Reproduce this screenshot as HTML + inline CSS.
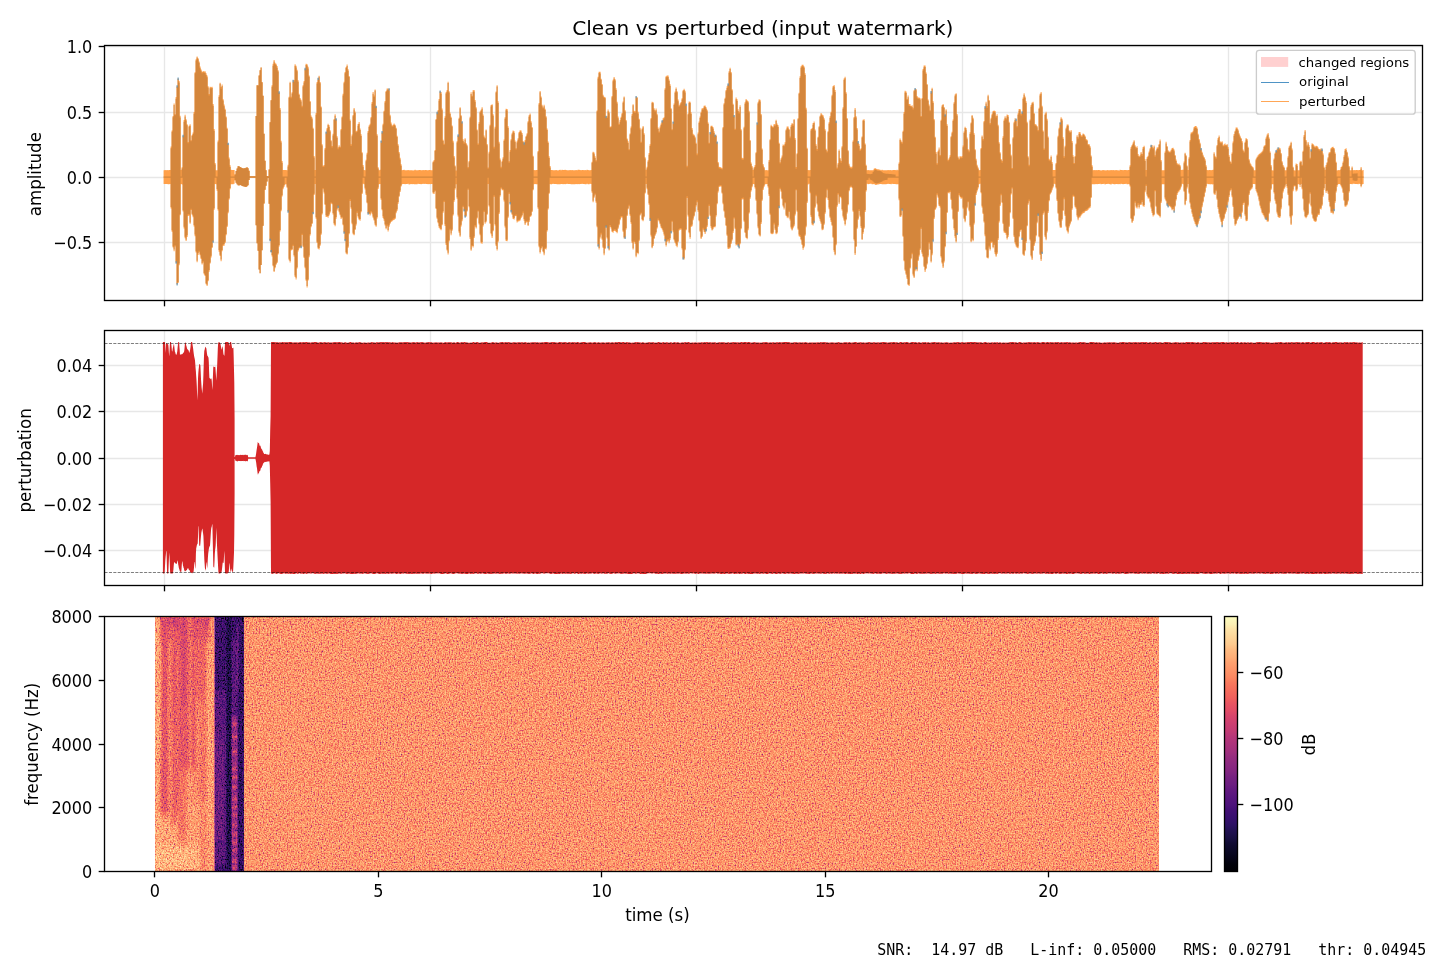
<!DOCTYPE html>
<html lang="en"><head><meta charset="utf-8"><title>Clean vs perturbed (input watermark)</title>
<style>html,body{margin:0;padding:0;background:#fff;}body{width:1440px;height:960px;overflow:hidden;position:relative;}svg{position:absolute;left:0;top:0;display:block;}text{font-family:"DejaVu Sans","Liberation Sans",sans-serif;fill:#000;}.t{font-size:16.67px;}.l{font-size:16.67px;}.ttl{font-size:20px;}.lg{font-size:13.33px;}.mono{font-family:"DejaVu Sans Mono","Liberation Mono",monospace;font-size:15px;white-space:pre;}</style></head><body>
<svg width="1440" height="960" viewBox="0 0 1440 960">
<defs>
<filter id="spec" x="0" y="0" width="100%" height="100%" color-interpolation-filters="sRGB"><feTurbulence type="fractalNoise" baseFrequency="0.71 0.66" numOctaves="2" seed="3"/><feColorMatrix type="matrix" values="1 0 0 0 0  1 0 0 0 0  1 0 0 0 0  0 0 0 0 1"/><feComponentTransfer result="dev"><feFuncR type="table" tableValues="0.0027 0.0027 0.0027 0.0027 0.0027 0.0147 0.0426 0.0696 0.0956 0.1208 0.1450 0.1683 0.1908 0.2123 0.2330 0.2529 0.2718 0.2900 0.3073 0.3239 0.3397 0.3547 0.3690 0.3826 0.3956 0.4080 0.4197 0.4309 0.4415 0.4517 0.4613 0.4705 0.4793 0.4877 0.4957 0.5033 0.5106 0.5177 0.5244 0.5308 0.5370 0.5430 0.5487 0.5542 0.5595 0.5646 0.5696 0.5744 0.5790 0.5834 0.5878 0.5920 0.5960 0.6000 0.6038 0.6076 0.6112 0.6147 0.6181 0.6215 0.6229 0.6229 0.6229 0.6229 0.6229"/><feFuncG type="table" tableValues="0.0027 0.0027 0.0027 0.0027 0.0027 0.0147 0.0426 0.0696 0.0956 0.1208 0.1450 0.1683 0.1908 0.2123 0.2330 0.2529 0.2718 0.2900 0.3073 0.3239 0.3397 0.3547 0.3690 0.3826 0.3956 0.4080 0.4197 0.4309 0.4415 0.4517 0.4613 0.4705 0.4793 0.4877 0.4957 0.5033 0.5106 0.5177 0.5244 0.5308 0.5370 0.5430 0.5487 0.5542 0.5595 0.5646 0.5696 0.5744 0.5790 0.5834 0.5878 0.5920 0.5960 0.6000 0.6038 0.6076 0.6112 0.6147 0.6181 0.6215 0.6229 0.6229 0.6229 0.6229 0.6229"/><feFuncB type="table" tableValues="0.0027 0.0027 0.0027 0.0027 0.0027 0.0147 0.0426 0.0696 0.0956 0.1208 0.1450 0.1683 0.1908 0.2123 0.2330 0.2529 0.2718 0.2900 0.3073 0.3239 0.3397 0.3547 0.3690 0.3826 0.3956 0.4080 0.4197 0.4309 0.4415 0.4517 0.4613 0.4705 0.4793 0.4877 0.4957 0.5033 0.5106 0.5177 0.5244 0.5308 0.5370 0.5430 0.5487 0.5542 0.5595 0.5646 0.5696 0.5744 0.5790 0.5834 0.5878 0.5920 0.5960 0.6000 0.6038 0.6076 0.6112 0.6147 0.6181 0.6215 0.6229 0.6229 0.6229 0.6229 0.6229"/></feComponentTransfer><feComposite in="dev" in2="SourceGraphic" operator="arithmetic" k1="0" k2="1" k3="1" k4="-0.5"/><feComponentTransfer><feFuncR type="table" tableValues="0.001 0.008 0.019 0.036 0.057 0.079 0.103 0.129 0.159 0.191 0.225 0.259 0.291 0.323 0.354 0.384 0.415 0.445 0.476 0.507 0.538 0.569 0.601 0.633 0.665 0.697 0.729 0.761 0.792 0.823 0.852 0.879 0.904 0.926 0.944 0.958 0.970 0.978 0.985 0.989 0.993 0.995 0.997 0.997 0.997 0.997 0.996 0.994 0.992 0.991 0.989 0.987"/><feFuncG type="table" tableValues="0.000 0.006 0.016 0.028 0.042 0.054 0.063 0.068 0.068 0.065 0.060 0.060 0.065 0.074 0.085 0.098 0.110 0.123 0.135 0.146 0.157 0.167 0.178 0.188 0.198 0.209 0.219 0.231 0.244 0.259 0.276 0.296 0.320 0.347 0.378 0.411 0.447 0.484 0.521 0.558 0.595 0.632 0.668 0.705 0.741 0.777 0.813 0.849 0.884 0.920 0.956 0.991"/><feFuncB type="table" tableValues="0.014 0.045 0.085 0.125 0.167 0.212 0.258 0.305 0.353 0.396 0.432 0.458 0.475 0.487 0.496 0.501 0.505 0.507 0.508 0.508 0.507 0.504 0.500 0.495 0.489 0.481 0.471 0.460 0.448 0.434 0.419 0.403 0.388 0.375 0.365 0.360 0.360 0.366 0.377 0.392 0.410 0.432 0.456 0.483 0.511 0.541 0.573 0.606 0.640 0.676 0.712 0.750"/></feComponentTransfer><feComposite in2="SourceGraphic" operator="in"/></filter><filter id="bl" x="-30%" y="-10%" width="160%" height="120%" color-interpolation-filters="sRGB"><feGaussianBlur stdDeviation="1.2 3"/></filter><filter id="bl2" x="-30%" y="-10%" width="160%" height="120%" color-interpolation-filters="sRGB"><feGaussianBlur stdDeviation="0.5 0.8"/></filter><clipPath id="cs1"><rect x="155" y="616" width="59.7" height="256"/></clipPath><clipPath id="cs2"><rect x="214.7" y="616" width="29.2" height="256"/></clipPath>
<linearGradient id="magma" x1="0" y1="1" x2="0" y2="0">
<stop offset="0" stop-color="rgb(0,0,4)"/>
<stop offset="0.03" stop-color="rgb(2,2,11)"/>
<stop offset="0.05" stop-color="rgb(5,4,23)"/>
<stop offset="0.08" stop-color="rgb(10,8,36)"/>
<stop offset="0.11" stop-color="rgb(16,11,50)"/>
<stop offset="0.13" stop-color="rgb(24,15,65)"/>
<stop offset="0.16" stop-color="rgb(33,17,82)"/>
<stop offset="0.18" stop-color="rgb(43,17,98)"/>
<stop offset="0.21" stop-color="rgb(55,15,111)"/>
<stop offset="0.24" stop-color="rgb(66,15,117)"/>
<stop offset="0.26" stop-color="rgb(77,18,123)"/>
<stop offset="0.29" stop-color="rgb(87,21,126)"/>
<stop offset="0.32" stop-color="rgb(98,25,128)"/>
<stop offset="0.34" stop-color="rgb(108,29,129)"/>
<stop offset="0.37" stop-color="rgb(118,33,129)"/>
<stop offset="0.39" stop-color="rgb(129,37,129)"/>
<stop offset="0.42" stop-color="rgb(140,41,129)"/>
<stop offset="0.45" stop-color="rgb(150,45,127)"/>
<stop offset="0.47" stop-color="rgb(161,48,126)"/>
<stop offset="0.5" stop-color="rgb(172,51,123)"/>
<stop offset="0.53" stop-color="rgb(183,55,121)"/>
<stop offset="0.55" stop-color="rgb(194,59,117)"/>
<stop offset="0.58" stop-color="rgb(205,63,113)"/>
<stop offset="0.61" stop-color="rgb(215,69,108)"/>
<stop offset="0.63" stop-color="rgb(225,76,103)"/>
<stop offset="0.66" stop-color="rgb(233,85,98)"/>
<stop offset="0.68" stop-color="rgb(240,96,93)"/>
<stop offset="0.71" stop-color="rgb(245,108,92)"/>
<stop offset="0.74" stop-color="rgb(249,121,93)"/>
<stop offset="0.76" stop-color="rgb(251,135,97)"/>
<stop offset="0.79" stop-color="rgb(253,148,104)"/>
<stop offset="0.82" stop-color="rgb(254,161,111)"/>
<stop offset="0.84" stop-color="rgb(254,174,119)"/>
<stop offset="0.87" stop-color="rgb(254,187,129)"/>
<stop offset="0.89" stop-color="rgb(254,201,141)"/>
<stop offset="0.92" stop-color="rgb(253,214,154)"/>
<stop offset="0.95" stop-color="rgb(253,227,167)"/>
<stop offset="0.97" stop-color="rgb(252,240,181)"/>
<stop offset="1" stop-color="rgb(252,253,191)"/>
</linearGradient>
<clipPath id="c1"><rect x="104.5" y="45.5" width="1318" height="255"/></clipPath>
<clipPath id="c2"><rect x="104.5" y="330.5" width="1318" height="255"/></clipPath>
</defs>
<rect width="1440" height="960" fill="#fff"/>
<g id="ax1">
<line x1="164.5" y1="45.5" x2="164.5" y2="300.5" stroke="#e7e7e7" stroke-width="1.33"/>
<line x1="430.5" y1="45.5" x2="430.5" y2="300.5" stroke="#e7e7e7" stroke-width="1.33"/>
<line x1="696.5" y1="45.5" x2="696.5" y2="300.5" stroke="#e7e7e7" stroke-width="1.33"/>
<line x1="962.5" y1="45.5" x2="962.5" y2="300.5" stroke="#e7e7e7" stroke-width="1.33"/>
<line x1="1228.5" y1="45.5" x2="1228.5" y2="300.5" stroke="#e7e7e7" stroke-width="1.33"/>
<line x1="104.5" y1="46.5" x2="1422.5" y2="46.5" stroke="#e7e7e7" stroke-width="1.33"/>
<line x1="104.5" y1="112.5" x2="1422.5" y2="112.5" stroke="#e7e7e7" stroke-width="1.33"/>
<line x1="104.5" y1="177.5" x2="1422.5" y2="177.5" stroke="#e7e7e7" stroke-width="1.33"/>
<line x1="104.5" y1="242.5" x2="1422.5" y2="242.5" stroke="#e7e7e7" stroke-width="1.33"/>
<g clip-path="url(#c1)">
<path d="M163.6 170.18L164.6 170.18L164.6 169.9L165.6 169.9L165.6 170.37L166.6 170.37L166.6 170.05L167.6 170.05L167.6 170.14L168.6 170.14L168.6 170.06L169.6 170.06L169.6 169.95L170.6 169.95L170.6 146.56L171.6 146.56L171.6 130.61L172.6 130.61L172.6 116.04L173.6 116.04L173.6 103.59L174.6 103.59L174.6 114.16L175.6 114.16L175.6 96.95L176.6 96.95L176.6 85.78L177.6 85.78L177.6 78.14L178.6 78.14L178.6 81.11L179.6 81.11L179.6 115.77L180.6 115.77L180.6 169.98L181.6 169.98L181.6 167.26L182.6 167.26L182.6 135.38L183.6 135.38L183.6 119.99L184.6 119.99L184.6 114.73L185.6 114.73L185.6 119.26L186.6 119.26L186.6 124.14L187.6 124.14L187.6 142.08L188.6 142.08L188.6 125.63L189.6 125.63L189.6 124.25L190.6 124.25L190.6 140.14L191.6 140.14L191.6 134.88L192.6 134.88L192.6 132.44L193.6 132.44L193.6 111.97L194.6 111.97L194.6 72.3L195.6 72.3L195.6 59.3L196.6 59.3L196.6 56.38L197.6 56.38L197.6 58.26L198.6 58.26L198.6 61.4L199.6 61.4L199.6 66.6L200.6 66.6L200.6 69.43L201.6 69.43L201.6 72.11L202.6 72.11L202.6 70.88L203.6 70.88L203.6 71.55L204.6 71.55L204.6 71.13L205.6 71.13L205.6 73.34L206.6 73.34L206.6 75.55L207.6 75.55L207.6 86.33L208.6 86.33L208.6 94.09L209.6 94.09L209.6 86.73L210.6 86.73L210.6 87.2L211.6 87.2L211.6 86.86L212.6 86.86L212.6 104.07L213.6 104.07L213.6 129.06L214.6 129.06L214.6 163.1L215.6 163.1L215.6 170.24L216.6 170.24L216.6 170.33L217.6 170.33L217.6 140.57L218.6 140.57L218.6 95.36L219.6 95.36L219.6 82.7L220.6 82.7L220.6 87.01L221.6 87.01L221.6 84.59L222.6 84.59L222.6 99.2L223.6 99.2L223.6 104.55L224.6 104.55L224.6 108.63L225.6 108.63L225.6 116.4L226.6 116.4L226.6 127.79L227.6 127.79L227.6 143.23L228.6 143.23L228.6 157.5L229.6 157.5L229.6 165.2L230.6 165.2L230.6 169.84L231.6 169.84L231.6 169.99L232.6 169.99L232.6 169.93L233.6 169.93L233.6 169.98L234.6 169.98L234.6 174.54L235.6 174.54L235.6 171.04L236.6 171.04L236.6 168.6L237.6 168.6L237.6 166.35L238.6 166.35L238.6 166.15L239.6 166.15L239.6 167.01L240.6 167.01L240.6 167.61L241.6 167.61L241.6 167.99L242.6 167.99L242.6 168.41L243.6 168.41L243.6 168.29L244.6 168.29L244.6 168.2L245.6 168.2L245.6 167.78L246.6 167.78L246.6 167.33L247.6 167.33L247.6 168.28L248.6 168.28L248.6 170.83L249.6 170.83L249.6 176.26L250.6 176.26L250.6 176.27L251.6 176.27L251.6 176.27L252.6 176.27L252.6 176.25L253.6 176.25L253.6 176.25L254.6 176.25L254.6 176.26L255.6 176.26L255.6 115.88L256.6 115.88L256.6 85.36L257.6 85.36L257.6 85.46L258.6 85.46L258.6 75.61L259.6 75.61L259.6 70.26L260.6 70.26L260.6 67.55L261.6 67.55L261.6 82.22L262.6 82.22L262.6 95.66L263.6 95.66L263.6 133.85L264.6 133.85L264.6 160.72L265.6 160.72L265.6 170.18L266.6 170.18L266.6 175.97L267.6 175.97L267.6 176.26L268.6 176.26L268.6 169.5L269.6 169.5L269.6 122.36L270.6 122.36L270.6 100.22L271.6 100.22L271.6 85.3L272.6 85.3L272.6 63.87L273.6 63.87L273.6 60.11L274.6 60.11L274.6 62.84L275.6 62.84L275.6 63.87L276.6 63.87L276.6 66.11L277.6 66.11L277.6 70.37L278.6 70.37L278.6 91.83L279.6 91.83L279.6 107.98L280.6 107.98L280.6 140.82L281.6 140.82L281.6 160.91L282.6 160.91L282.6 169.99L283.6 169.99L283.6 169.88L284.6 169.88L284.6 169.92L285.6 169.92L285.6 169.95L286.6 169.95L286.6 170.21L287.6 170.21L287.6 164.86L288.6 164.86L288.6 96.64L289.6 96.64L289.6 81.84L290.6 81.84L290.6 96.68L291.6 96.68L291.6 92.37L292.6 92.37L292.6 80.35L293.6 80.35L293.6 79.92L294.6 79.92L294.6 64.21L295.6 64.21L295.6 65.7L296.6 65.7L296.6 69.67L297.6 69.67L297.6 80.31L298.6 80.31L298.6 93.85L299.6 93.85L299.6 97.96L300.6 97.96L300.6 99.65L301.6 99.65L301.6 105.83L302.6 105.83L302.6 85.2L303.6 85.2L303.6 81.03L304.6 81.03L304.6 68.4L305.6 68.4L305.6 63.67L306.6 63.67L306.6 64.34L307.6 64.34L307.6 66.79L308.6 66.79L308.6 75.38L309.6 75.38L309.6 100.96L310.6 100.96L310.6 115.45L311.6 115.45L311.6 117.41L312.6 117.41L312.6 127.77L313.6 127.77L313.6 155.93L314.6 155.93L314.6 169.95L315.6 169.95L315.6 112.95L316.6 112.95L316.6 81.98L317.6 81.98L317.6 78.27L318.6 78.27L318.6 75.68L319.6 75.68L319.6 82.04L320.6 82.04L320.6 106.43L321.6 106.43L321.6 144.24L322.6 144.24L322.6 165.87L323.6 165.87L323.6 165.11L324.6 165.11L324.6 148.05L325.6 148.05L325.6 131.99L326.6 131.99L326.6 127.99L327.6 127.99L327.6 123.78L328.6 123.78L328.6 125.25L329.6 125.25L329.6 130.33L330.6 130.33L330.6 140.26L331.6 140.26L331.6 146.08L332.6 146.08L332.6 133.85L333.6 133.85L333.6 118.92L334.6 118.92L334.6 114.29L335.6 114.29L335.6 118.76L336.6 118.76L336.6 136.31L337.6 136.31L337.6 147.6L338.6 147.6L338.6 145.2L339.6 145.2L339.6 146.83L340.6 146.83L340.6 128.89L341.6 128.89L341.6 116.52L342.6 116.52L342.6 93.85L343.6 93.85L343.6 81.76L344.6 81.76L344.6 72.1L345.6 72.1L345.6 66.9L346.6 66.9L346.6 64.58L347.6 64.58L347.6 69.36L348.6 69.36L348.6 76.02L349.6 76.02L349.6 119.57L350.6 119.57L350.6 144.37L351.6 144.37L351.6 134.53L352.6 134.53L352.6 114.9L353.6 114.9L353.6 108.01L354.6 108.01L354.6 111.39L355.6 111.39L355.6 131.13L356.6 131.13L356.6 130.61L357.6 130.61L357.6 123.9L358.6 123.9L358.6 122.01L359.6 122.01L359.6 128.44L360.6 128.44L360.6 134.27L361.6 134.27L361.6 152.22L362.6 152.22L362.6 165.05L363.6 165.05L363.6 169.91L364.6 169.91L364.6 170.31L365.6 170.31L365.6 159.86L366.6 159.86L366.6 152.69L367.6 152.69L367.6 131L368.6 131L368.6 125.38L369.6 125.38L369.6 123.73L370.6 123.73L370.6 116.99L371.6 116.99L371.6 102.07L372.6 102.07L372.6 91.96L373.6 91.96L373.6 95.53L374.6 95.53L374.6 89.4L375.6 89.4L375.6 106.32L376.6 106.32L376.6 134.33L377.6 134.33L377.6 167.21L378.6 167.21L378.6 170.3L379.6 170.3L379.6 169.84L380.6 169.84L380.6 141L381.6 141L381.6 131.66L382.6 131.66L382.6 123.65L383.6 123.65L383.6 110.64L384.6 110.64L384.6 101.11L385.6 101.11L385.6 91.02L386.6 91.02L386.6 88.61L387.6 88.61L387.6 88.5L388.6 88.5L388.6 88.79L389.6 88.79L389.6 114.74L390.6 114.74L390.6 122.58L391.6 122.58L391.6 125.52L392.6 125.52L392.6 124.85L393.6 124.85L393.6 123.54L394.6 123.54L394.6 124.64L395.6 124.64L395.6 127.73L396.6 127.73L396.6 135.79L397.6 135.79L397.6 144.26L398.6 144.26L398.6 152L399.6 152L399.6 157.76L400.6 157.76L400.6 164.37L401.6 164.37L401.6 170.37L402.6 170.37L402.6 170.05L403.6 170.05L403.6 169.8L404.6 169.8L404.6 170.3L405.6 170.3L405.6 170.21L406.6 170.21L406.6 170.19L407.6 170.19L407.6 170.03L408.6 170.03L408.6 170.22L409.6 170.22L409.6 170.27L410.6 170.27L410.6 170.29L411.6 170.29L411.6 170.36L412.6 170.36L412.6 170.38L413.6 170.38L413.6 170.32L414.6 170.32L414.6 169.82L415.6 169.82L415.6 170.24L416.6 170.24L416.6 170.33L417.6 170.33L417.6 170.21L418.6 170.21L418.6 170.06L419.6 170.06L419.6 169.97L420.6 169.97L420.6 170.23L421.6 170.23L421.6 170.25L422.6 170.25L422.6 169.97L423.6 169.97L423.6 170.21L424.6 170.21L424.6 169.99L425.6 169.99L425.6 170.04L426.6 170.04L426.6 170.35L427.6 170.35L427.6 170.15L428.6 170.15L428.6 169.98L429.6 169.98L429.6 169.92L430.6 169.92L430.6 170.19L431.6 170.19L431.6 170.25L432.6 170.25L432.6 161.43L433.6 161.43L433.6 160L434.6 160L434.6 150.03L435.6 150.03L435.6 118.93L436.6 118.93L436.6 112.33L437.6 112.33L437.6 109.99L438.6 109.99L438.6 99.06L439.6 99.06L439.6 91.12L440.6 91.12L440.6 92.03L441.6 92.03L441.6 108.48L442.6 108.48L442.6 139.64L443.6 139.64L443.6 143.8L444.6 143.8L444.6 116.16L445.6 116.16L445.6 92.23L446.6 92.23L446.6 89.91L447.6 89.91L447.6 81.83L448.6 81.83L448.6 91.13L449.6 91.13L449.6 112.56L450.6 112.56L450.6 116.63L451.6 116.63L451.6 125.45L452.6 125.45L452.6 140.83L453.6 140.83L453.6 155.98L454.6 155.98L454.6 165.44L455.6 165.44L455.6 170.39L456.6 170.39L456.6 141.23L457.6 141.23L457.6 134.91L458.6 134.91L458.6 117.83L459.6 117.83L459.6 107.17L460.6 107.17L460.6 115.19L461.6 115.19L461.6 121.77L462.6 121.77L462.6 139.37L463.6 139.37L463.6 142.25L464.6 142.25L464.6 138.16L465.6 138.16L465.6 142.99L466.6 142.99L466.6 144.82L467.6 144.82L467.6 166.91L468.6 166.91L468.6 160.99L469.6 160.99L469.6 116.8L470.6 116.8L470.6 92.15L471.6 92.15L471.6 95.75L472.6 95.75L472.6 90.31L473.6 90.31L473.6 89.97L474.6 89.97L474.6 100.1L475.6 100.1L475.6 107.32L476.6 107.32L476.6 129.45L477.6 129.45L477.6 143.4L478.6 143.4L478.6 122.24L479.6 122.24L479.6 111.42L480.6 111.42L480.6 109.68L481.6 109.68L481.6 107.16L482.6 107.16L482.6 114.48L483.6 114.48L483.6 135.53L484.6 135.53L484.6 137.72L485.6 137.72L485.6 129.44L486.6 129.44L486.6 143.89L487.6 143.89L487.6 167.45L488.6 167.45L488.6 151.81L489.6 151.81L489.6 124.69L490.6 124.69L490.6 104.96L491.6 104.96L491.6 104.32L492.6 104.32L492.6 114.22L493.6 114.22L493.6 146.79L494.6 146.79L494.6 126.82L495.6 126.82L495.6 91.38L496.6 91.38L496.6 85.15L497.6 85.15L497.6 101.29L498.6 101.29L498.6 141.86L499.6 141.86L499.6 158.54L500.6 158.54L500.6 166.84L501.6 166.84L501.6 160.68L502.6 160.68L502.6 157.13L503.6 157.13L503.6 139.62L504.6 139.62L504.6 117.17L505.6 117.17L505.6 108.76L506.6 108.76L506.6 109.04L507.6 109.04L507.6 126.29L508.6 126.29L508.6 161.21L509.6 161.21L509.6 150.07L510.6 150.07L510.6 139.3L511.6 139.3L511.6 133.25L512.6 133.25L512.6 130.56L513.6 130.56L513.6 131.28L514.6 131.28L514.6 140.62L515.6 140.62L515.6 148.22L516.6 148.22L516.6 141.32L517.6 141.32L517.6 138.16L518.6 138.16L518.6 132.08L519.6 132.08L519.6 130.16L520.6 130.16L520.6 130.4L521.6 130.4L521.6 132.94L522.6 132.94L522.6 140.97L523.6 140.97L523.6 142.88L524.6 142.88L524.6 140.07L525.6 140.07L525.6 135.93L526.6 135.93L526.6 133.32L527.6 133.32L527.6 121.28L528.6 121.28L528.6 115.21L529.6 115.21L529.6 113.42L530.6 113.42L530.6 121.36L531.6 121.36L531.6 127.02L532.6 127.02L532.6 155.74L533.6 155.74L533.6 169.93L534.6 169.93L534.6 170.34L535.6 170.34L535.6 169.9L536.6 169.9L536.6 169.9L537.6 169.9L537.6 151.08L538.6 151.08L538.6 103.1L539.6 103.1L539.6 90.91L540.6 90.91L540.6 96.62L541.6 96.62L541.6 104.68L542.6 104.68L542.6 107.46L543.6 107.46L543.6 104.82L544.6 104.82L544.6 108.77L545.6 108.77L545.6 116.25L546.6 116.25L546.6 128.45L547.6 128.45L547.6 141.46L548.6 141.46L548.6 156.27L549.6 156.27L549.6 166.11L550.6 166.11L550.6 169.99L551.6 169.99L551.6 169.9L552.6 169.9L552.6 170.3L553.6 170.3L553.6 170.21L554.6 170.21L554.6 170.17L555.6 170.17L555.6 169.93L556.6 169.93L556.6 170.23L557.6 170.23L557.6 170.38L558.6 170.38L558.6 170.07L559.6 170.07L559.6 169.82L560.6 169.82L560.6 170.16L561.6 170.16L561.6 169.86L562.6 169.86L562.6 170.05L563.6 170.05L563.6 170L564.6 170L564.6 169.87L565.6 169.87L565.6 169.91L566.6 169.91L566.6 170.18L567.6 170.18L567.6 170.23L568.6 170.23L568.6 170.27L569.6 170.27L569.6 169.9L570.6 169.9L570.6 170.36L571.6 170.36L571.6 169.88L572.6 169.88L572.6 170.32L573.6 170.32L573.6 170.23L574.6 170.23L574.6 170.24L575.6 170.24L575.6 169.97L576.6 169.97L576.6 170.19L577.6 170.19L577.6 169.86L578.6 169.86L578.6 169.81L579.6 169.81L579.6 170.1L580.6 170.1L580.6 170.14L581.6 170.14L581.6 170.05L582.6 170.05L582.6 170.08L583.6 170.08L583.6 170.25L584.6 170.25L584.6 170.05L585.6 170.05L585.6 170.16L586.6 170.16L586.6 169.85L587.6 169.85L587.6 169.91L588.6 169.91L588.6 170.37L589.6 170.37L589.6 170.24L590.6 170.24L590.6 169.92L591.6 169.92L591.6 161.82L592.6 161.82L592.6 151.77L593.6 151.77L593.6 152.54L594.6 152.54L594.6 156.21L595.6 156.21L595.6 160.29L596.6 160.29L596.6 110.5L597.6 110.5L597.6 76.85L598.6 76.85L598.6 71.86L599.6 71.86L599.6 71.67L600.6 71.67L600.6 78.79L601.6 78.79L601.6 83.92L602.6 83.92L602.6 94.76L603.6 94.76L603.6 96.68L604.6 96.68L604.6 97.17L605.6 97.17L605.6 116.28L606.6 116.28L606.6 116.31L607.6 116.31L607.6 109.57L608.6 109.57L608.6 111.76L609.6 111.76L609.6 126.64L610.6 126.64L610.6 126.24L611.6 126.24L611.6 95.94L612.6 95.94L612.6 79.71L613.6 79.71L613.6 77.02L614.6 77.02L614.6 79.26L615.6 79.26L615.6 88.37L616.6 88.37L616.6 101.69L617.6 101.69L617.6 116.53L618.6 116.53L618.6 123.82L619.6 123.82L619.6 120.12L620.6 120.12L620.6 116.78L621.6 116.78L621.6 112.93L622.6 112.93L622.6 101.5L623.6 101.5L623.6 96.56L624.6 96.56L624.6 110.26L625.6 110.26L625.6 119.9L626.6 119.9L626.6 138.54L627.6 138.54L627.6 141.37L628.6 141.37L628.6 149.15L629.6 149.15L629.6 133.44L630.6 133.44L630.6 126.62L631.6 126.62L631.6 114L632.6 114L632.6 104.18L633.6 104.18L633.6 110.8L634.6 110.8L634.6 111.23L635.6 111.23L635.6 96.55L636.6 96.55L636.6 96.91L637.6 96.91L637.6 111.72L638.6 111.72L638.6 118.64L639.6 118.64L639.6 127.77L640.6 127.77L640.6 141.8L641.6 141.8L641.6 128.51L642.6 128.51L642.6 126.11L643.6 126.11L643.6 133.31L644.6 133.31L644.6 157.15L645.6 157.15L645.6 169.87L646.6 169.87L646.6 166.67L647.6 166.67L647.6 160.31L648.6 160.31L648.6 153.06L649.6 153.06L649.6 144.37L650.6 144.37L650.6 118.04L651.6 118.04L651.6 101.69L652.6 101.69L652.6 102.21L653.6 102.21L653.6 108.16L654.6 108.16L654.6 110.43L655.6 110.43L655.6 108.5L656.6 108.5L656.6 113.7L657.6 113.7L657.6 127.61L658.6 127.61L658.6 131.44L659.6 131.44L659.6 126.48L660.6 126.48L660.6 123.6L661.6 123.6L661.6 120.82L662.6 120.82L662.6 118.25L663.6 118.25L663.6 117.31L664.6 117.31L664.6 88.35L665.6 88.35L665.6 76.15L666.6 76.15L666.6 75.5L667.6 75.5L667.6 75.51L668.6 75.51L668.6 79.53L669.6 79.53L669.6 84.26L670.6 84.26L670.6 108.14L671.6 108.14L671.6 129.17L672.6 129.17L672.6 122.06L673.6 122.06L673.6 103.55L674.6 103.55L674.6 91.52L675.6 91.52L675.6 87.49L676.6 87.49L676.6 91.15L677.6 91.15L677.6 99.56L678.6 99.56L678.6 105.57L679.6 105.57L679.6 103.6L680.6 103.6L680.6 102.1L681.6 102.1L681.6 98.19L682.6 98.19L682.6 90.13L683.6 90.13L683.6 88.8L684.6 88.8L684.6 90.81L685.6 90.81L685.6 104.19L686.6 104.19L686.6 165.7L687.6 165.7L687.6 113.41L688.6 113.41L688.6 101.56L689.6 101.56L689.6 101.79L690.6 101.79L690.6 112.28L691.6 112.28L691.6 127.93L692.6 127.93L692.6 133.86L693.6 133.86L693.6 134.64L694.6 134.64L694.6 136.86L695.6 136.86L695.6 142.82L696.6 142.82L696.6 153.61L697.6 153.61L697.6 132.57L698.6 132.57L698.6 121.6L699.6 121.6L699.6 116.4L700.6 116.4L700.6 111.85L701.6 111.85L701.6 108.26L702.6 108.26L702.6 108.32L703.6 108.32L703.6 105.75L704.6 105.75L704.6 105.47L705.6 105.47L705.6 107.32L706.6 107.32L706.6 109.69L707.6 109.69L707.6 122.51L708.6 122.51L708.6 142.7L709.6 142.7L709.6 132.57L710.6 132.57L710.6 125.69L711.6 125.69L711.6 125.78L712.6 125.78L712.6 127.14L713.6 127.14L713.6 131.37L714.6 131.37L714.6 134.99L715.6 134.99L715.6 134.7L716.6 134.7L716.6 142.04L717.6 142.04L717.6 161.98L718.6 161.98L718.6 166.73L719.6 166.73L719.6 166.96L720.6 166.96L720.6 167.51L721.6 167.51L721.6 168.24L722.6 168.24L722.6 126.97L723.6 126.97L723.6 103.16L724.6 103.16L724.6 97.82L725.6 97.82L725.6 90.06L726.6 90.06L726.6 86.18L727.6 86.18L727.6 83.94L728.6 83.94L728.6 71.23L729.6 71.23L729.6 67.83L730.6 67.83L730.6 71.99L731.6 71.99L731.6 89.24L732.6 89.24L732.6 103.78L733.6 103.78L733.6 115.53L734.6 115.53L734.6 128.86L735.6 128.86L735.6 97.6L736.6 97.6L736.6 99.33L737.6 99.33L737.6 109.16L738.6 109.16L738.6 111.85L739.6 111.85L739.6 105.32L740.6 105.32L740.6 129.14L741.6 129.14L741.6 157.78L742.6 157.78L742.6 158.24L743.6 158.24L743.6 126.66L744.6 126.66L744.6 102.28L745.6 102.28L745.6 99.09L746.6 99.09L746.6 100.29L747.6 100.29L747.6 101.21L748.6 101.21L748.6 110.66L749.6 110.66L749.6 139.88L750.6 139.88L750.6 162.54L751.6 162.54L751.6 166.02L752.6 166.02L752.6 169.93L753.6 169.93L753.6 167.16L754.6 167.16L754.6 164.95L755.6 164.95L755.6 152.19L756.6 152.19L756.6 122.93L757.6 122.93L757.6 102.31L758.6 102.31L758.6 99.27L759.6 99.27L759.6 99.81L760.6 99.81L760.6 113.97L761.6 113.97L761.6 148.5L762.6 148.5L762.6 164L763.6 164L763.6 167.1L764.6 167.1L764.6 170.25L765.6 170.25L765.6 169.88L766.6 169.88L766.6 170.34L767.6 170.34L767.6 170.29L768.6 170.29L768.6 160.07L769.6 160.07L769.6 139.17L770.6 139.17L770.6 124.67L771.6 124.67L771.6 126.09L772.6 126.09L772.6 126.94L773.6 126.94L773.6 123.92L774.6 123.92L774.6 124.52L775.6 124.52L775.6 119.64L776.6 119.64L776.6 123.53L777.6 123.53L777.6 125.37L778.6 125.37L778.6 142.85L779.6 142.85L779.6 162.35L780.6 162.35L780.6 158.37L781.6 158.37L781.6 155.61L782.6 155.61L782.6 144.41L783.6 144.41L783.6 145.27L784.6 145.27L784.6 142.35L785.6 142.35L785.6 129.49L786.6 129.49L786.6 126.54L787.6 126.54L787.6 126.57L788.6 126.57L788.6 129.01L789.6 129.01L789.6 136.54L790.6 136.54L790.6 125.2L791.6 125.2L791.6 122.9L792.6 122.9L792.6 124.15L793.6 124.15L793.6 118.93L794.6 118.93L794.6 138.12L795.6 138.12L795.6 167.01L796.6 167.01L796.6 153.19L797.6 153.19L797.6 118.24L798.6 118.24L798.6 92.72L799.6 92.72L799.6 76.18L800.6 76.18L800.6 66.24L801.6 66.24L801.6 64.8L802.6 64.8L802.6 64.71L803.6 64.71L803.6 66.58L804.6 66.58L804.6 73.33L805.6 73.33L805.6 107.85L806.6 107.85L806.6 147.63L807.6 147.63L807.6 169.9L808.6 169.9L808.6 170.24L809.6 170.24L809.6 169.96L810.6 169.96L810.6 128.9L811.6 128.9L811.6 127.92L812.6 127.92L812.6 123L813.6 123L813.6 121.46L814.6 121.46L814.6 129.48L815.6 129.48L815.6 144.33L816.6 144.33L816.6 148.92L817.6 148.92L817.6 136.65L818.6 136.65L818.6 126.18L819.6 126.18L819.6 115.74L820.6 115.74L820.6 113L821.6 113L821.6 114.58L822.6 114.58L822.6 115.33L823.6 115.33L823.6 118.3L824.6 118.3L824.6 129.16L825.6 129.16L825.6 148.85L826.6 148.85L826.6 151.19L827.6 151.19L827.6 131.15L828.6 131.15L828.6 122.19L829.6 122.19L829.6 116.32L830.6 116.32L830.6 111.67L831.6 111.67L831.6 94.71L832.6 94.71L832.6 86.07L833.6 86.07L833.6 85.11L834.6 85.11L834.6 90.12L835.6 90.12L835.6 121.14L836.6 121.14L836.6 167.61L837.6 167.61L837.6 163.02L838.6 163.02L838.6 149.53L839.6 149.53L839.6 158.09L840.6 158.09L840.6 160.98L841.6 160.98L841.6 146.17L842.6 146.17L842.6 107.31L843.6 107.31L843.6 78.49L844.6 78.49L844.6 76.82L845.6 76.82L845.6 92.16L846.6 92.16L846.6 117.91L847.6 117.91L847.6 150.35L848.6 150.35L848.6 163.75L849.6 163.75L849.6 166.58L850.6 166.58L850.6 167.14L851.6 167.14L851.6 166.52L852.6 166.52L852.6 140.51L853.6 140.51L853.6 117.06L854.6 117.06L854.6 108.08L855.6 108.08L855.6 116.13L856.6 116.13L856.6 127.95L857.6 127.95L857.6 141.62L858.6 141.62L858.6 144.28L859.6 144.28L859.6 149.47L860.6 149.47L860.6 148.25L861.6 148.25L861.6 136.43L862.6 136.43L862.6 119.7L863.6 119.7L863.6 119.32L864.6 119.32L864.6 143.53L865.6 143.53L865.6 164.84L866.6 164.84L866.6 170.33L867.6 170.33L867.6 170.06L868.6 170.06L868.6 170.32L869.6 170.32L869.6 170.18L870.6 170.18L870.6 170.18L871.6 170.18L871.6 170.36L872.6 170.36L872.6 170.17L873.6 170.17L873.6 168.63L874.6 168.63L874.6 167.93L875.6 167.93L875.6 168.66L876.6 168.66L876.6 169.17L877.6 169.17L877.6 169.35L878.6 169.35L878.6 169.38L879.6 169.38L879.6 169.76L880.6 169.76L880.6 170.21L881.6 170.21L881.6 169.86L882.6 169.86L882.6 170.24L883.6 170.24L883.6 170.29L884.6 170.29L884.6 170.24L885.6 170.24L885.6 170.19L886.6 170.19L886.6 170.3L887.6 170.3L887.6 169.95L888.6 169.95L888.6 170.19L889.6 170.19L889.6 169.99L890.6 169.99L890.6 170.29L891.6 170.29L891.6 170.29L892.6 170.29L892.6 169.96L893.6 169.96L893.6 170.04L894.6 170.04L894.6 169.92L895.6 169.92L895.6 170.32L896.6 170.32L896.6 169.84L897.6 169.84L897.6 170.25L898.6 170.25L898.6 162.47L899.6 162.47L899.6 138.6L900.6 138.6L900.6 140.43L901.6 140.43L901.6 142.19L902.6 142.19L902.6 130.68L903.6 130.68L903.6 112.11L904.6 112.11L904.6 90.8L905.6 90.8L905.6 91.53L906.6 91.53L906.6 98.88L907.6 98.88L907.6 95.46L908.6 95.46L908.6 103.97L909.6 103.97L909.6 104.32L910.6 104.32L910.6 106.12L911.6 106.12L911.6 105.21L912.6 105.21L912.6 107.83L913.6 107.83L913.6 90.32L914.6 90.32L914.6 88.51L915.6 88.51L915.6 89.02L916.6 89.02L916.6 95.93L917.6 95.93L917.6 97.59L918.6 97.59L918.6 97.41L919.6 97.41L919.6 98.2L920.6 98.2L920.6 115.93L921.6 115.93L921.6 98.08L922.6 98.08L922.6 68.96L923.6 68.96L923.6 65.58L924.6 65.58L924.6 65.4L925.6 65.4L925.6 72.48L926.6 72.48L926.6 83.95L927.6 83.95L927.6 99.52L928.6 99.52L928.6 104.42L929.6 104.42L929.6 110.21L930.6 110.21L930.6 91.62L931.6 91.62L931.6 87.8L932.6 87.8L932.6 101.26L933.6 101.26L933.6 118.92L934.6 118.92L934.6 136.84L935.6 136.84L935.6 152.02L936.6 152.02L936.6 163.35L937.6 163.35L937.6 150.83L938.6 150.83L938.6 147.61L939.6 147.61L939.6 154.88L940.6 154.88L940.6 119.8L941.6 119.8L941.6 105.25L942.6 105.25L942.6 103.93L943.6 103.93L943.6 107.08L944.6 107.08L944.6 114.78L945.6 114.78L945.6 109.22L946.6 109.22L946.6 124.28L947.6 124.28L947.6 159.69L948.6 159.69L948.6 158.14L949.6 158.14L949.6 155.34L950.6 155.34L950.6 136.16L951.6 136.16L951.6 131.8L952.6 131.8L952.6 119.57L953.6 119.57L953.6 102.25L954.6 102.25L954.6 94.58L955.6 94.58L955.6 93.14L956.6 93.14L956.6 114.03L957.6 114.03L957.6 156.48L958.6 156.48L958.6 159.08L959.6 159.08L959.6 155.9L960.6 155.9L960.6 156.79L961.6 156.79L961.6 156.1L962.6 156.1L962.6 145.54L963.6 145.54L963.6 131.41L964.6 131.41L964.6 126.73L965.6 126.73L965.6 127.94L966.6 127.94L966.6 137.59L967.6 137.59L967.6 149L968.6 149L968.6 150.38L969.6 150.38L969.6 132.14L970.6 132.14L970.6 122.52L971.6 122.52L971.6 115.02L972.6 115.02L972.6 117.86L973.6 117.86L973.6 133.33L974.6 133.33L974.6 149.16L975.6 149.16L975.6 158.86L976.6 158.86L976.6 164.7L977.6 164.7L977.6 167.55L978.6 167.55L978.6 170.18L979.6 170.18L979.6 170.12L980.6 170.12L980.6 147.9L981.6 147.9L981.6 135.58L982.6 135.58L982.6 138.88L983.6 138.88L983.6 121.12L984.6 121.12L984.6 106.68L985.6 106.68L985.6 101.73L986.6 101.73L986.6 106.02L987.6 106.02L987.6 94.71L988.6 94.71L988.6 99.94L989.6 99.94L989.6 123.12L990.6 123.12L990.6 117.75L991.6 117.75L991.6 113.72L992.6 113.72L992.6 110.91L993.6 110.91L993.6 110.39L994.6 110.39L994.6 110.99L995.6 110.99L995.6 115.79L996.6 115.79L996.6 114.33L997.6 114.33L997.6 124.75L998.6 124.75L998.6 142.2L999.6 142.2L999.6 152.21L1000.6 152.21L1000.6 158.92L1001.6 158.92L1001.6 161.08L1002.6 161.08L1002.6 136.27L1003.6 136.27L1003.6 119.47L1004.6 119.47L1004.6 116.34L1005.6 116.34L1005.6 118.22L1006.6 118.22L1006.6 114.45L1007.6 114.45L1007.6 114.98L1008.6 114.98L1008.6 121.64L1009.6 121.64L1009.6 143.76L1010.6 143.76L1010.6 154.87L1011.6 154.87L1011.6 168.11L1012.6 168.11L1012.6 137.24L1013.6 137.24L1013.6 121.7L1014.6 121.7L1014.6 118.37L1015.6 118.37L1015.6 119.22L1016.6 119.22L1016.6 125.97L1017.6 125.97L1017.6 113.32L1018.6 113.32L1018.6 108.97L1019.6 108.97L1019.6 108.92L1020.6 108.92L1020.6 114.08L1021.6 114.08L1021.6 111.88L1022.6 111.88L1022.6 97.6L1023.6 97.6L1023.6 93.31L1024.6 93.31L1024.6 96.59L1025.6 96.59L1025.6 101.19L1026.6 101.19L1026.6 121.81L1027.6 121.81L1027.6 156.33L1028.6 156.33L1028.6 164.82L1029.6 164.82L1029.6 119.4L1030.6 119.4L1030.6 105.09L1031.6 105.09L1031.6 102.42L1032.6 102.42L1032.6 101.85L1033.6 101.85L1033.6 112.98L1034.6 112.98L1034.6 124.03L1035.6 124.03L1035.6 124.5L1036.6 124.5L1036.6 125.99L1037.6 125.99L1037.6 130.02L1038.6 130.02L1038.6 107.86L1039.6 107.86L1039.6 93.7L1040.6 93.7L1040.6 91.93L1041.6 91.93L1041.6 105.68L1042.6 105.68L1042.6 130.44L1043.6 130.44L1043.6 148.39L1044.6 148.39L1044.6 113.57L1045.6 113.57L1045.6 111.74L1046.6 111.74L1046.6 118.87L1047.6 118.87L1047.6 136.43L1048.6 136.43L1048.6 158.78L1049.6 158.78L1049.6 159.67L1050.6 159.67L1050.6 155.38L1051.6 155.38L1051.6 162.08L1052.6 162.08L1052.6 169.99L1053.6 169.99L1053.6 170.11L1054.6 170.11L1054.6 169.92L1055.6 169.92L1055.6 162.92L1056.6 162.92L1056.6 154.53L1057.6 154.53L1057.6 135.68L1058.6 135.68L1058.6 127.66L1059.6 127.66L1059.6 122.76L1060.6 122.76L1060.6 117.19L1061.6 117.19L1061.6 118.73L1062.6 118.73L1062.6 137.28L1063.6 137.28L1063.6 156.18L1064.6 156.18L1064.6 145.85L1065.6 145.85L1065.6 127.65L1066.6 127.65L1066.6 124.55L1067.6 124.55L1067.6 124.43L1068.6 124.43L1068.6 130.15L1069.6 130.15L1069.6 131.7L1070.6 131.7L1070.6 130.04L1071.6 130.04L1071.6 140.99L1072.6 140.99L1072.6 155.34L1073.6 155.34L1073.6 162.9L1074.6 162.9L1074.6 156.01L1075.6 156.01L1075.6 143.44L1076.6 143.44L1076.6 135.25L1077.6 135.25L1077.6 137.13L1078.6 137.13L1078.6 132.11L1079.6 132.11L1079.6 132.28L1080.6 132.28L1080.6 135.26L1081.6 135.26L1081.6 135.47L1082.6 135.47L1082.6 133.42L1083.6 133.42L1083.6 134.24L1084.6 134.24L1084.6 135.7L1085.6 135.7L1085.6 138.88L1086.6 138.88L1086.6 139.76L1087.6 139.76L1087.6 144.22L1088.6 144.22L1088.6 143.99L1089.6 143.99L1089.6 146.27L1090.6 146.27L1090.6 155.41L1091.6 155.41L1091.6 165.19L1092.6 165.19L1092.6 170.35L1093.6 170.35L1093.6 169.91L1094.6 169.91L1094.6 170.23L1095.6 170.23L1095.6 169.97L1096.6 169.97L1096.6 170.2L1097.6 170.2L1097.6 170.08L1098.6 170.08L1098.6 169.98L1099.6 169.98L1099.6 170.32L1100.6 170.32L1100.6 170.39L1101.6 170.39L1101.6 170.2L1102.6 170.2L1102.6 169.89L1103.6 169.89L1103.6 170.16L1104.6 170.16L1104.6 170.28L1105.6 170.28L1105.6 170.39L1106.6 170.39L1106.6 169.92L1107.6 169.92L1107.6 170.32L1108.6 170.32L1108.6 170.28L1109.6 170.28L1109.6 170.21L1110.6 170.21L1110.6 169.9L1111.6 169.9L1111.6 170.34L1112.6 170.34L1112.6 169.95L1113.6 169.95L1113.6 170.24L1114.6 170.24L1114.6 170.14L1115.6 170.14L1115.6 169.99L1116.6 169.99L1116.6 170.32L1117.6 170.32L1117.6 170.36L1118.6 170.36L1118.6 170.39L1119.6 170.39L1119.6 169.87L1120.6 169.87L1120.6 169.99L1121.6 169.99L1121.6 169.95L1122.6 169.95L1122.6 170.19L1123.6 170.19L1123.6 170.11L1124.6 170.11L1124.6 170.1L1125.6 170.1L1125.6 170.05L1126.6 170.05L1126.6 170.24L1127.6 170.24L1127.6 170.11L1128.6 170.11L1128.6 169.91L1129.6 169.91L1129.6 165.32L1130.6 165.32L1130.6 147.01L1131.6 147.01L1131.6 144.93L1132.6 144.93L1132.6 142.44L1133.6 142.44L1133.6 140.35L1134.6 140.35L1134.6 145.26L1135.6 145.26L1135.6 147.35L1136.6 147.35L1136.6 146.34L1137.6 146.34L1137.6 154.05L1138.6 154.05L1138.6 156.21L1139.6 156.21L1139.6 155.22L1140.6 155.22L1140.6 151.95L1141.6 151.95L1141.6 154.02L1142.6 154.02L1142.6 147.12L1143.6 147.12L1143.6 145.67L1144.6 145.67L1144.6 159.37L1145.6 159.37L1145.6 170.09L1146.6 170.09L1146.6 157.3L1147.6 157.3L1147.6 155.75L1148.6 155.75L1148.6 151.54L1149.6 151.54L1149.6 148.27L1150.6 148.27L1150.6 145.31L1151.6 145.31L1151.6 145.03L1152.6 145.03L1152.6 148.01L1153.6 148.01L1153.6 145.4L1154.6 145.4L1154.6 155.17L1155.6 155.17L1155.6 150.28L1156.6 150.28L1156.6 147.49L1157.6 147.49L1157.6 147.31L1158.6 147.31L1158.6 143.91L1159.6 143.91L1159.6 139.52L1160.6 139.52L1160.6 159.92L1161.6 159.92L1161.6 170.24L1162.6 170.24L1162.6 170.35L1163.6 170.35L1163.6 170.15L1164.6 170.15L1164.6 151.42L1165.6 151.42L1165.6 141.85L1166.6 141.85L1166.6 145.98L1167.6 145.98L1167.6 150.19L1168.6 150.19L1168.6 151.44L1169.6 151.44L1169.6 151.43L1170.6 151.43L1170.6 149.73L1171.6 149.73L1171.6 147.95L1172.6 147.95L1172.6 147.63L1173.6 147.63L1173.6 149.6L1174.6 149.6L1174.6 154.96L1175.6 154.96L1175.6 159.54L1176.6 159.54L1176.6 162.91L1177.6 162.91L1177.6 164.16L1178.6 164.16L1178.6 163.55L1179.6 163.55L1179.6 165.16L1180.6 165.16L1180.6 169.9L1181.6 169.9L1181.6 169.86L1182.6 169.86L1182.6 169.85L1183.6 169.85L1183.6 161.4L1184.6 161.4L1184.6 152.73L1185.6 152.73L1185.6 155.2L1186.6 155.2L1186.6 165.42L1187.6 165.42L1187.6 169.89L1188.6 169.89L1188.6 157.19L1189.6 157.19L1189.6 139.89L1190.6 139.89L1190.6 132.47L1191.6 132.47L1191.6 132.36L1192.6 132.36L1192.6 130.84L1193.6 130.84L1193.6 127.01L1194.6 127.01L1194.6 125.94L1195.6 125.94L1195.6 125.94L1196.6 125.94L1196.6 127.46L1197.6 127.46L1197.6 133.87L1198.6 133.87L1198.6 138.88L1199.6 138.88L1199.6 142.8L1200.6 142.8L1200.6 148.53L1201.6 148.53L1201.6 151.71L1202.6 151.71L1202.6 154.75L1203.6 154.75L1203.6 156.91L1204.6 156.91L1204.6 159.34L1205.6 159.34L1205.6 165.35L1206.6 165.35L1206.6 170.12L1207.6 170.12L1207.6 170.24L1208.6 170.24L1208.6 169.97L1209.6 169.97L1209.6 169.92L1210.6 169.92L1210.6 170.31L1211.6 170.31L1211.6 170.02L1212.6 170.02L1212.6 169.86L1213.6 169.86L1213.6 152.14L1214.6 152.14L1214.6 155.71L1215.6 155.71L1215.6 157.22L1216.6 157.22L1216.6 145.05L1217.6 145.05L1217.6 138.1L1218.6 138.1L1218.6 135.49L1219.6 135.49L1219.6 141.13L1220.6 141.13L1220.6 142.37L1221.6 142.37L1221.6 141.33L1222.6 141.33L1222.6 145.27L1223.6 145.27L1223.6 144.36L1224.6 144.36L1224.6 143.57L1225.6 143.57L1225.6 144.89L1226.6 144.89L1226.6 144.12L1227.6 144.12L1227.6 147.11L1228.6 147.11L1228.6 155.37L1229.6 155.37L1229.6 160.76L1230.6 160.76L1230.6 162.46L1231.6 162.46L1231.6 152.51L1232.6 152.51L1232.6 141.62L1233.6 141.62L1233.6 134.07L1234.6 134.07L1234.6 130.65L1235.6 130.65L1235.6 127.46L1236.6 127.46L1236.6 127.46L1237.6 127.46L1237.6 129.59L1238.6 129.59L1238.6 133.31L1239.6 133.31L1239.6 135.63L1240.6 135.63L1240.6 137.99L1241.6 137.99L1241.6 141.08L1242.6 141.08L1242.6 149.45L1243.6 149.45L1243.6 151.61L1244.6 151.61L1244.6 141.73L1245.6 141.73L1245.6 138.01L1246.6 138.01L1246.6 138.99L1247.6 138.99L1247.6 146.83L1248.6 146.83L1248.6 159.28L1249.6 159.28L1249.6 162.87L1250.6 162.87L1250.6 164.49L1251.6 164.49L1251.6 166.3L1252.6 166.3L1252.6 167.26L1253.6 167.26L1253.6 170.32L1254.6 170.32L1254.6 170.14L1255.6 170.14L1255.6 158.63L1256.6 158.63L1256.6 156.8L1257.6 156.8L1257.6 155.13L1258.6 155.13L1258.6 154.02L1259.6 154.02L1259.6 153.37L1260.6 153.37L1260.6 152.54L1261.6 152.54L1261.6 151.45L1262.6 151.45L1262.6 149.38L1263.6 149.38L1263.6 145.64L1264.6 145.64L1264.6 145.08L1265.6 145.08L1265.6 137.44L1266.6 137.44L1266.6 134.58L1267.6 134.58L1267.6 132.93L1268.6 132.93L1268.6 137.41L1269.6 137.41L1269.6 151.49L1270.6 151.49L1270.6 164.98L1271.6 164.98L1271.6 170.3L1272.6 170.3L1272.6 170.4L1273.6 170.4L1273.6 158.4L1274.6 158.4L1274.6 152.85L1275.6 152.85L1275.6 150.72L1276.6 150.72L1276.6 148.73L1277.6 148.73L1277.6 147.8L1278.6 147.8L1278.6 147.49L1279.6 147.49L1279.6 148.32L1280.6 148.32L1280.6 153.02L1281.6 153.02L1281.6 161.16L1282.6 161.16L1282.6 165.01L1283.6 165.01L1283.6 166.81L1284.6 166.81L1284.6 170.25L1285.6 170.25L1285.6 170.21L1286.6 170.21L1286.6 166.7L1287.6 166.7L1287.6 156.16L1288.6 156.16L1288.6 146.49L1289.6 146.49L1289.6 144.72L1290.6 144.72L1290.6 141.79L1291.6 141.79L1291.6 148.58L1292.6 148.58L1292.6 166.63L1293.6 166.63L1293.6 170.16L1294.6 170.16L1294.6 170.39L1295.6 170.39L1295.6 163.54L1296.6 163.54L1296.6 164.1L1297.6 164.1L1297.6 170.36L1298.6 170.36L1298.6 170.26L1299.6 170.26L1299.6 161.39L1300.6 161.39L1300.6 160.71L1301.6 160.71L1301.6 164.82L1302.6 164.82L1302.6 150.74L1303.6 150.74L1303.6 135.12L1304.6 135.12L1304.6 129.97L1305.6 129.97L1305.6 139.94L1306.6 139.94L1306.6 145.19L1307.6 145.19L1307.6 141.94L1308.6 141.94L1308.6 145.37L1309.6 145.37L1309.6 157.82L1310.6 157.82L1310.6 149.7L1311.6 149.7L1311.6 143.18L1312.6 143.18L1312.6 144.06L1313.6 144.06L1313.6 145.47L1314.6 145.47L1314.6 146.55L1315.6 146.55L1315.6 145.79L1316.6 145.79L1316.6 145.97L1317.6 145.97L1317.6 147.42L1318.6 147.42L1318.6 149.09L1319.6 149.09L1319.6 149.29L1320.6 149.29L1320.6 148.37L1321.6 148.37L1321.6 149.15L1322.6 149.15L1322.6 153.62L1323.6 153.62L1323.6 166.79L1324.6 166.79L1324.6 169.84L1325.6 169.84L1325.6 165.1L1326.6 165.1L1326.6 162.22L1327.6 162.22L1327.6 157.37L1328.6 157.37L1328.6 152.62L1329.6 152.62L1329.6 151.91L1330.6 151.91L1330.6 148.04L1331.6 148.04L1331.6 146.9L1332.6 146.9L1332.6 146.72L1333.6 146.72L1333.6 147.98L1334.6 147.98L1334.6 152.56L1335.6 152.56L1335.6 161.83L1336.6 161.83L1336.6 170.38L1337.6 170.38L1337.6 169.96L1338.6 169.96L1338.6 170.16L1339.6 170.16L1339.6 169.96L1340.6 169.96L1340.6 167.1L1341.6 167.1L1341.6 165.84L1342.6 165.84L1342.6 161.53L1343.6 161.53L1343.6 155.25L1344.6 155.25L1344.6 148.93L1345.6 148.93L1345.6 148.21L1346.6 148.21L1346.6 151.74L1347.6 151.74L1347.6 156.48L1348.6 156.48L1348.6 166.11L1349.6 166.11L1349.6 170.19L1350.6 170.19L1350.6 170.3L1351.6 170.3L1351.6 166.45L1352.6 166.45L1352.6 170.29L1353.6 170.29L1353.6 169.91L1354.6 169.91L1354.6 170.2L1355.6 170.2L1355.6 169.96L1356.6 169.96L1356.6 170.01L1357.6 170.01L1357.6 170.36L1358.6 170.36L1358.6 170.02L1359.6 170.02L1359.6 169.9L1360.6 169.9L1360.6 166.89L1361.6 166.89L1361.6 170.38L1362.6 170.38L1362.6 169.96L1363.6 169.96L1363.6 184.11L1362.6 184.11L1362.6 184.39L1361.6 184.39L1361.6 187.26L1360.6 187.26L1360.6 183.88L1359.6 183.88L1359.6 183.81L1358.6 183.81L1358.6 184.22L1357.6 184.22L1357.6 184.1L1356.6 184.1L1356.6 183.89L1355.6 183.89L1355.6 184.07L1354.6 184.07L1354.6 183.85L1353.6 183.85L1353.6 183.87L1352.6 183.87L1352.6 184.3L1351.6 184.3L1351.6 184.11L1350.6 184.11L1350.6 183.9L1349.6 183.9L1349.6 192.59L1348.6 192.59L1348.6 201.55L1347.6 201.55L1347.6 205.15L1346.6 205.15L1346.6 206.41L1345.6 206.41L1345.6 206.71L1344.6 206.71L1344.6 200.67L1343.6 200.67L1343.6 192.9L1342.6 192.9L1342.6 188.5L1341.6 188.5L1341.6 186.17L1340.6 186.17L1340.6 184.23L1339.6 184.23L1339.6 183.94L1338.6 183.94L1338.6 184.14L1337.6 184.14L1337.6 186.69L1336.6 186.69L1336.6 192.42L1335.6 192.42L1335.6 202.78L1334.6 202.78L1334.6 210.77L1333.6 210.77L1333.6 214.34L1332.6 214.34L1332.6 212.57L1331.6 212.57L1331.6 213.02L1330.6 213.02L1330.6 207.17L1329.6 207.17L1329.6 201.99L1328.6 201.99L1328.6 194.01L1327.6 194.01L1327.6 190.98L1326.6 190.98L1326.6 193.05L1325.6 193.05L1325.6 184L1324.6 184L1324.6 189.73L1323.6 189.73L1323.6 196.79L1322.6 196.79L1322.6 205.68L1321.6 205.68L1321.6 209.45L1320.6 209.45L1320.6 209.03L1319.6 209.03L1319.6 215.02L1318.6 215.02L1318.6 214.79L1317.6 214.79L1317.6 217.34L1316.6 217.34L1316.6 221.59L1315.6 221.59L1315.6 221.91L1314.6 221.91L1314.6 221.02L1313.6 221.02L1313.6 218.77L1312.6 218.77L1312.6 214.81L1311.6 214.81L1311.6 206.54L1310.6 206.54L1310.6 193.82L1309.6 193.82L1309.6 204.18L1308.6 204.18L1308.6 214.69L1307.6 214.69L1307.6 216.62L1306.6 216.62L1306.6 218.23L1305.6 218.23L1305.6 217.16L1304.6 217.16L1304.6 211.61L1303.6 211.61L1303.6 199.36L1302.6 199.36L1302.6 189.28L1301.6 189.28L1301.6 183.97L1300.6 183.97L1300.6 186.88L1299.6 186.88L1299.6 184.28L1298.6 184.28L1298.6 184.2L1297.6 184.2L1297.6 190.49L1296.6 190.49L1296.6 191.41L1295.6 191.41L1295.6 186.35L1294.6 186.35L1294.6 186.41L1293.6 186.41L1293.6 191.29L1292.6 191.29L1292.6 216.28L1291.6 216.28L1291.6 225.12L1290.6 225.12L1290.6 217.55L1289.6 217.55L1289.6 206.27L1288.6 206.27L1288.6 195.02L1287.6 195.02L1287.6 187.79L1286.6 187.79L1286.6 183.93L1285.6 183.93L1285.6 187.29L1284.6 187.29L1284.6 189.01L1283.6 189.01L1283.6 192.43L1282.6 192.43L1282.6 199.22L1281.6 199.22L1281.6 209.34L1280.6 209.34L1280.6 217.56L1279.6 217.56L1279.6 218.07L1278.6 218.07L1278.6 217.03L1277.6 217.03L1277.6 213.39L1276.6 213.39L1276.6 204.27L1275.6 204.27L1275.6 200.7L1274.6 200.7L1274.6 193.62L1273.6 193.62L1273.6 184.3L1272.6 184.3L1272.6 184.32L1271.6 184.32L1271.6 189.76L1270.6 189.76L1270.6 202.51L1269.6 202.51L1269.6 213.77L1268.6 213.77L1268.6 221.86L1267.6 221.86L1267.6 221.41L1266.6 221.41L1266.6 219.3L1265.6 219.3L1265.6 219.16L1264.6 219.16L1264.6 216.43L1263.6 216.43L1263.6 214.74L1262.6 214.74L1262.6 213.27L1261.6 213.27L1261.6 209.41L1260.6 209.41L1260.6 206.25L1259.6 206.25L1259.6 201.18L1258.6 201.18L1258.6 196.44L1257.6 196.44L1257.6 193.22L1256.6 193.22L1256.6 190.82L1255.6 190.82L1255.6 184.32L1254.6 184.32L1254.6 184.02L1253.6 184.02L1253.6 183.91L1252.6 183.91L1252.6 188.5L1251.6 188.5L1251.6 189.5L1250.6 189.5L1250.6 190.85L1249.6 190.85L1249.6 195.02L1248.6 195.02L1248.6 206.38L1247.6 206.38L1247.6 220.97L1246.6 220.97L1246.6 221.16L1245.6 221.16L1245.6 215.8L1244.6 215.8L1244.6 203.01L1243.6 203.01L1243.6 205.06L1242.6 205.06L1242.6 212.84L1241.6 212.84L1241.6 218.84L1240.6 218.84L1240.6 215.97L1239.6 215.97L1239.6 216.93L1238.6 216.93L1238.6 218.95L1237.6 218.95L1237.6 220.72L1236.6 220.72L1236.6 224.27L1235.6 224.27L1235.6 225.84L1234.6 225.84L1234.6 218.88L1233.6 218.88L1233.6 207.06L1232.6 207.06L1232.6 197.27L1231.6 197.27L1231.6 189.68L1230.6 189.68L1230.6 191.42L1229.6 191.42L1229.6 196.96L1228.6 196.96L1228.6 202.29L1227.6 202.29L1227.6 207.11L1226.6 207.11L1226.6 211.65L1225.6 211.65L1225.6 214.31L1224.6 214.31L1224.6 218.71L1223.6 218.71L1223.6 221.1L1222.6 221.1L1222.6 226.54L1221.6 226.54L1221.6 222.12L1220.6 222.12L1220.6 218.4L1219.6 218.4L1219.6 214.08L1218.6 214.08L1218.6 208.74L1217.6 208.74L1217.6 199.68L1216.6 199.68L1216.6 191.23L1215.6 191.23L1215.6 195.02L1214.6 195.02L1214.6 194.13L1213.6 194.13L1213.6 184.14L1212.6 184.14L1212.6 184.38L1211.6 184.38L1211.6 183.96L1210.6 183.96L1210.6 184.39L1209.6 184.39L1209.6 184.07L1208.6 184.07L1208.6 184.23L1207.6 184.23L1207.6 183.87L1206.6 183.87L1206.6 187.76L1205.6 187.76L1205.6 192.67L1204.6 192.67L1204.6 197.25L1203.6 197.25L1203.6 202.54L1202.6 202.54L1202.6 207.16L1201.6 207.16L1201.6 212.6L1200.6 212.6L1200.6 217.6L1199.6 217.6L1199.6 220.77L1198.6 220.77L1198.6 224.22L1197.6 224.22L1197.6 226.54L1196.6 226.54L1196.6 225.64L1195.6 225.64L1195.6 223.81L1194.6 223.81L1194.6 220.75L1193.6 220.75L1193.6 217.24L1192.6 217.24L1192.6 213.87L1191.6 213.87L1191.6 208.9L1190.6 208.9L1190.6 203.59L1189.6 203.59L1189.6 193.69L1188.6 193.69L1188.6 183.98L1187.6 183.98L1187.6 188.56L1186.6 188.56L1186.6 200.9L1185.6 200.9L1185.6 205.33L1184.6 205.33L1184.6 191.71L1183.6 191.71L1183.6 184.19L1182.6 184.19L1182.6 183.87L1181.6 183.87L1181.6 187.23L1180.6 187.23L1180.6 189.74L1179.6 189.74L1179.6 191.57L1178.6 191.57L1178.6 192.41L1177.6 192.41L1177.6 195L1176.6 195L1176.6 200.6L1175.6 200.6L1175.6 206.56L1174.6 206.56L1174.6 212.24L1173.6 212.24L1173.6 208.9L1172.6 208.9L1172.6 210.26L1171.6 210.26L1171.6 207.82L1170.6 207.82L1170.6 206.76L1169.6 206.76L1169.6 206.08L1168.6 206.08L1168.6 206.96L1167.6 206.96L1167.6 205.25L1166.6 205.25L1166.6 201.37L1165.6 201.37L1165.6 199.21L1164.6 199.21L1164.6 184.32L1163.6 184.32L1163.6 184.26L1162.6 184.26L1162.6 184.16L1161.6 184.16L1161.6 202.99L1160.6 202.99L1160.6 217.49L1159.6 217.49L1159.6 215.88L1158.6 215.88L1158.6 214.91L1157.6 214.91L1157.6 214.25L1156.6 214.25L1156.6 206.85L1155.6 206.85L1155.6 191.16L1154.6 191.16L1154.6 215.29L1153.6 215.29L1153.6 216.57L1152.6 216.57L1152.6 213.02L1151.6 213.02L1151.6 208.39L1150.6 208.39L1150.6 202.6L1149.6 202.6L1149.6 198.45L1148.6 198.45L1148.6 198.58L1147.6 198.58L1147.6 195.65L1146.6 195.65L1146.6 186.1L1145.6 186.1L1145.6 192.18L1144.6 192.18L1144.6 206.63L1143.6 206.63L1143.6 206.35L1142.6 206.35L1142.6 201.96L1141.6 201.96L1141.6 204.97L1140.6 204.97L1140.6 204.76L1139.6 204.76L1139.6 208.6L1138.6 208.6L1138.6 204.71L1137.6 204.71L1137.6 208.57L1136.6 208.57L1136.6 207.44L1135.6 207.44L1135.6 202.78L1134.6 202.78L1134.6 216.37L1133.6 216.37L1133.6 221.08L1132.6 221.08L1132.6 223.06L1131.6 223.06L1131.6 218.99L1130.6 218.99L1130.6 186.38L1129.6 186.38L1129.6 184.07L1128.6 184.07L1128.6 184.36L1127.6 184.36L1127.6 184.21L1126.6 184.21L1126.6 183.82L1125.6 183.82L1125.6 184.05L1124.6 184.05L1124.6 183.96L1123.6 183.96L1123.6 184.24L1122.6 184.24L1122.6 184.11L1121.6 184.11L1121.6 183.87L1120.6 183.87L1120.6 184.19L1119.6 184.19L1119.6 184.11L1118.6 184.11L1118.6 184.23L1117.6 184.23L1117.6 184.06L1116.6 184.06L1116.6 184L1115.6 184L1115.6 184.27L1114.6 184.27L1114.6 184.33L1113.6 184.33L1113.6 183.93L1112.6 183.93L1112.6 183.84L1111.6 183.84L1111.6 184.38L1110.6 184.38L1110.6 184.37L1109.6 184.37L1109.6 183.91L1108.6 183.91L1108.6 183.84L1107.6 183.84L1107.6 184.09L1106.6 184.09L1106.6 183.99L1105.6 183.99L1105.6 184.4L1104.6 184.4L1104.6 183.86L1103.6 183.86L1103.6 183.93L1102.6 183.93L1102.6 184L1101.6 184L1101.6 184.15L1100.6 184.15L1100.6 183.84L1099.6 183.84L1099.6 183.88L1098.6 183.88L1098.6 183.92L1097.6 183.92L1097.6 184.13L1096.6 184.13L1096.6 183.95L1095.6 183.95L1095.6 184.34L1094.6 184.34L1094.6 184.2L1093.6 184.2L1093.6 184.16L1092.6 184.16L1092.6 184.31L1091.6 184.31L1091.6 198L1090.6 198L1090.6 207.86L1089.6 207.86L1089.6 208.41L1088.6 208.41L1088.6 209.69L1087.6 209.69L1087.6 210.84L1086.6 210.84L1086.6 210.88L1085.6 210.88L1085.6 211.59L1084.6 211.59L1084.6 213.05L1083.6 213.05L1083.6 213.13L1082.6 213.13L1082.6 214.18L1081.6 214.18L1081.6 215.48L1080.6 215.48L1080.6 217.54L1079.6 217.54L1079.6 217.6L1078.6 217.6L1078.6 220.24L1077.6 220.24L1077.6 216.74L1076.6 216.74L1076.6 208.63L1075.6 208.63L1075.6 207.18L1074.6 207.18L1074.6 196.85L1073.6 196.85L1073.6 196.43L1072.6 196.43L1072.6 209.68L1071.6 209.68L1071.6 221.67L1070.6 221.67L1070.6 224.44L1069.6 224.44L1069.6 227.42L1068.6 227.42L1068.6 233.39L1067.6 233.39L1067.6 231.22L1066.6 231.22L1066.6 227.13L1065.6 227.13L1065.6 215.99L1064.6 215.99L1064.6 199.13L1063.6 199.13L1063.6 211.05L1062.6 211.05L1062.6 220.44L1061.6 220.44L1061.6 228.03L1060.6 228.03L1060.6 227.4L1059.6 227.4L1059.6 221.78L1058.6 221.78L1058.6 213.79L1057.6 213.79L1057.6 201.12L1056.6 201.12L1056.6 188.57L1055.6 188.57L1055.6 184.13L1054.6 184.13L1054.6 183.83L1053.6 183.83L1053.6 187.42L1052.6 187.42L1052.6 190.17L1051.6 190.17L1051.6 192.67L1050.6 192.67L1050.6 194.62L1049.6 194.62L1049.6 201.28L1048.6 201.28L1048.6 212.97L1047.6 212.97L1047.6 232.49L1046.6 232.49L1046.6 240.34L1045.6 240.34L1045.6 236.97L1044.6 236.97L1044.6 212.46L1043.6 212.46L1043.6 214.81L1042.6 214.81L1042.6 253.51L1041.6 253.51L1041.6 260.94L1040.6 260.94L1040.6 255.09L1039.6 255.09L1039.6 237.27L1038.6 237.27L1038.6 215.32L1037.6 215.32L1037.6 223.16L1036.6 223.16L1036.6 236.31L1035.6 236.31L1035.6 242.77L1034.6 242.77L1034.6 246.12L1033.6 246.12L1033.6 250.97L1032.6 250.97L1032.6 259.99L1031.6 259.99L1031.6 256.49L1030.6 256.49L1030.6 240.42L1029.6 240.42L1029.6 201.14L1028.6 201.14L1028.6 204.72L1027.6 204.72L1027.6 226.21L1026.6 226.21L1026.6 242.9L1025.6 242.9L1025.6 251.29L1024.6 251.29L1024.6 256.12L1023.6 256.12L1023.6 254.87L1022.6 254.87L1022.6 239.44L1021.6 239.44L1021.6 230.11L1020.6 230.11L1020.6 231.7L1019.6 231.7L1019.6 237.14L1018.6 237.14L1018.6 248.21L1017.6 248.21L1017.6 247.82L1016.6 247.82L1016.6 246.54L1015.6 246.54L1015.6 243.39L1014.6 243.39L1014.6 236.97L1013.6 236.97L1013.6 218.91L1012.6 218.91L1012.6 188.4L1011.6 188.4L1011.6 194.49L1010.6 194.49L1010.6 213.19L1009.6 213.19L1009.6 227.05L1008.6 227.05L1008.6 237L1007.6 237L1007.6 239.46L1006.6 239.46L1006.6 234.63L1005.6 234.63L1005.6 233.1L1004.6 233.1L1004.6 232.49L1003.6 232.49L1003.6 224.01L1002.6 224.01L1002.6 202.97L1001.6 202.97L1001.6 195.29L1000.6 195.29L1000.6 206.03L999.6 206.03L999.6 222.51L998.6 222.51L998.6 240.04L997.6 240.04L997.6 254.06L996.6 254.06L996.6 256.67L995.6 256.67L995.6 253.91L994.6 253.91L994.6 244.98L993.6 244.98L993.6 248.27L992.6 248.27L992.6 242.62L991.6 242.62L991.6 243.09L990.6 243.09L990.6 250.48L989.6 250.48L989.6 247.5L988.6 247.5L988.6 258.62L987.6 258.62L987.6 258.1L986.6 258.1L986.6 250.29L985.6 250.29L985.6 236.2L984.6 236.2L984.6 222.4L983.6 222.4L983.6 214.09L982.6 214.09L982.6 207.4L981.6 207.4L981.6 193.18L980.6 193.18L980.6 183.81L979.6 183.81L979.6 184.15L978.6 184.15L978.6 188.53L977.6 188.53L977.6 191.48L976.6 191.48L976.6 194.9L975.6 194.9L975.6 205.09L974.6 205.09L974.6 224.56L973.6 224.56L973.6 241.35L972.6 241.35L972.6 239.23L971.6 239.23L971.6 242.33L970.6 242.33L970.6 226.63L969.6 226.63L969.6 211.16L968.6 211.16L968.6 202.35L967.6 202.35L967.6 208.18L966.6 208.18L966.6 216.08L965.6 216.08L965.6 222.17L964.6 222.17L964.6 219.1L963.6 219.1L963.6 208.84L962.6 208.84L962.6 198.2L961.6 198.2L961.6 198.74L960.6 198.74L960.6 197.13L959.6 197.13L959.6 194.95L958.6 194.95L958.6 211.92L957.6 211.92L957.6 234.47L956.6 234.47L956.6 242.57L955.6 242.57L955.6 237.84L954.6 237.84L954.6 229.79L953.6 229.79L953.6 219.45L952.6 219.45L952.6 209.52L951.6 209.52L951.6 199.88L950.6 199.88L950.6 191.9L949.6 191.9L949.6 193.52L948.6 193.52L948.6 192.71L947.6 192.71L947.6 213.04L946.6 213.04L946.6 233.55L945.6 233.55L945.6 247.36L944.6 247.36L944.6 262.41L943.6 262.41L943.6 267.95L942.6 267.95L942.6 263.44L941.6 263.44L941.6 257.51L940.6 257.51L940.6 207.45L939.6 207.45L939.6 206.04L938.6 206.04L938.6 197.68L937.6 197.68L937.6 194.83L936.6 194.83L936.6 208.15L935.6 208.15L935.6 210.06L934.6 210.06L934.6 219.02L933.6 219.02L933.6 241.17L932.6 241.17L932.6 255.15L931.6 255.15L931.6 262.39L930.6 262.39L930.6 250.1L929.6 250.1L929.6 243.49L928.6 243.49L928.6 257.27L927.6 257.27L927.6 264.6L926.6 264.6L926.6 269.11L925.6 269.11L925.6 271.9L924.6 271.9L924.6 266.92L923.6 266.92L923.6 257.32L922.6 257.32L922.6 253.7L921.6 253.7L921.6 228.95L920.6 228.95L920.6 250.02L919.6 250.02L919.6 256.47L918.6 256.47L918.6 260.92L917.6 260.92L917.6 271.36L916.6 271.36L916.6 268.77L915.6 268.77L915.6 271.29L914.6 271.29L914.6 278L913.6 278L913.6 275.41L912.6 275.41L912.6 254.28L911.6 254.28L911.6 259.24L910.6 259.24L910.6 268.57L909.6 268.57L909.6 285.95L908.6 285.95L908.6 284.98L907.6 284.98L907.6 279.05L906.6 279.05L906.6 274.84L905.6 274.84L905.6 270.77L904.6 270.77L904.6 261.22L903.6 261.22L903.6 236.8L902.6 236.8L902.6 210.18L901.6 210.18L901.6 216.54L900.6 216.54L900.6 216.93L899.6 216.93L899.6 200.16L898.6 200.16L898.6 184.33L897.6 184.33L897.6 184.35L896.6 184.35L896.6 184.13L895.6 184.13L895.6 183.89L894.6 183.89L894.6 183.88L893.6 183.88L893.6 184.08L892.6 184.08L892.6 183.87L891.6 183.87L891.6 184.36L890.6 184.36L890.6 183.96L889.6 183.96L889.6 183.98L888.6 183.98L888.6 183.83L887.6 183.83L887.6 184.12L886.6 184.12L886.6 184.27L885.6 184.27L885.6 184.29L884.6 184.29L884.6 184.21L883.6 184.21L883.6 184.33L882.6 184.33L882.6 184.35L881.6 184.35L881.6 184.04L880.6 184.04L880.6 183.96L879.6 183.96L879.6 184.17L878.6 184.17L878.6 184.42L877.6 184.42L877.6 184.57L876.6 184.57L876.6 184.96L875.6 184.96L875.6 184.76L874.6 184.76L874.6 183.89L873.6 183.89L873.6 184.28L872.6 184.28L872.6 184.3L871.6 184.3L871.6 183.81L870.6 183.81L870.6 183.85L869.6 183.85L869.6 184.05L868.6 184.05L868.6 184.19L867.6 184.19L867.6 183.86L866.6 183.86L866.6 191.53L865.6 191.53L865.6 211.88L864.6 211.88L864.6 228.83L863.6 228.83L863.6 233.7L862.6 233.7L862.6 239.99L861.6 239.99L861.6 227.92L860.6 227.92L860.6 216.72L859.6 216.72L859.6 211.12L858.6 211.12L858.6 219.66L857.6 219.66L857.6 228.83L856.6 228.83L856.6 247.08L855.6 247.08L855.6 255.05L854.6 255.05L854.6 240.42L853.6 240.42L853.6 211.67L852.6 211.67L852.6 188.11L851.6 188.11L851.6 186.86L850.6 186.86L850.6 187.84L849.6 187.84L849.6 191.21L848.6 191.21L848.6 205.18L847.6 205.18L847.6 213.54L846.6 213.54L846.6 220.17L845.6 220.17L845.6 225.49L844.6 225.49L844.6 220.85L843.6 220.85L843.6 217.39L842.6 217.39L842.6 210.48L841.6 210.48L841.6 198.35L840.6 198.35L840.6 196.98L839.6 196.98L839.6 204.07L838.6 204.07L838.6 194.47L837.6 194.47L837.6 206.7L836.6 206.7L836.6 245.21L835.6 245.21L835.6 255.3L834.6 255.3L834.6 251.77L833.6 251.77L833.6 237.74L832.6 237.74L832.6 225.87L831.6 225.87L831.6 221.96L830.6 221.96L830.6 217.85L829.6 217.85L829.6 209.2L828.6 209.2L828.6 200.05L827.6 200.05L827.6 190.36L826.6 190.36L826.6 198.16L825.6 198.16L825.6 213.76L824.6 213.76L824.6 224.67L823.6 224.67L823.6 229.69L822.6 229.69L822.6 230.2L821.6 230.2L821.6 223.83L820.6 223.83L820.6 220.73L819.6 220.73L819.6 217.55L818.6 217.55L818.6 211.72L817.6 211.72L817.6 204.52L816.6 204.52L816.6 196.19L815.6 196.19L815.6 207.68L814.6 207.68L814.6 222.6L813.6 222.6L813.6 225.44L812.6 225.44L812.6 224.78L811.6 224.78L811.6 216.91L810.6 216.91L810.6 193.27L809.6 193.27L809.6 183.84L808.6 183.84L808.6 184.38L807.6 184.38L807.6 203L806.6 203L806.6 227.31L805.6 227.31L805.6 235.76L804.6 235.76L804.6 247.36L803.6 247.36L803.6 249.63L802.6 249.63L802.6 245.07L801.6 245.07L801.6 240.37L800.6 240.37L800.6 236.98L799.6 236.98L799.6 236.15L798.6 236.15L798.6 229.71L797.6 229.71L797.6 211.74L796.6 211.74L796.6 190.29L795.6 190.29L795.6 215.42L794.6 215.42L794.6 226.37L793.6 226.37L793.6 228.2L792.6 228.2L792.6 230.48L791.6 230.48L791.6 228.39L790.6 228.39L790.6 220.62L789.6 220.62L789.6 212.06L788.6 212.06L788.6 218.13L787.6 218.13L787.6 217.43L786.6 217.43L786.6 216.11L785.6 216.11L785.6 203.31L784.6 203.31L784.6 209.54L783.6 209.54L783.6 206.39L782.6 206.39L782.6 199.31L781.6 199.31L781.6 191.79L780.6 191.79L780.6 189.1L779.6 189.1L779.6 207.65L778.6 207.65L778.6 226.72L777.6 226.72L777.6 233.51L776.6 233.51L776.6 234.33L775.6 234.33L775.6 229.89L774.6 229.89L774.6 224.54L773.6 224.54L773.6 233.63L772.6 233.63L772.6 234.36L771.6 234.36L771.6 233.81L770.6 233.81L770.6 214.64L769.6 214.64L769.6 196.09L768.6 196.09L768.6 187.51L767.6 187.51L767.6 184.11L766.6 184.11L766.6 184.21L765.6 184.21L765.6 184.13L764.6 184.13L764.6 186.85L763.6 186.85L763.6 190.01L762.6 190.01L762.6 200.67L761.6 200.67L761.6 224.08L760.6 224.08L760.6 236.62L759.6 236.62L759.6 235.2L758.6 235.2L758.6 228.33L757.6 228.33L757.6 214.39L756.6 214.39L756.6 200.82L755.6 200.82L755.6 188.56L754.6 188.56L754.6 184.29L753.6 184.29L753.6 183.93L752.6 183.93L752.6 187.19L751.6 187.19L751.6 191.42L750.6 191.42L750.6 198.71L749.6 198.71L749.6 213.59L748.6 213.59L748.6 230.13L747.6 230.13L747.6 239.35L746.6 239.35L746.6 237.91L745.6 237.91L745.6 233.06L744.6 233.06L744.6 221.72L743.6 221.72L743.6 199.28L742.6 199.28L742.6 199.55L741.6 199.55L741.6 229.21L740.6 229.21L740.6 244.29L739.6 244.29L739.6 247.94L738.6 247.94L738.6 246.03L737.6 246.03L737.6 244.78L736.6 244.78L736.6 245.58L735.6 245.58L735.6 228.91L734.6 228.91L734.6 218.42L733.6 218.42L733.6 232.89L732.6 232.89L732.6 240.62L731.6 240.62L731.6 243.96L730.6 243.96L730.6 248.13L729.6 248.13L729.6 248.67L728.6 248.67L728.6 249.11L727.6 249.11L727.6 235.63L726.6 235.63L726.6 226.06L725.6 226.06L725.6 217.95L724.6 217.95L724.6 211.57L723.6 211.57L723.6 204.23L722.6 204.23L722.6 193.47L721.6 193.47L721.6 186.58L720.6 186.58L720.6 186.6L719.6 186.6L719.6 186.96L718.6 186.96L718.6 192.57L717.6 192.57L717.6 204.37L716.6 204.37L716.6 216.43L715.6 216.43L715.6 227.34L714.6 227.34L714.6 227.24L713.6 227.24L713.6 229.16L712.6 229.16L712.6 230.48L711.6 230.48L711.6 227.75L710.6 227.75L710.6 216.06L709.6 216.06L709.6 206L708.6 206L708.6 218.46L707.6 218.46L707.6 227.11L706.6 227.11L706.6 230.91L705.6 230.91L705.6 233.93L704.6 233.93L704.6 231.96L703.6 231.96L703.6 229.51L702.6 229.51L702.6 236.96L701.6 236.96L701.6 238.94L700.6 238.94L700.6 231.74L699.6 231.74L699.6 221.13L698.6 221.13L698.6 211.78L697.6 211.78L697.6 202.18L696.6 202.18L696.6 206.41L695.6 206.41L695.6 212.22L694.6 212.22L694.6 216.57L693.6 216.57L693.6 220.14L692.6 220.14L692.6 226.17L691.6 226.17L691.6 226.95L690.6 226.95L690.6 238.69L689.6 238.69L689.6 233.15L688.6 233.15L688.6 216.48L687.6 216.48L687.6 197.98L686.6 197.98L686.6 230.23L685.6 230.23L685.6 250.36L684.6 250.36L684.6 259.43L683.6 259.43L683.6 259.09L682.6 259.09L682.6 249.57L681.6 249.57L681.6 229.53L680.6 229.53L680.6 229.76L679.6 229.76L679.6 230.54L678.6 230.54L678.6 242.21L677.6 242.21L677.6 247.18L676.6 247.18L676.6 245.64L675.6 245.64L675.6 243.1L674.6 243.1L674.6 240.36L673.6 240.36L673.6 232.26L672.6 232.26L672.6 221.81L671.6 221.81L671.6 232.91L670.6 232.91L670.6 239.68L669.6 239.68L669.6 243.3L668.6 243.3L668.6 240.61L667.6 240.61L667.6 242L666.6 242L666.6 246.61L665.6 246.61L665.6 240.91L664.6 240.91L664.6 235.53L663.6 235.53L663.6 231.72L662.6 231.72L662.6 229.2L661.6 229.2L661.6 227.82L660.6 227.82L660.6 224.25L659.6 224.25L659.6 221.45L658.6 221.45L658.6 220.2L657.6 220.2L657.6 228.52L656.6 228.52L656.6 233.47L655.6 233.47L655.6 235.74L654.6 235.74L654.6 239.05L653.6 239.05L653.6 245.96L652.6 245.96L652.6 248.32L651.6 248.32L651.6 236.57L650.6 236.57L650.6 220.41L649.6 220.41L649.6 204.64L648.6 204.64L648.6 195.01L647.6 195.01L647.6 189.31L646.6 189.31L646.6 183.92L645.6 183.92L645.6 193.56L644.6 193.56L644.6 217.28L643.6 217.28L643.6 221.25L642.6 221.25L642.6 220.37L641.6 220.37L641.6 213.56L640.6 213.56L640.6 215.42L639.6 215.42L639.6 241.14L638.6 241.14L638.6 254.21L637.6 254.21L637.6 252.99L636.6 252.99L636.6 257.22L635.6 257.22L635.6 244L634.6 244L634.6 242.12L633.6 242.12L633.6 249.52L632.6 249.52L632.6 242.97L631.6 242.97L631.6 223.77L630.6 223.77L630.6 215.82L629.6 215.82L629.6 206.2L628.6 206.2L628.6 209.29L627.6 209.29L627.6 215.92L626.6 215.92L626.6 229.59L625.6 229.59L625.6 238.28L624.6 238.28L624.6 238.46L623.6 238.46L623.6 231.68L622.6 231.68L622.6 217.49L621.6 217.49L621.6 217.53L620.6 217.53L620.6 220.22L619.6 220.22L619.6 225.18L618.6 225.18L618.6 228.66L617.6 228.66L617.6 233.3L616.6 233.3L616.6 232.04L615.6 232.04L615.6 231.01L614.6 231.01L614.6 230.68L613.6 230.68L613.6 232.8L612.6 232.8L612.6 232.01L611.6 232.01L611.6 228.41L610.6 228.41L610.6 226.78L609.6 226.78L609.6 250.51L608.6 250.51L608.6 247.83L607.6 247.83L607.6 238.52L606.6 238.52L606.6 227.27L605.6 227.27L605.6 248.93L604.6 248.93L604.6 255.19L603.6 255.19L603.6 247.97L602.6 247.97L602.6 239.71L601.6 239.71L601.6 234.43L600.6 234.43L600.6 238.45L599.6 238.45L599.6 249.48L598.6 249.48L598.6 246.03L597.6 246.03L597.6 227.29L596.6 227.29L596.6 202.77L595.6 202.77L595.6 194.84L594.6 194.84L594.6 197.75L593.6 197.75L593.6 202.17L592.6 202.17L592.6 192.69L591.6 192.69L591.6 184.11L590.6 184.11L590.6 183.81L589.6 183.81L589.6 184.36L588.6 184.36L588.6 184.24L587.6 184.24L587.6 183.84L586.6 183.84L586.6 184.23L585.6 184.23L585.6 184.22L584.6 184.22L584.6 184.03L583.6 184.03L583.6 183.99L582.6 183.99L582.6 183.81L581.6 183.81L581.6 184.03L580.6 184.03L580.6 183.95L579.6 183.95L579.6 184.28L578.6 184.28L578.6 184.07L577.6 184.07L577.6 184.18L576.6 184.18L576.6 183.92L575.6 183.92L575.6 184.22L574.6 184.22L574.6 184.24L573.6 184.24L573.6 184.21L572.6 184.21L572.6 184.28L571.6 184.28L571.6 184.23L570.6 184.23L570.6 184.12L569.6 184.12L569.6 184L568.6 184L568.6 184.07L567.6 184.07L567.6 183.84L566.6 183.84L566.6 183.93L565.6 183.93L565.6 184.22L564.6 184.22L564.6 184.1L563.6 184.1L563.6 184.14L562.6 184.14L562.6 184L561.6 184L561.6 184.01L560.6 184.01L560.6 184.22L559.6 184.22L559.6 184.21L558.6 184.21L558.6 184.14L557.6 184.14L557.6 184.35L556.6 184.35L556.6 183.89L555.6 183.89L555.6 183.96L554.6 183.96L554.6 183.92L553.6 183.92L553.6 183.83L552.6 183.83L552.6 184.01L551.6 184.01L551.6 184.38L550.6 184.38L550.6 183.97L549.6 183.97L549.6 193.81L548.6 193.81L548.6 209.49L547.6 209.49L547.6 231.52L546.6 231.52L546.6 249.46L545.6 249.46L545.6 249.05L544.6 249.05L544.6 255.3L543.6 255.3L543.6 252.05L542.6 252.05L542.6 247.18L541.6 247.18L541.6 249.57L540.6 249.57L540.6 253.54L539.6 253.54L539.6 247.32L538.6 247.32L538.6 208.78L537.6 208.78L537.6 184.32L536.6 184.32L536.6 184.34L535.6 184.34L535.6 184.01L534.6 184.01L534.6 184.25L533.6 184.25L533.6 190.34L532.6 190.34L532.6 212.09L531.6 212.09L531.6 216.14L530.6 216.14L530.6 217.02L529.6 217.02L529.6 222.05L528.6 222.05L528.6 226.09L527.6 226.09L527.6 222.11L526.6 222.11L526.6 222.66L525.6 222.66L525.6 225.01L524.6 225.01L524.6 220.73L523.6 220.73L523.6 213.21L522.6 213.21L522.6 216.49L521.6 216.49L521.6 217.94L520.6 217.94L520.6 220.6L519.6 220.6L519.6 221.21L518.6 221.21L518.6 221.44L517.6 221.44L517.6 222.58L516.6 222.58L516.6 216.12L515.6 216.12L515.6 216.23L514.6 216.23L514.6 219.59L513.6 219.59L513.6 219.01L512.6 219.01L512.6 214.81L511.6 214.81L511.6 211.83L510.6 211.83L510.6 203.86L509.6 203.86L509.6 193.97L508.6 193.97L508.6 217.72L507.6 217.72L507.6 241.31L506.6 241.31L506.6 241.02L505.6 241.02L505.6 227.39L504.6 227.39L504.6 201.52L503.6 201.52L503.6 190.34L502.6 190.34L502.6 190.35L501.6 190.35L501.6 188.45L500.6 188.45L500.6 196.56L499.6 196.56L499.6 213.98L498.6 213.98L498.6 242.16L497.6 242.16L497.6 250.6L496.6 250.6L496.6 245.99L495.6 245.99L495.6 225.44L494.6 225.44L494.6 196.68L493.6 196.68L493.6 231.26L492.6 231.26L492.6 237.9L491.6 237.9L491.6 234.31L490.6 234.31L490.6 223.93L489.6 223.93L489.6 206.48L488.6 206.48L488.6 184.1L487.6 184.1L487.6 214.81L486.6 214.81L486.6 222.25L485.6 222.25L485.6 223.72L484.6 223.72L484.6 212.1L483.6 212.1L483.6 226.39L482.6 226.39L482.6 243.72L481.6 243.72L481.6 243.34L480.6 243.34L480.6 235.13L479.6 235.13L479.6 224.5L478.6 224.5L478.6 211.57L477.6 211.57L477.6 218.47L476.6 218.47L476.6 228.6L475.6 228.6L475.6 226.57L474.6 226.57L474.6 238.03L473.6 238.03L473.6 247.51L472.6 247.51L472.6 246.19L471.6 246.19L471.6 250.74L470.6 250.74L470.6 238.95L469.6 238.95L469.6 207.21L468.6 207.21L468.6 189.73L467.6 189.73L467.6 211.59L466.6 211.59L466.6 216.82L465.6 216.82L465.6 217.05L464.6 217.05L464.6 210.99L463.6 210.99L463.6 207.09L462.6 207.09L462.6 221.28L461.6 221.28L461.6 226.49L460.6 226.49L460.6 236.81L459.6 236.81L459.6 232.68L458.6 232.68L458.6 216.45L457.6 216.45L457.6 198.83L456.6 198.83L456.6 184.28L455.6 184.28L455.6 189.46L454.6 189.46L454.6 201.66L453.6 201.66L453.6 215.48L452.6 215.48L452.6 230.69L451.6 230.69L451.6 235.23L450.6 235.23L450.6 230.26L449.6 230.26L449.6 241.41L448.6 241.41L448.6 254.55L447.6 254.55L447.6 250.47L446.6 250.47L446.6 244.97L445.6 244.97L445.6 225.94L444.6 225.94L444.6 201.99L443.6 201.99L443.6 212.75L442.6 212.75L442.6 225.18L441.6 225.18L441.6 230.32L440.6 230.32L440.6 229.14L439.6 229.14L439.6 227.68L438.6 227.68L438.6 223.21L437.6 223.21L437.6 218.69L436.6 218.69L436.6 209.07L435.6 209.07L435.6 191.33L434.6 191.33L434.6 193.93L433.6 193.93L433.6 193.41L432.6 193.41L432.6 184.07L431.6 184.07L431.6 183.92L430.6 183.92L430.6 184.13L429.6 184.13L429.6 184.11L428.6 184.11L428.6 184.21L427.6 184.21L427.6 184.04L426.6 184.04L426.6 183.95L425.6 183.95L425.6 183.8L424.6 183.8L424.6 183.91L423.6 183.91L423.6 183.82L422.6 183.82L422.6 184.01L421.6 184.01L421.6 184.21L420.6 184.21L420.6 184.04L419.6 184.04L419.6 184.1L418.6 184.1L418.6 183.85L417.6 183.85L417.6 184.13L416.6 184.13L416.6 184.15L415.6 184.15L415.6 184.37L414.6 184.37L414.6 184.3L413.6 184.3L413.6 184L412.6 184L412.6 184.3L411.6 184.3L411.6 183.97L410.6 183.97L410.6 184.33L409.6 184.33L409.6 184.38L408.6 184.38L408.6 183.83L407.6 183.83L407.6 184.03L406.6 184.03L406.6 184.01L405.6 184.01L405.6 184.29L404.6 184.29L404.6 184.05L403.6 184.05L403.6 183.92L402.6 183.92L402.6 184.27L401.6 184.27L401.6 186.62L400.6 186.62L400.6 192.1L399.6 192.1L399.6 196.81L398.6 196.81L398.6 203.78L397.6 203.78L397.6 210.73L396.6 210.73L396.6 213.25L395.6 213.25L395.6 218.96L394.6 218.96L394.6 220.03L393.6 220.03L393.6 220.15L392.6 220.15L392.6 221.35L391.6 221.35L391.6 222.02L390.6 222.02L390.6 223.85L389.6 223.85L389.6 226.83L388.6 226.83L388.6 231.58L387.6 231.58L387.6 226.14L386.6 226.14L386.6 229.25L385.6 229.25L385.6 225.62L384.6 225.62L384.6 220.67L383.6 220.67L383.6 217.88L382.6 217.88L382.6 210.33L381.6 210.33L381.6 199.87L380.6 199.87L380.6 184L379.6 184L379.6 184.36L378.6 184.36L378.6 188.88L377.6 188.88L377.6 218.54L376.6 218.54L376.6 226.74L375.6 226.74L375.6 225.15L374.6 225.15L374.6 220.6L373.6 220.6L373.6 217.73L372.6 217.73L372.6 214.18L371.6 214.18L371.6 212.48L370.6 212.48L370.6 215.42L369.6 215.42L369.6 214.02L368.6 214.02L368.6 214.09L367.6 214.09L367.6 203.31L366.6 203.31L366.6 194.9L365.6 194.9L365.6 189.4L364.6 189.4L364.6 184.18L363.6 184.18L363.6 183.86L362.6 183.86L362.6 193.92L361.6 193.92L361.6 212.24L360.6 212.24L360.6 220.73L359.6 220.73L359.6 219.85L358.6 219.85L358.6 217.39L357.6 217.39L357.6 213.1L356.6 213.1L356.6 225.44L355.6 225.44L355.6 230L354.6 230L354.6 235.32L353.6 235.32L353.6 234.16L352.6 234.16L352.6 224.21L351.6 224.21L351.6 208.84L350.6 208.84L350.6 200.94L349.6 200.94L349.6 234.22L348.6 234.22L348.6 247.72L347.6 247.72L347.6 254.43L346.6 254.43L346.6 253.6L345.6 253.6L345.6 240.73L344.6 240.73L344.6 233.27L343.6 233.27L343.6 225.35L342.6 225.35L342.6 217.77L341.6 217.77L341.6 218.93L340.6 218.93L340.6 215.34L339.6 215.34L339.6 212.19L338.6 212.19L338.6 207.4L337.6 207.4L337.6 210.42L336.6 210.42L336.6 218.83L335.6 218.83L335.6 226.27L334.6 226.27L334.6 224.45L333.6 224.45L333.6 214.57L332.6 214.57L332.6 204.36L331.6 204.36L331.6 203.59L330.6 203.59L330.6 212.61L329.6 212.61L329.6 215.41L328.6 215.41L328.6 217.79L327.6 217.79L327.6 216.83L326.6 216.83L326.6 216.98L325.6 216.98L325.6 204.91L324.6 204.91L324.6 193.5L323.6 193.5L323.6 189.18L322.6 189.18L322.6 214.56L321.6 214.56L321.6 234.8L320.6 234.8L320.6 245.75L319.6 245.75L319.6 249.48L318.6 249.48L318.6 248.86L317.6 248.86L317.6 243.12L316.6 243.12L316.6 218.8L315.6 218.8L315.6 183.94L314.6 183.94L314.6 194.95L313.6 194.95L313.6 213.7L312.6 213.7L312.6 224.07L311.6 224.07L311.6 227.17L310.6 227.17L310.6 235.58L309.6 235.58L309.6 257.22L308.6 257.22L308.6 280.56L307.6 280.56L307.6 287.6L306.6 287.6L306.6 280.83L305.6 280.83L305.6 268.31L304.6 268.31L304.6 257.94L303.6 257.94L303.6 247.11L302.6 247.11L302.6 234.92L301.6 234.92L301.6 247.67L300.6 247.67L300.6 247.73L299.6 247.73L299.6 248.6L298.6 248.6L298.6 251.41L297.6 251.41L297.6 268.41L296.6 268.41L296.6 279.57L295.6 279.57L295.6 276.99L294.6 276.99L294.6 256.54L293.6 256.54L293.6 245.92L292.6 245.92L292.6 249.98L291.6 249.98L291.6 250.62L290.6 250.62L290.6 262.59L289.6 262.59L289.6 260.34L288.6 260.34L288.6 212.17L287.6 212.17L287.6 187.83L286.6 187.83L286.6 184.29L285.6 184.29L285.6 184.39L284.6 184.39L284.6 186.78L283.6 186.78L283.6 189.35L282.6 189.35L282.6 196.52L281.6 196.52L281.6 211.13L280.6 211.13L280.6 231.53L279.6 231.53L279.6 246.61L278.6 246.61L278.6 254.46L277.6 254.46L277.6 263.07L276.6 263.07L276.6 264.81L275.6 264.81L275.6 268.26L274.6 268.26L274.6 272.1L273.6 272.1L273.6 266.37L272.6 266.37L272.6 256.39L271.6 256.39L271.6 251.9L270.6 251.9L270.6 240.54L269.6 240.54L269.6 203.82L268.6 203.82L268.6 178.07L267.6 178.07L267.6 181.4L266.6 181.4L266.6 185.71L265.6 185.71L265.6 189.65L264.6 189.65L264.6 203.38L263.6 203.38L263.6 225.79L262.6 225.79L262.6 250.19L261.6 250.19L261.6 264.93L260.6 264.93L260.6 273.21L259.6 273.21L259.6 269.58L258.6 269.58L258.6 250.76L257.6 250.76L257.6 243.16L256.6 243.16L256.6 225.17L255.6 225.17L255.6 177.8L254.6 177.8L254.6 177.8L253.6 177.8L253.6 177.8L252.6 177.8L252.6 177.8L251.6 177.8L251.6 177.8L250.6 177.8L250.6 177.8L249.6 177.8L249.6 180.04L248.6 180.04L248.6 185.14L247.6 185.14L247.6 186.26L246.6 186.26L246.6 186.99L245.6 186.99L245.6 186.85L244.6 186.85L244.6 186.59L243.6 186.59L243.6 186.33L242.6 186.33L242.6 185.88L241.6 185.88L241.6 185.37L240.6 185.37L240.6 185.09L239.6 185.09L239.6 185.58L238.6 185.58L238.6 185.35L237.6 185.35L237.6 184.13L236.6 184.13L236.6 182.67L235.6 182.67L235.6 180.18L234.6 180.18L234.6 183.84L233.6 183.84L233.6 184.35L232.6 184.35L232.6 184.23L231.6 184.23L231.6 184.31L230.6 184.31L230.6 189.14L229.6 189.14L229.6 199.47L228.6 199.47L228.6 213.13L227.6 213.13L227.6 226.97L226.6 226.97L226.6 235.27L225.6 235.27L225.6 242.95L224.6 242.95L224.6 245.67L223.6 245.67L223.6 245.76L222.6 245.76L222.6 251.34L221.6 251.34L221.6 261.24L220.6 261.24L220.6 256.12L219.6 256.12L219.6 251.77L218.6 251.77L218.6 210.44L217.6 210.44L217.6 190.71L216.6 190.71L216.6 184.22L215.6 184.22L215.6 183.95L214.6 183.95L214.6 209.8L213.6 209.8L213.6 242.21L212.6 242.21L212.6 247.99L211.6 247.99L211.6 257.45L210.6 257.45L210.6 263.42L209.6 263.42L209.6 271.65L208.6 271.65L208.6 281.37L207.6 281.37L207.6 286.04L206.6 286.04L206.6 284.37L205.6 284.37L205.6 276.09L204.6 276.09L204.6 274.25L203.6 274.25L203.6 262.58L202.6 262.58L202.6 264.59L201.6 264.59L201.6 259.1L200.6 259.1L200.6 255.3L199.6 255.3L199.6 252.3L198.6 252.3L198.6 254.97L197.6 254.97L197.6 262.35L196.6 262.35L196.6 252.45L195.6 252.45L195.6 236.22L194.6 236.22L194.6 226.4L193.6 226.4L193.6 217.19L192.6 217.19L192.6 214.86L191.6 214.86L191.6 209.89L190.6 209.89L190.6 223.85L189.6 223.85L189.6 215.46L188.6 215.46L188.6 216.11L187.6 216.11L187.6 237.07L186.6 237.07L186.6 241.07L185.6 241.07L185.6 238.22L184.6 238.22L184.6 228.59L183.6 228.59L183.6 211.52L182.6 211.52L182.6 184.39L181.6 184.39L181.6 184.02L180.6 184.02L180.6 215.27L179.6 215.27L179.6 265.2L178.6 265.2L178.6 282.98L177.6 282.98L177.6 284.83L176.6 284.83L176.6 263.04L175.6 263.04L175.6 246.56L174.6 246.56L174.6 251.19L173.6 251.19L173.6 247.49L172.6 247.49L172.6 231.87L171.6 231.87L171.6 208.54L170.6 208.54L170.6 184.09L169.6 184.09L169.6 184.33L168.6 184.33L168.6 184.15L167.6 184.15L167.6 184.02L166.6 184.02L166.6 183.97L165.6 183.97L165.6 183.93L164.6 183.93L164.6 184.1L163.6 184.1Z" fill="#ffa049"/>
<path d="M163.6 176.4L164.6 176.4L164.6 176.4L165.6 176.4L165.6 176.4L166.6 176.4L166.6 176.4L167.6 176.4L167.6 176.4L168.6 176.4L168.6 176.4L169.6 176.4L169.6 176.4L170.6 176.4L170.6 148.26L171.6 148.26L171.6 131.65L172.6 131.65L172.6 117.18L173.6 117.18L173.6 105.03L174.6 105.03L174.6 115.3L175.6 115.3L175.6 98.71L176.6 98.71L176.6 87.09L177.6 87.09L177.6 79.14L178.6 79.14L178.6 82.4L179.6 82.4L179.6 117.43L180.6 117.43L180.6 176.4L181.6 176.4L181.6 168.53L182.6 168.53L182.6 136.56L183.6 136.56L183.6 121.74L184.6 121.74L184.6 116.4L185.6 116.4L185.6 120.4L186.6 120.4L186.6 125.24L187.6 125.24L187.6 143.18L188.6 143.18L188.6 126.83L189.6 126.83L189.6 125.71L190.6 125.71L190.6 141.15L191.6 141.15L191.6 135.97L192.6 135.97L192.6 133.93L193.6 133.93L193.6 113.72L194.6 113.72L194.6 73.36L195.6 73.36L195.6 60.48L196.6 60.48L196.6 57.54L197.6 57.54L197.6 59.31L198.6 59.31L198.6 62.74L199.6 62.74L199.6 68.15L200.6 68.15L200.6 70.79L201.6 70.79L201.6 73.15L202.6 73.15L202.6 72.08L203.6 72.08L203.6 72.94L204.6 72.94L204.6 72.45L205.6 72.45L205.6 75.04L206.6 75.04L206.6 77.33L207.6 77.33L207.6 87.49L208.6 87.49L208.6 95.55L209.6 95.55L209.6 88.31L210.6 88.31L210.6 88.6L211.6 88.6L211.6 87.97L212.6 87.97L212.6 105.7L213.6 105.7L213.6 130.65L214.6 130.65L214.6 164.62L215.6 164.62L215.6 176.4L216.6 176.4L216.6 176.4L217.6 176.4L217.6 142.23L218.6 142.23L218.6 97.12L219.6 97.12L219.6 83.71L220.6 83.71L220.6 88.69L221.6 88.69L221.6 85.88L222.6 85.88L222.6 100.61L223.6 100.61L223.6 106.13L224.6 106.13L224.6 110.01L225.6 110.01L225.6 117.54L226.6 117.54L226.6 128.95L227.6 128.95L227.6 144.57L228.6 144.57L228.6 159.19L229.6 159.19L229.6 166.9L230.6 166.9L230.6 176.4L231.6 176.4L231.6 176.4L232.6 176.4L232.6 176.4L233.6 176.4L233.6 176.4L234.6 176.4L234.6 174.54L235.6 174.54L235.6 171.04L236.6 171.04L236.6 168.6L237.6 168.6L237.6 166.35L238.6 166.35L238.6 166.15L239.6 166.15L239.6 167.01L240.6 167.01L240.6 167.61L241.6 167.61L241.6 167.99L242.6 167.99L242.6 168.41L243.6 168.41L243.6 168.29L244.6 168.29L244.6 168.2L245.6 168.2L245.6 167.78L246.6 167.78L246.6 167.33L247.6 167.33L247.6 168.28L248.6 168.28L248.6 170.83L249.6 170.83L249.6 176.26L250.6 176.26L250.6 176.27L251.6 176.27L251.6 176.27L252.6 176.27L252.6 176.25L253.6 176.25L253.6 176.25L254.6 176.25L254.6 176.26L255.6 176.26L255.6 115.88L256.6 115.88L256.6 85.36L257.6 85.36L257.6 85.46L258.6 85.46L258.6 75.61L259.6 75.61L259.6 70.26L260.6 70.26L260.6 67.55L261.6 67.55L261.6 82.22L262.6 82.22L262.6 95.66L263.6 95.66L263.6 133.85L264.6 133.85L264.6 160.72L265.6 160.72L265.6 170.18L266.6 170.18L266.6 175.97L267.6 175.97L267.6 176.26L268.6 176.26L268.6 169.5L269.6 169.5L269.6 122.36L270.6 122.36L270.6 100.22L271.6 100.22L271.6 86.8L272.6 86.8L272.6 65.65L273.6 65.65L273.6 61.6L274.6 61.6L274.6 64.16L275.6 64.16L275.6 64.9L276.6 64.9L276.6 67.64L277.6 67.64L277.6 71.52L278.6 71.52L278.6 92.9L279.6 92.9L279.6 109.78L280.6 109.78L280.6 142.57L281.6 142.57L281.6 162.65L282.6 162.65L282.6 176.4L283.6 176.4L283.6 176.4L284.6 176.4L284.6 176.4L285.6 176.4L285.6 176.4L286.6 176.4L286.6 176.4L287.6 176.4L287.6 166.57L288.6 166.57L288.6 97.82L289.6 97.82L289.6 82.92L290.6 82.92L290.6 98.2L291.6 98.2L291.6 93.41L292.6 93.41L292.6 82L293.6 82L293.6 81.52L294.6 81.52L294.6 65.77L295.6 65.77L295.6 67.47L296.6 67.47L296.6 71.37L297.6 71.37L297.6 81.87L298.6 81.87L298.6 94.97L299.6 94.97L299.6 99.52L300.6 99.52L300.6 101.39L301.6 101.39L301.6 107.34L302.6 107.34L302.6 86.43L303.6 86.43L303.6 82.38L304.6 82.38L304.6 69.4L305.6 69.4L305.6 64.95L306.6 64.95L306.6 65.4L307.6 65.4L307.6 68.5L308.6 68.5L308.6 76.8L309.6 76.8L309.6 102.09L310.6 102.09L310.6 117.01L311.6 117.01L311.6 119.19L312.6 119.19L312.6 128.93L313.6 128.93L313.6 157.44L314.6 157.44L314.6 176.4L315.6 176.4L315.6 114.63L316.6 114.63L316.6 83.49L317.6 83.49L317.6 79.89L318.6 79.89L318.6 76.76L319.6 76.76L319.6 83.21L320.6 83.21L320.6 107.44L321.6 107.44L321.6 145.41L322.6 145.41L322.6 167.05L323.6 167.05L323.6 166.54L324.6 166.54L324.6 149.39L325.6 149.39L325.6 133.52L326.6 133.52L326.6 129.5L327.6 129.5L327.6 125.06L328.6 125.06L328.6 126.88L329.6 126.88L329.6 131.52L330.6 131.52L330.6 141.26L331.6 141.26L331.6 147.59L332.6 147.59L332.6 135.57L333.6 135.57L333.6 120.09L334.6 120.09L334.6 115.69L335.6 115.69L335.6 119.79L336.6 119.79L336.6 137.83L337.6 137.83L337.6 149.13L338.6 149.13L338.6 146.86L339.6 146.86L339.6 147.87L340.6 147.87L340.6 130.37L341.6 130.37L341.6 117.52L342.6 117.52L342.6 95.43L343.6 95.43L343.6 83.13L344.6 83.13L344.6 73.35L345.6 73.35L345.6 68.02L346.6 68.02L346.6 66.03L347.6 66.03L347.6 70.84L348.6 70.84L348.6 77.02L349.6 77.02L349.6 121.02L350.6 121.02L350.6 146.01L351.6 146.01L351.6 136.13L352.6 136.13L352.6 116.32L353.6 116.32L353.6 109.43L354.6 109.43L354.6 112.67L355.6 112.67L355.6 132.47L356.6 132.47L356.6 131.65L357.6 131.65L357.6 125.67L358.6 125.67L358.6 123.8L359.6 123.8L359.6 130.01L360.6 130.01L360.6 135.88L361.6 135.88L361.6 153.23L362.6 153.23L362.6 166.76L363.6 166.76L363.6 176.4L364.6 176.4L364.6 176.4L365.6 176.4L365.6 161.13L366.6 161.13L366.6 154.4L367.6 154.4L367.6 132.8L368.6 132.8L368.6 127.02L369.6 127.02L369.6 125.18L370.6 125.18L370.6 118.21L371.6 118.21L371.6 103.65L372.6 103.65L372.6 93.66L373.6 93.66L373.6 96.89L374.6 96.89L374.6 90.45L375.6 90.45L375.6 107.47L376.6 107.47L376.6 135.79L377.6 135.79L377.6 168.43L378.6 168.43L378.6 176.4L379.6 176.4L379.6 176.4L380.6 176.4L380.6 142.65L381.6 142.65L381.6 132.99L382.6 132.99L382.6 125.27L383.6 125.27L383.6 111.86L384.6 111.86L384.6 102.62L385.6 102.62L385.6 92.12L386.6 92.12L386.6 90.13L387.6 90.13L387.6 89.91L388.6 89.91L388.6 90.58L389.6 90.58L389.6 116.32L390.6 116.32L390.6 124.26L391.6 124.26L391.6 126.62L392.6 126.62L392.6 126.55L393.6 126.55L393.6 124.8L394.6 124.8L394.6 125.71L395.6 125.71L395.6 128.76L396.6 128.76L396.6 137.1L397.6 137.1L397.6 145.71L398.6 145.71L398.6 153.42L399.6 153.42L399.6 159.48L400.6 159.48L400.6 165.78L401.6 165.78L401.6 176.4L402.6 176.4L402.6 176.4L403.6 176.4L403.6 176.4L404.6 176.4L404.6 176.4L405.6 176.4L405.6 176.4L406.6 176.4L406.6 176.4L407.6 176.4L407.6 176.4L408.6 176.4L408.6 176.4L409.6 176.4L409.6 176.4L410.6 176.4L410.6 176.4L411.6 176.4L411.6 176.4L412.6 176.4L412.6 176.4L413.6 176.4L413.6 176.4L414.6 176.4L414.6 176.4L415.6 176.4L415.6 176.4L416.6 176.4L416.6 176.4L417.6 176.4L417.6 176.4L418.6 176.4L418.6 176.4L419.6 176.4L419.6 176.4L420.6 176.4L420.6 176.4L421.6 176.4L421.6 176.4L422.6 176.4L422.6 176.4L423.6 176.4L423.6 176.4L424.6 176.4L424.6 176.4L425.6 176.4L425.6 176.4L426.6 176.4L426.6 176.4L427.6 176.4L427.6 176.4L428.6 176.4L428.6 176.4L429.6 176.4L429.6 176.4L430.6 176.4L430.6 176.4L431.6 176.4L431.6 176.4L432.6 176.4L432.6 162.55L433.6 162.55L433.6 161.48L434.6 161.48L434.6 151.08L435.6 151.08L435.6 120.07L436.6 120.07L436.6 113.72L437.6 113.72L437.6 111.19L438.6 111.19L438.6 100.8L439.6 100.8L439.6 92.57L440.6 92.57L440.6 93.79L441.6 93.79L441.6 110.26L442.6 110.26L442.6 140.98L443.6 140.98L443.6 144.93L444.6 144.93L444.6 117.93L445.6 117.93L445.6 93.47L446.6 93.47L446.6 91.45L447.6 91.45L447.6 82.92L448.6 82.92L448.6 92.52L449.6 92.52L449.6 113.91L450.6 113.91L450.6 117.94L451.6 117.94L451.6 126.46L452.6 126.46L452.6 142.57L453.6 142.57L453.6 157.57L454.6 157.57L454.6 166.53L455.6 166.53L455.6 176.4L456.6 176.4L456.6 142.53L457.6 142.53L457.6 136.03L458.6 136.03L458.6 118.95L459.6 118.95L459.6 108.21L460.6 108.21L460.6 116.2L461.6 116.2L461.6 123.23L462.6 123.23L462.6 140.88L463.6 140.88L463.6 143.65L464.6 143.65L464.6 139.45L465.6 139.45L465.6 144.24L466.6 144.24L466.6 146.28L467.6 146.28L467.6 168.3L468.6 168.3L468.6 162.17L469.6 162.17L469.6 118.28L470.6 118.28L470.6 93.89L471.6 93.89L471.6 96.79L472.6 96.79L472.6 92.1L473.6 92.1L473.6 91.62L474.6 91.62L474.6 101.67L475.6 101.67L475.6 108.42L476.6 108.42L476.6 130.47L477.6 130.47L477.6 144.99L478.6 144.99L478.6 123.89L479.6 123.89L479.6 112.47L480.6 112.47L480.6 110.86L481.6 110.86L481.6 108.86L482.6 108.86L482.6 115.96L483.6 115.96L483.6 137.22L484.6 137.22L484.6 138.8L485.6 138.8L485.6 130.62L486.6 130.62L486.6 145.14L487.6 145.14L487.6 168.85L488.6 168.85L488.6 153.51L489.6 153.51L489.6 126.14L490.6 126.14L490.6 106.53L491.6 106.53L491.6 105.32L492.6 105.32L492.6 115.85L493.6 115.85L493.6 148.39L494.6 148.39L494.6 128.39L495.6 128.39L495.6 92.59L496.6 92.59L496.6 86.56L497.6 86.56L497.6 102.99L498.6 102.99L498.6 143.51L499.6 143.51L499.6 160.14L500.6 160.14L500.6 168.14L501.6 168.14L501.6 161.94L502.6 161.94L502.6 158.76L503.6 158.76L503.6 140.94L504.6 140.94L504.6 118.74L505.6 118.74L505.6 110.37L506.6 110.37L506.6 110.44L507.6 110.44L507.6 127.9L508.6 127.9L508.6 162.75L509.6 162.75L509.6 151.72L510.6 151.72L510.6 140.51L511.6 140.51L511.6 134.46L512.6 134.46L512.6 131.72L513.6 131.72L513.6 132.91L514.6 132.91L514.6 141.97L515.6 141.97L515.6 149.62L516.6 149.62L516.6 142.39L517.6 142.39L517.6 139.72L518.6 139.72L518.6 133.33L519.6 133.33L519.6 131.6L520.6 131.6L520.6 132.19L521.6 132.19L521.6 134.64L522.6 134.64L522.6 141.99L523.6 141.99L523.6 144.47L524.6 144.47L524.6 141.44L525.6 141.44L525.6 137.06L526.6 137.06L526.6 134.42L527.6 134.42L527.6 122.6L528.6 122.6L528.6 116.84L529.6 116.84L529.6 114.66L530.6 114.66L530.6 122.84L531.6 122.84L531.6 128.02L532.6 128.02L532.6 156.85L533.6 156.85L533.6 176.4L534.6 176.4L534.6 176.4L535.6 176.4L535.6 176.4L536.6 176.4L536.6 176.4L537.6 176.4L537.6 152.17L538.6 152.17L538.6 104.5L539.6 104.5L539.6 92.24L540.6 92.24L540.6 97.63L541.6 97.63L541.6 106.18L542.6 106.18L542.6 108.49L543.6 108.49L543.6 106.13L544.6 106.13L544.6 109.91L545.6 109.91L545.6 117.55L546.6 117.55L546.6 129.96L547.6 129.96L547.6 143.01L548.6 143.01L548.6 158.03L549.6 158.03L549.6 167.62L550.6 167.62L550.6 176.4L551.6 176.4L551.6 176.4L552.6 176.4L552.6 176.4L553.6 176.4L553.6 176.4L554.6 176.4L554.6 176.4L555.6 176.4L555.6 176.4L556.6 176.4L556.6 176.4L557.6 176.4L557.6 176.4L558.6 176.4L558.6 176.4L559.6 176.4L559.6 176.4L560.6 176.4L560.6 176.4L561.6 176.4L561.6 176.4L562.6 176.4L562.6 176.4L563.6 176.4L563.6 176.4L564.6 176.4L564.6 176.4L565.6 176.4L565.6 176.4L566.6 176.4L566.6 176.4L567.6 176.4L567.6 176.4L568.6 176.4L568.6 176.4L569.6 176.4L569.6 176.4L570.6 176.4L570.6 176.4L571.6 176.4L571.6 176.4L572.6 176.4L572.6 176.4L573.6 176.4L573.6 176.4L574.6 176.4L574.6 176.4L575.6 176.4L575.6 176.4L576.6 176.4L576.6 176.4L577.6 176.4L577.6 176.4L578.6 176.4L578.6 176.4L579.6 176.4L579.6 176.4L580.6 176.4L580.6 176.4L581.6 176.4L581.6 176.4L582.6 176.4L582.6 176.4L583.6 176.4L583.6 176.4L584.6 176.4L584.6 176.4L585.6 176.4L585.6 176.4L586.6 176.4L586.6 176.4L587.6 176.4L587.6 176.4L588.6 176.4L588.6 176.4L589.6 176.4L589.6 176.4L590.6 176.4L590.6 176.4L591.6 176.4L591.6 162.82L592.6 162.82L592.6 152.83L593.6 152.83L593.6 154.2L594.6 154.2L594.6 158L595.6 158L595.6 161.58L596.6 161.58L596.6 111.56L597.6 111.56L597.6 78.44L598.6 78.44L598.6 73L599.6 73L599.6 73.46L600.6 73.46L600.6 79.81L601.6 79.81L601.6 85L602.6 85L602.6 96.19L603.6 96.19L603.6 97.69L604.6 97.69L604.6 98.36L605.6 98.36L605.6 117.75L606.6 117.75L606.6 118.08L607.6 118.08L607.6 111.15L608.6 111.15L608.6 113.3L609.6 113.3L609.6 127.75L610.6 127.75L610.6 127.34L611.6 127.34L611.6 97.14L612.6 97.14L612.6 81.23L613.6 81.23L613.6 78.39L614.6 78.39L614.6 80.55L615.6 80.55L615.6 90.05L616.6 90.05L616.6 103.43L617.6 103.43L617.6 118.32L618.6 118.32L618.6 125.01L619.6 125.01L619.6 121.85L620.6 121.85L620.6 117.93L621.6 117.93L621.6 114.34L622.6 114.34L622.6 102.69L623.6 102.69L623.6 97.56L624.6 97.56L624.6 111.38L625.6 111.38L625.6 121.23L626.6 121.23L626.6 139.62L627.6 139.62L627.6 142.89L628.6 142.89L628.6 150.21L629.6 150.21L629.6 134.5L630.6 134.5L630.6 128.14L631.6 128.14L631.6 115.72L632.6 115.72L632.6 105.21L633.6 105.21L633.6 112.15L634.6 112.15L634.6 112.74L635.6 112.74L635.6 98.23L636.6 98.23L636.6 98.05L637.6 98.05L637.6 113.49L638.6 113.49L638.6 119.77L639.6 119.77L639.6 129.52L640.6 129.52L640.6 142.88L641.6 142.88L641.6 129.62L642.6 129.62L642.6 127.13L643.6 127.13L643.6 134.84L644.6 134.84L644.6 158.4L645.6 158.4L645.6 176.4L646.6 176.4L646.6 168.25L647.6 168.25L647.6 161.84L648.6 161.84L648.6 154.81L649.6 154.81L649.6 146.1L650.6 146.1L650.6 119.36L651.6 119.36L651.6 103.12L652.6 103.12L652.6 103.3L653.6 103.3L653.6 109.73L654.6 109.73L654.6 111.81L655.6 111.81L655.6 110.16L656.6 110.16L656.6 115.36L657.6 115.36L657.6 129.12L658.6 129.12L658.6 132.64L659.6 132.64L659.6 128.16L660.6 128.16L660.6 124.96L661.6 124.96L661.6 121.84L662.6 121.84L662.6 120.01L663.6 120.01L663.6 118.39L664.6 118.39L664.6 89.64L665.6 89.64L665.6 77.22L666.6 77.22L666.6 77.29L667.6 77.29L667.6 76.94L668.6 76.94L668.6 80.97L669.6 80.97L669.6 86.03L670.6 86.03L670.6 109.36L671.6 109.36L671.6 130.37L672.6 130.37L672.6 123.63L673.6 123.63L673.6 105.1L674.6 105.1L674.6 92.85L675.6 92.85L675.6 88.88L676.6 88.88L676.6 92.2L677.6 92.2L677.6 101.25L678.6 101.25L678.6 106.81L679.6 106.81L679.6 105.14L680.6 105.14L680.6 103.36L681.6 103.36L681.6 99.46L682.6 99.46L682.6 91.36L683.6 91.36L683.6 89.98L684.6 89.98L684.6 92.55L685.6 92.55L685.6 105.97L686.6 105.97L686.6 167.19L687.6 167.19L687.6 114.6L688.6 114.6L688.6 102.98L689.6 102.98L689.6 103.11L690.6 103.11L690.6 113.92L691.6 113.92L691.6 129.7L692.6 129.7L692.6 135.51L693.6 135.51L693.6 135.86L694.6 135.86L694.6 138.2L695.6 138.2L695.6 144.02L696.6 144.02L696.6 155.35L697.6 155.35L697.6 134.26L698.6 134.26L698.6 123.04L699.6 123.04L699.6 118.08L700.6 118.08L700.6 112.96L701.6 112.96L701.6 109.46L702.6 109.46L702.6 109.67L703.6 109.67L703.6 107.49L704.6 107.49L704.6 106.76L705.6 106.76L705.6 108.79L706.6 108.79L706.6 111.14L707.6 111.14L707.6 123.99L708.6 123.99L708.6 143.79L709.6 143.79L709.6 133.91L710.6 133.91L710.6 126.85L711.6 126.85L711.6 127.1L712.6 127.1L712.6 128.67L713.6 128.67L713.6 133.09L714.6 133.09L714.6 136.44L715.6 136.44L715.6 135.9L716.6 135.9L716.6 143.44L717.6 143.44L717.6 163.23L718.6 163.23L718.6 168.29L719.6 168.29L719.6 168.46L720.6 168.46L720.6 168.64L721.6 168.64L721.6 169.56L722.6 169.56L722.6 128.15L723.6 128.15L723.6 104.56L724.6 104.56L724.6 98.93L725.6 98.93L725.6 91.15L726.6 91.15L726.6 87.96L727.6 87.96L727.6 85.04L728.6 85.04L728.6 72.86L729.6 72.86L729.6 69.1L730.6 69.1L730.6 73.14L731.6 73.14L731.6 90.54L732.6 90.54L732.6 105.02L733.6 105.02L733.6 117.08L734.6 117.08L734.6 130.05L735.6 130.05L735.6 99.31L736.6 99.31L736.6 101.07L737.6 101.07L737.6 110.88L738.6 110.88L738.6 113.46L739.6 113.46L739.6 107L740.6 107L740.6 130.54L741.6 130.54L741.6 159.47L742.6 159.47L742.6 159.86L743.6 159.86L743.6 128.33L744.6 128.33L744.6 103.65L745.6 103.65L745.6 100.5L746.6 100.5L746.6 101.55L747.6 101.55L747.6 102.48L748.6 102.48L748.6 112.19L749.6 112.19L749.6 141.05L750.6 141.05L750.6 164.1L751.6 164.1L751.6 167.46L752.6 167.46L752.6 176.4L753.6 176.4L753.6 168.45L754.6 168.45L754.6 166.69L755.6 166.69L755.6 153.21L756.6 153.21L756.6 124.65L757.6 124.65L757.6 103.54L758.6 103.54L758.6 100.86L759.6 100.86L759.6 101.44L760.6 101.44L760.6 115.15L761.6 115.15L761.6 149.78L762.6 149.78L762.6 165.38L763.6 165.38L763.6 168.32L764.6 168.32L764.6 176.4L765.6 176.4L765.6 176.4L766.6 176.4L766.6 176.4L767.6 176.4L767.6 176.4L768.6 176.4L768.6 161.74L769.6 161.74L769.6 140.34L770.6 140.34L770.6 126.18L771.6 126.18L771.6 127.16L772.6 127.16L772.6 128.03L773.6 128.03L773.6 125.52L774.6 125.52L774.6 126.13L775.6 126.13L775.6 121.1L776.6 121.1L776.6 125.04L777.6 125.04L777.6 126.9L778.6 126.9L778.6 144.09L779.6 144.09L779.6 163.5L780.6 163.5L780.6 159.68L781.6 159.68L781.6 157.21L782.6 157.21L782.6 146.02L783.6 146.02L783.6 146.3L784.6 146.3L784.6 143.92L785.6 143.92L785.6 130.57L786.6 130.57L786.6 128.13L787.6 128.13L787.6 128.14L788.6 128.14L788.6 130.08L789.6 130.08L789.6 138.25L790.6 138.25L790.6 127L791.6 127L791.6 124.27L792.6 124.27L792.6 125.91L793.6 125.91L793.6 120.08L794.6 120.08L794.6 139.87L795.6 139.87L795.6 168.69L796.6 168.69L796.6 154.31L797.6 154.31L797.6 119.25L798.6 119.25L798.6 93.74L799.6 93.74L799.6 77.89L800.6 77.89L800.6 67.67L801.6 67.67L801.6 66.45L802.6 66.45L802.6 66.24L803.6 66.24L803.6 67.78L804.6 67.78L804.6 74.96L805.6 74.96L805.6 109.61L806.6 109.61L806.6 149.04L807.6 149.04L807.6 176.4L808.6 176.4L808.6 176.4L809.6 176.4L809.6 176.4L810.6 176.4L810.6 130.51L811.6 130.51L811.6 129.22L812.6 129.22L812.6 124.79L813.6 124.79L813.6 123.02L814.6 123.02L814.6 130.67L815.6 130.67L815.6 146.09L816.6 146.09L816.6 150.67L817.6 150.67L817.6 137.7L818.6 137.7L818.6 127.29L819.6 127.29L819.6 116.81L820.6 116.81L820.6 114.54L821.6 114.54L821.6 115.77L822.6 115.77L822.6 116.7L823.6 116.7L823.6 119.84L824.6 119.84L824.6 130.79L825.6 130.79L825.6 150.02L826.6 150.02L826.6 152.55L827.6 152.55L827.6 132.28L828.6 132.28L828.6 123.7L829.6 123.7L829.6 118.04L830.6 118.04L830.6 112.69L831.6 112.69L831.6 96.35L832.6 96.35L832.6 87.58L833.6 87.58L833.6 86.44L834.6 86.44L834.6 91.9L835.6 91.9L835.6 122.49L836.6 122.49L836.6 168.86L837.6 168.86L837.6 164.52L838.6 164.52L838.6 151.1L839.6 151.1L839.6 159.52L840.6 159.52L840.6 162.67L841.6 162.67L841.6 147.45L842.6 147.45L842.6 108.74L843.6 108.74L843.6 80.11L844.6 80.11L844.6 78.36L845.6 78.36L845.6 93.74L846.6 93.74L846.6 119.12L847.6 119.12L847.6 151.36L848.6 151.36L848.6 165.47L849.6 165.47L849.6 168.04L850.6 168.04L850.6 168.77L851.6 168.77L851.6 168.26L852.6 168.26L852.6 141.9L853.6 141.9L853.6 118.15L854.6 118.15L854.6 109.69L855.6 109.69L855.6 117.57L856.6 117.57L856.6 129.58L857.6 129.58L857.6 142.99L858.6 142.99L858.6 146.06L859.6 146.06L859.6 150.95L860.6 150.95L860.6 149.42L861.6 149.42L861.6 137.48L862.6 137.48L862.6 120.81L863.6 120.81L863.6 120.78L864.6 120.78L864.6 144.87L865.6 144.87L865.6 166.01L866.6 166.01L866.6 173.66L867.6 173.66L867.6 173.89L868.6 173.89L868.6 174.12L869.6 174.12L869.6 174.16L870.6 174.16L870.6 173.91L871.6 173.91L871.6 173.66L872.6 173.66L872.6 172.01L873.6 172.01L873.6 170.42L874.6 170.42L874.6 169.46L875.6 169.46L875.6 169.86L876.6 169.86L876.6 170.53L877.6 170.53L877.6 170.83L878.6 170.83L878.6 170.83L879.6 170.83L879.6 170.99L880.6 170.99L880.6 171.32L881.6 171.32L881.6 171.9L882.6 171.9L882.6 172.9L883.6 172.9L883.6 173.24L884.6 173.24L884.6 173.58L885.6 173.58L885.6 173.69L886.6 173.69L886.6 173.77L887.6 173.77L887.6 173.85L888.6 173.85L888.6 173.94L889.6 173.94L889.6 174.02L890.6 174.02L890.6 174.1L891.6 174.1L891.6 174.19L892.6 174.19L892.6 174.27L893.6 174.27L893.6 174.38L894.6 174.38L894.6 174.5L895.6 174.5L895.6 176.4L896.6 176.4L896.6 176.4L897.6 176.4L897.6 176.4L898.6 176.4L898.6 164.04L899.6 164.04L899.6 139.9L900.6 139.9L900.6 142.14L901.6 142.14L901.6 143.83L902.6 143.83L902.6 132.01L903.6 132.01L903.6 113.86L904.6 113.86L904.6 92.52L905.6 92.52L905.6 92.92L906.6 92.92L906.6 99.88L907.6 99.88L907.6 97.26L908.6 97.26L908.6 105.7L909.6 105.7L909.6 105.98L910.6 105.98L910.6 107.3L911.6 107.3L911.6 106.79L912.6 106.79L912.6 109.52L913.6 109.52L913.6 91.32L914.6 91.32L914.6 89.65L915.6 89.65L915.6 90.32L916.6 90.32L916.6 97.39L917.6 97.39L917.6 98.88L918.6 98.88L918.6 98.53L919.6 98.53L919.6 99.62L920.6 99.62L920.6 116.95L921.6 116.95L921.6 99.08L922.6 99.08L922.6 70.56L923.6 70.56L923.6 67.13L924.6 67.13L924.6 66.96L925.6 66.96L925.6 74.02L926.6 74.02L926.6 85.1L927.6 85.1L927.6 100.72L928.6 100.72L928.6 106.21L929.6 106.21L929.6 111.24L930.6 111.24L930.6 93.12L931.6 93.12L931.6 89.03L932.6 89.03L932.6 103L933.6 103L933.6 120.14L934.6 120.14L934.6 137.85L935.6 137.85L935.6 153.69L936.6 153.69L936.6 164.68L937.6 164.68L937.6 151.9L938.6 151.9L938.6 149.4L939.6 149.4L939.6 156.13L940.6 156.13L940.6 120.9L941.6 120.9L941.6 106.7L942.6 106.7L942.6 104.98L943.6 104.98L943.6 108.08L944.6 108.08L944.6 115.79L945.6 115.79L945.6 110.48L946.6 110.48L946.6 125.94L947.6 125.94L947.6 161.18L948.6 161.18L948.6 159.76L949.6 159.76L949.6 157.09L950.6 157.09L950.6 137.31L951.6 137.31L951.6 133.23L952.6 133.23L952.6 121.04L953.6 121.04L953.6 103.67L954.6 103.67L954.6 96.16L955.6 96.16L955.6 94.31L956.6 94.31L956.6 115.57L957.6 115.57L957.6 157.86L958.6 157.86L958.6 160.09L959.6 160.09L959.6 157.54L960.6 157.54L960.6 158.15L961.6 158.15L961.6 157.87L962.6 157.87L962.6 147.27L963.6 147.27L963.6 133.04L964.6 133.04L964.6 128.11L965.6 128.11L965.6 129.63L966.6 129.63L966.6 139.28L967.6 139.28L967.6 150.37L968.6 150.37L968.6 152.17L969.6 152.17L969.6 133.91L970.6 133.91L970.6 123.53L971.6 123.53L971.6 116.09L972.6 116.09L972.6 119.33L973.6 119.33L973.6 135.1L974.6 135.1L974.6 150.33L975.6 150.33L975.6 160.56L976.6 160.56L976.6 166.19L977.6 166.19L977.6 168.75L978.6 168.75L978.6 176.4L979.6 176.4L979.6 176.4L980.6 176.4L980.6 149.27L981.6 149.27L981.6 136.86L982.6 136.86L982.6 140.42L983.6 140.42L983.6 122.29L984.6 122.29L984.6 107.91L985.6 107.91L985.6 103.48L986.6 103.48L986.6 107.69L987.6 107.69L987.6 96.22L988.6 96.22L988.6 100.99L989.6 100.99L989.6 124.49L990.6 124.49L990.6 119.15L991.6 119.15L991.6 115.29L992.6 115.29L992.6 112.13L993.6 112.13L993.6 111.96L994.6 111.96L994.6 112.44L995.6 112.44L995.6 117.52L996.6 117.52L996.6 115.99L997.6 115.99L997.6 126.14L998.6 126.14L998.6 143.74L999.6 143.74L999.6 153.61L1000.6 153.61L1000.6 159.98L1001.6 159.98L1001.6 162.8L1002.6 162.8L1002.6 137.99L1003.6 137.99L1003.6 121.08L1004.6 121.08L1004.6 117.87L1005.6 117.87L1005.6 119.48L1006.6 119.48L1006.6 116.21L1007.6 116.21L1007.6 116.73L1008.6 116.73L1008.6 122.98L1009.6 122.98L1009.6 144.79L1010.6 144.79L1010.6 156.2L1011.6 156.2L1011.6 169.18L1012.6 169.18L1012.6 138.43L1013.6 138.43L1013.6 123.19L1014.6 123.19L1014.6 120.06L1015.6 120.06L1015.6 120.99L1016.6 120.99L1016.6 127.32L1017.6 127.32L1017.6 114.78L1018.6 114.78L1018.6 110.63L1019.6 110.63L1019.6 110.32L1020.6 110.32L1020.6 115.54L1021.6 115.54L1021.6 112.9L1022.6 112.9L1022.6 99.12L1023.6 99.12L1023.6 94.63L1024.6 94.63L1024.6 97.82L1025.6 97.82L1025.6 102.95L1026.6 102.95L1026.6 123.24L1027.6 123.24L1027.6 157.43L1028.6 157.43L1028.6 166.19L1029.6 166.19L1029.6 120.69L1030.6 120.69L1030.6 106.78L1031.6 106.78L1031.6 103.6L1032.6 103.6L1032.6 103.61L1033.6 103.61L1033.6 114.12L1034.6 114.12L1034.6 125.47L1035.6 125.47L1035.6 125.55L1036.6 125.55L1036.6 127.29L1037.6 127.29L1037.6 131.31L1038.6 131.31L1038.6 108.96L1039.6 108.96L1039.6 95.43L1040.6 95.43L1040.6 93.54L1041.6 93.54L1041.6 107.26L1042.6 107.26L1042.6 131.82L1043.6 131.82L1043.6 150.11L1044.6 150.11L1044.6 114.99L1045.6 114.99L1045.6 113.31L1046.6 113.31L1046.6 120.51L1047.6 120.51L1047.6 137.64L1048.6 137.64L1048.6 160.55L1049.6 160.55L1049.6 161.31L1050.6 161.31L1050.6 156.92L1051.6 156.92L1051.6 163.63L1052.6 163.63L1052.6 176.4L1053.6 176.4L1053.6 176.4L1054.6 176.4L1054.6 176.4L1055.6 176.4L1055.6 164.13L1056.6 164.13L1056.6 155.68L1057.6 155.68L1057.6 137.3L1058.6 137.3L1058.6 129.37L1059.6 129.37L1059.6 124.45L1060.6 124.45L1060.6 118.74L1061.6 118.74L1061.6 120.38L1062.6 120.38L1062.6 138.88L1063.6 138.88L1063.6 157.88L1064.6 157.88L1064.6 147.32L1065.6 147.32L1065.6 129.23L1066.6 129.23L1066.6 126.18L1067.6 126.18L1067.6 125.73L1068.6 125.73L1068.6 131.26L1069.6 131.26L1069.6 133L1070.6 133L1070.6 131.59L1071.6 131.59L1071.6 142.76L1072.6 142.76L1072.6 157.12L1073.6 157.12L1073.6 163.96L1074.6 163.96L1074.6 157.12L1075.6 157.12L1075.6 144.52L1076.6 144.52L1076.6 136.84L1077.6 136.84L1077.6 138.68L1078.6 138.68L1078.6 133.72L1079.6 133.72L1079.6 133.99L1080.6 133.99L1080.6 136.75L1081.6 136.75L1081.6 137.07L1082.6 137.07L1082.6 134.62L1083.6 134.62L1083.6 135.3L1084.6 135.3L1084.6 136.97L1085.6 136.97L1085.6 140.4L1086.6 140.4L1086.6 140.78L1087.6 140.78L1087.6 145.28L1088.6 145.28L1088.6 145.2L1089.6 145.2L1089.6 147.87L1090.6 147.87L1090.6 156.69L1091.6 156.69L1091.6 166.86L1092.6 166.86L1092.6 176.4L1093.6 176.4L1093.6 176.4L1094.6 176.4L1094.6 176.4L1095.6 176.4L1095.6 176.4L1096.6 176.4L1096.6 176.4L1097.6 176.4L1097.6 176.4L1098.6 176.4L1098.6 176.4L1099.6 176.4L1099.6 176.4L1100.6 176.4L1100.6 176.4L1101.6 176.4L1101.6 176.4L1102.6 176.4L1102.6 176.4L1103.6 176.4L1103.6 176.4L1104.6 176.4L1104.6 176.4L1105.6 176.4L1105.6 176.4L1106.6 176.4L1106.6 176.4L1107.6 176.4L1107.6 176.4L1108.6 176.4L1108.6 176.4L1109.6 176.4L1109.6 176.4L1110.6 176.4L1110.6 176.4L1111.6 176.4L1111.6 176.4L1112.6 176.4L1112.6 176.4L1113.6 176.4L1113.6 176.4L1114.6 176.4L1114.6 176.4L1115.6 176.4L1115.6 176.4L1116.6 176.4L1116.6 176.4L1117.6 176.4L1117.6 176.4L1118.6 176.4L1118.6 176.4L1119.6 176.4L1119.6 176.4L1120.6 176.4L1120.6 176.4L1121.6 176.4L1121.6 176.4L1122.6 176.4L1122.6 176.4L1123.6 176.4L1123.6 176.4L1124.6 176.4L1124.6 176.4L1125.6 176.4L1125.6 176.4L1126.6 176.4L1126.6 176.4L1127.6 176.4L1127.6 176.4L1128.6 176.4L1128.6 176.4L1129.6 176.4L1129.6 166.82L1130.6 166.82L1130.6 148.77L1131.6 148.77L1131.6 145.95L1132.6 145.95L1132.6 143.95L1133.6 143.95L1133.6 141.41L1134.6 141.41L1134.6 146.56L1135.6 146.56L1135.6 148.6L1136.6 148.6L1136.6 147.9L1137.6 147.9L1137.6 155.84L1138.6 155.84L1138.6 157.29L1139.6 157.29L1139.6 156.81L1140.6 156.81L1140.6 153.57L1141.6 153.57L1141.6 155.73L1142.6 155.73L1142.6 148.8L1143.6 148.8L1143.6 147.17L1144.6 147.17L1144.6 160.91L1145.6 160.91L1145.6 176.4L1146.6 176.4L1146.6 158.89L1147.6 158.89L1147.6 156.8L1148.6 156.8L1148.6 152.84L1149.6 152.84L1149.6 149.42L1150.6 149.42L1150.6 146.6L1151.6 146.6L1151.6 146.76L1152.6 146.76L1152.6 149.34L1153.6 149.34L1153.6 146.83L1154.6 146.83L1154.6 156.64L1155.6 156.64L1155.6 151.41L1156.6 151.41L1156.6 148.9L1157.6 148.9L1157.6 148.65L1158.6 148.65L1158.6 145L1159.6 145L1159.6 141.22L1160.6 141.22L1160.6 161.6L1161.6 161.6L1161.6 176.4L1162.6 176.4L1162.6 176.4L1163.6 176.4L1163.6 176.4L1164.6 176.4L1164.6 153.08L1165.6 153.08L1165.6 143.5L1166.6 143.5L1166.6 147.02L1167.6 147.02L1167.6 151.57L1168.6 151.57L1168.6 152.57L1169.6 152.57L1169.6 152.82L1170.6 152.82L1170.6 151.41L1171.6 151.41L1171.6 149.5L1172.6 149.5L1172.6 149.35L1173.6 149.35L1173.6 151.34L1174.6 151.34L1174.6 156.01L1175.6 156.01L1175.6 160.88L1176.6 160.88L1176.6 164.43L1177.6 164.43L1177.6 165.24L1178.6 165.24L1178.6 165.3L1179.6 165.3L1179.6 166.59L1180.6 166.59L1180.6 176.4L1181.6 176.4L1181.6 176.4L1182.6 176.4L1182.6 176.4L1183.6 176.4L1183.6 163.15L1184.6 163.15L1184.6 153.84L1185.6 153.84L1185.6 156.36L1186.6 156.36L1186.6 166.61L1187.6 166.61L1187.6 176.4L1188.6 176.4L1188.6 158.8L1189.6 158.8L1189.6 141.57L1190.6 141.57L1190.6 134.26L1191.6 134.26L1191.6 133.5L1192.6 133.5L1192.6 132.27L1193.6 132.27L1193.6 128.57L1194.6 128.57L1194.6 127.7L1195.6 127.7L1195.6 127.66L1196.6 127.66L1196.6 129.1L1197.6 129.1L1197.6 135.17L1198.6 135.17L1198.6 140.14L1199.6 140.14L1199.6 144.37L1200.6 144.37L1200.6 149.71L1201.6 149.71L1201.6 153.04L1202.6 153.04L1202.6 156.16L1203.6 156.16L1203.6 158.05L1204.6 158.05L1204.6 160.85L1205.6 160.85L1205.6 166.66L1206.6 166.66L1206.6 176.4L1207.6 176.4L1207.6 176.4L1208.6 176.4L1208.6 176.4L1209.6 176.4L1209.6 176.4L1210.6 176.4L1210.6 176.4L1211.6 176.4L1211.6 176.4L1212.6 176.4L1212.6 176.4L1213.6 176.4L1213.6 153.85L1214.6 153.85L1214.6 157.22L1215.6 157.22L1215.6 158.65L1216.6 158.65L1216.6 146.32L1217.6 146.32L1217.6 139.84L1218.6 139.84L1218.6 136.99L1219.6 136.99L1219.6 142.74L1220.6 142.74L1220.6 143.4L1221.6 143.4L1221.6 142.61L1222.6 142.61L1222.6 146.35L1223.6 146.35L1223.6 146.15L1224.6 146.15L1224.6 145.22L1225.6 145.22L1225.6 146.17L1226.6 146.17L1226.6 145.22L1227.6 145.22L1227.6 148.69L1228.6 148.69L1228.6 156.93L1229.6 156.93L1229.6 162.03L1230.6 162.03L1230.6 164.04L1231.6 164.04L1231.6 153.94L1232.6 153.94L1232.6 143.18L1233.6 143.18L1233.6 135.78L1234.6 135.78L1234.6 131.82L1235.6 131.82L1235.6 129.21L1236.6 129.21L1236.6 128.67L1237.6 128.67L1237.6 130.68L1238.6 130.68L1238.6 134.55L1239.6 134.55L1239.6 137.19L1240.6 137.19L1240.6 139.04L1241.6 139.04L1241.6 142.42L1242.6 142.42L1242.6 150.79L1243.6 150.79L1243.6 152.81L1244.6 152.81L1244.6 142.92L1245.6 142.92L1245.6 139.59L1246.6 139.59L1246.6 140.43L1247.6 140.43L1247.6 148.01L1248.6 148.01L1248.6 160.39L1249.6 160.39L1249.6 164.25L1250.6 164.25L1250.6 165.93L1251.6 165.93L1251.6 167.35L1252.6 167.35L1252.6 168.59L1253.6 168.59L1253.6 176.4L1254.6 176.4L1254.6 176.4L1255.6 176.4L1255.6 160.26L1256.6 160.26L1256.6 158.01L1257.6 158.01L1257.6 156.79L1258.6 156.79L1258.6 155.53L1259.6 155.53L1259.6 154.46L1260.6 154.46L1260.6 153.72L1261.6 153.72L1261.6 152.57L1262.6 152.57L1262.6 151.13L1263.6 151.13L1263.6 147.05L1264.6 147.05L1264.6 146.23L1265.6 146.23L1265.6 138.91L1266.6 138.91L1266.6 136.29L1267.6 136.29L1267.6 134.48L1268.6 134.48L1268.6 139.1L1269.6 139.1L1269.6 152.97L1270.6 152.97L1270.6 166.6L1271.6 166.6L1271.6 176.4L1272.6 176.4L1272.6 176.4L1273.6 176.4L1273.6 159.75L1274.6 159.75L1274.6 154.06L1275.6 154.06L1275.6 151.73L1276.6 151.73L1276.6 150.51L1277.6 150.51L1277.6 149.16L1278.6 149.16L1278.6 149.16L1279.6 149.16L1279.6 149.86L1280.6 149.86L1280.6 154.32L1281.6 154.32L1281.6 162.57L1282.6 162.57L1282.6 166.47L1283.6 166.47L1283.6 167.91L1284.6 167.91L1284.6 176.4L1285.6 176.4L1285.6 176.4L1286.6 176.4L1286.6 167.78L1287.6 167.78L1287.6 157.66L1288.6 157.66L1288.6 148.08L1289.6 148.08L1289.6 146.11L1290.6 146.11L1290.6 143.03L1291.6 143.03L1291.6 150.14L1292.6 150.14L1292.6 167.67L1293.6 167.67L1293.6 176.4L1294.6 176.4L1294.6 176.4L1295.6 176.4L1295.6 164.93L1296.6 164.93L1296.6 165.68L1297.6 165.68L1297.6 176.4L1298.6 176.4L1298.6 176.4L1299.6 176.4L1299.6 162.67L1300.6 162.67L1300.6 162.06L1301.6 162.06L1301.6 165.98L1302.6 165.98L1302.6 152.09L1303.6 152.09L1303.6 136.82L1304.6 136.82L1304.6 131.44L1305.6 131.44L1305.6 141.53L1306.6 141.53L1306.6 146.56L1307.6 146.56L1307.6 143.59L1308.6 143.59L1308.6 146.92L1309.6 146.92L1309.6 159.23L1310.6 159.23L1310.6 150.74L1311.6 150.74L1311.6 144.71L1312.6 144.71L1312.6 145.33L1313.6 145.33L1313.6 147.11L1314.6 147.11L1314.6 147.91L1315.6 147.91L1315.6 147.17L1316.6 147.17L1316.6 147.28L1317.6 147.28L1317.6 148.96L1318.6 148.96L1318.6 150.22L1319.6 150.22L1319.6 150.75L1320.6 150.75L1320.6 149.74L1321.6 149.74L1321.6 150.24L1322.6 150.24L1322.6 155.24L1323.6 155.24L1323.6 168.01L1324.6 168.01L1324.6 176.4L1325.6 176.4L1325.6 166.66L1326.6 166.66L1326.6 163.22L1327.6 163.22L1327.6 158.55L1328.6 158.55L1328.6 153.85L1329.6 153.85L1329.6 153.21L1330.6 153.21L1330.6 149.27L1331.6 149.27L1331.6 148.64L1332.6 148.64L1332.6 148.09L1333.6 148.09L1333.6 149.19L1334.6 149.19L1334.6 154.09L1335.6 154.09L1335.6 162.9L1336.6 162.9L1336.6 176.4L1337.6 176.4L1337.6 176.4L1338.6 176.4L1338.6 176.4L1339.6 176.4L1339.6 176.4L1340.6 176.4L1340.6 168.79L1341.6 168.79L1341.6 167.03L1342.6 167.03L1342.6 163.08L1343.6 163.08L1343.6 157.04L1344.6 157.04L1344.6 150.73L1345.6 150.73L1345.6 149.93L1346.6 149.93L1346.6 152.85L1347.6 152.85L1347.6 158.15L1348.6 158.15L1348.6 167.22L1349.6 167.22L1349.6 176.4L1350.6 176.4L1350.6 176.4L1351.6 176.4L1351.6 167.85L1352.6 167.85L1352.6 173.79L1353.6 173.79L1353.6 173.54L1354.6 173.54L1354.6 173.51L1355.6 173.51L1355.6 173.39L1356.6 173.39L1356.6 173.28L1357.6 173.28L1357.6 176.4L1358.6 176.4L1358.6 176.4L1359.6 176.4L1359.6 176.4L1360.6 176.4L1360.6 168.6L1361.6 168.6L1361.6 176.4L1362.6 176.4L1362.6 176.4L1363.6 176.4L1363.6 177.8L1362.6 177.8L1362.6 177.8L1361.6 177.8L1361.6 186.11L1360.6 186.11L1360.6 177.8L1359.6 177.8L1359.6 177.8L1358.6 177.8L1358.6 177.8L1357.6 177.8L1357.6 180.57L1356.6 180.57L1356.6 181.06L1355.6 181.06L1355.6 180.82L1354.6 180.82L1354.6 180.77L1353.6 180.77L1353.6 180.31L1352.6 180.31L1352.6 177.8L1351.6 177.8L1351.6 177.8L1350.6 177.8L1350.6 177.8L1349.6 177.8L1349.6 190.95L1348.6 190.95L1348.6 200.16L1347.6 200.16L1347.6 203.67L1346.6 203.67L1346.6 205L1345.6 205L1345.6 205.42L1344.6 205.42L1344.6 199.67L1343.6 199.67L1343.6 191.69L1342.6 191.69L1342.6 187.17L1341.6 187.17L1341.6 185.05L1340.6 185.05L1340.6 177.8L1339.6 177.8L1339.6 177.8L1338.6 177.8L1338.6 177.8L1337.6 177.8L1337.6 185.08L1336.6 185.08L1336.6 190.82L1335.6 190.82L1335.6 201.03L1334.6 201.03L1334.6 209.37L1333.6 209.37L1333.6 213.06L1332.6 213.06L1332.6 211.12L1331.6 211.12L1331.6 211.49L1330.6 211.49L1330.6 206.05L1329.6 206.05L1329.6 200.28L1328.6 200.28L1328.6 192.39L1327.6 192.39L1327.6 189.91L1326.6 189.91L1326.6 191.29L1325.6 191.29L1325.6 177.8L1324.6 177.8L1324.6 188.03L1323.6 188.03L1323.6 195.22L1322.6 195.22L1322.6 204.54L1321.6 204.54L1321.6 207.87L1320.6 207.87L1320.6 207.73L1319.6 207.73L1319.6 213.46L1318.6 213.46L1318.6 213.5L1317.6 213.5L1317.6 216.17L1316.6 216.17L1316.6 220.5L1315.6 220.5L1315.6 220.6L1314.6 220.6L1314.6 219.7L1313.6 219.7L1313.6 217.65L1312.6 217.65L1312.6 213.61L1311.6 213.61L1311.6 205.2L1310.6 205.2L1310.6 192.26L1309.6 192.26L1309.6 202.71L1308.6 202.71L1308.6 213.45L1307.6 213.45L1307.6 215.03L1306.6 215.03L1306.6 216.88L1305.6 216.88L1305.6 215.97L1304.6 215.97L1304.6 209.86L1303.6 209.86L1303.6 198.26L1302.6 198.26L1302.6 187.55L1301.6 187.55L1301.6 177.8L1300.6 177.8L1300.6 185.11L1299.6 185.11L1299.6 177.8L1298.6 177.8L1298.6 177.8L1297.6 177.8L1297.6 188.79L1296.6 188.79L1296.6 189.68L1295.6 189.68L1295.6 185.19L1294.6 185.19L1294.6 185.34L1293.6 185.34L1293.6 189.55L1292.6 189.55L1292.6 215.09L1291.6 215.09L1291.6 223.78L1290.6 223.78L1290.6 216.02L1289.6 216.02L1289.6 204.92L1288.6 204.92L1288.6 193.61L1287.6 193.61L1287.6 186.08L1286.6 186.08L1286.6 177.8L1285.6 177.8L1285.6 185.54L1284.6 185.54L1284.6 187.79L1283.6 187.79L1283.6 190.83L1282.6 190.83L1282.6 198.08L1281.6 198.08L1281.6 207.56L1280.6 207.56L1280.6 215.99L1279.6 215.99L1279.6 216.59L1278.6 216.59L1278.6 215.24L1277.6 215.24L1277.6 211.65L1276.6 211.65L1276.6 203.24L1275.6 203.24L1275.6 199.24L1274.6 199.24L1274.6 191.89L1273.6 191.89L1273.6 177.8L1272.6 177.8L1272.6 177.8L1271.6 177.8L1271.6 188.59L1270.6 188.59L1270.6 200.93L1269.6 200.93L1269.6 212.59L1268.6 212.59L1268.6 220.77L1267.6 220.77L1267.6 219.86L1266.6 219.86L1266.6 217.82L1265.6 217.82L1265.6 217.71L1264.6 217.71L1264.6 215.13L1263.6 215.13L1263.6 213.08L1262.6 213.08L1262.6 211.8L1261.6 211.8L1261.6 207.94L1260.6 207.94L1260.6 204.8L1259.6 204.8L1259.6 199.55L1258.6 199.55L1258.6 195.24L1257.6 195.24L1257.6 191.99L1256.6 191.99L1256.6 189.08L1255.6 189.08L1255.6 177.8L1254.6 177.8L1254.6 177.8L1253.6 177.8L1253.6 177.8L1252.6 177.8L1252.6 186.98L1251.6 186.98L1251.6 188.17L1250.6 188.17L1250.6 189.84L1249.6 189.84L1249.6 193.44L1248.6 193.44L1248.6 204.65L1247.6 204.65L1247.6 219.44L1246.6 219.44L1246.6 219.69L1245.6 219.69L1245.6 214.36L1244.6 214.36L1244.6 201.78L1243.6 201.78L1243.6 203.27L1242.6 203.27L1242.6 211.47L1241.6 211.47L1241.6 217.26L1240.6 217.26L1240.6 214.85L1239.6 214.85L1239.6 215.41L1238.6 215.41L1238.6 217.77L1237.6 217.77L1237.6 219.67L1236.6 219.67L1236.6 223.14L1235.6 223.14L1235.6 224.17L1234.6 224.17L1234.6 217.53L1233.6 217.53L1233.6 205.55L1232.6 205.55L1232.6 195.61L1231.6 195.61L1231.6 188.13L1230.6 188.13L1230.6 190.3L1229.6 190.3L1229.6 195.21L1228.6 195.21L1228.6 200.51L1227.6 200.51L1227.6 205.56L1226.6 205.56L1226.6 210.28L1225.6 210.28L1225.6 213.29L1224.6 213.29L1224.6 217.47L1223.6 217.47L1223.6 219.38L1222.6 219.38L1222.6 224.83L1221.6 224.83L1221.6 220.46L1220.6 220.46L1220.6 216.73L1219.6 216.73L1219.6 212.41L1218.6 212.41L1218.6 206.98L1217.6 206.98L1217.6 198.39L1216.6 198.39L1216.6 189.79L1215.6 189.79L1215.6 193.51L1214.6 193.51L1214.6 192.75L1213.6 192.75L1213.6 177.8L1212.6 177.8L1212.6 177.8L1211.6 177.8L1211.6 177.8L1210.6 177.8L1210.6 177.8L1209.6 177.8L1209.6 177.8L1208.6 177.8L1208.6 177.8L1207.6 177.8L1207.6 177.8L1206.6 177.8L1206.6 186.21L1205.6 186.21L1205.6 191.42L1204.6 191.42L1204.6 196.2L1203.6 196.2L1203.6 201.26L1202.6 201.26L1202.6 205.59L1201.6 205.59L1201.6 211.25L1200.6 211.25L1200.6 216.03L1199.6 216.03L1199.6 219.09L1198.6 219.09L1198.6 222.52L1197.6 222.52L1197.6 225L1196.6 225L1196.6 224.22L1195.6 224.22L1195.6 222.03L1194.6 222.03L1194.6 219.15L1193.6 219.15L1193.6 216.16L1192.6 216.16L1192.6 212.13L1191.6 212.13L1191.6 207.46L1190.6 207.46L1190.6 202.14L1189.6 202.14L1189.6 192.43L1188.6 192.43L1188.6 177.8L1187.6 177.8L1187.6 186.86L1186.6 186.86L1186.6 199.46L1185.6 199.46L1185.6 204.25L1184.6 204.25L1184.6 190.64L1183.6 190.64L1183.6 177.8L1182.6 177.8L1182.6 177.8L1181.6 177.8L1181.6 185.63L1180.6 185.63L1180.6 188.56L1179.6 188.56L1179.6 189.85L1178.6 189.85L1178.6 190.89L1177.6 190.89L1177.6 193.35L1176.6 193.35L1176.6 198.91L1175.6 198.91L1175.6 205.48L1174.6 205.48L1174.6 210.69L1173.6 210.69L1173.6 207.27L1172.6 207.27L1172.6 209.18L1171.6 209.18L1171.6 206.62L1170.6 206.62L1170.6 205.65L1169.6 205.65L1169.6 204.38L1168.6 204.38L1168.6 205.54L1167.6 205.54L1167.6 204.12L1166.6 204.12L1166.6 200.24L1165.6 200.24L1165.6 197.56L1164.6 197.56L1164.6 177.8L1163.6 177.8L1163.6 177.8L1162.6 177.8L1162.6 177.8L1161.6 177.8L1161.6 201.6L1160.6 201.6L1160.6 216.18L1159.6 216.18L1159.6 214.73L1158.6 214.73L1158.6 213.74L1157.6 213.74L1157.6 212.85L1156.6 212.85L1156.6 205.8L1155.6 205.8L1155.6 190.06L1154.6 190.06L1154.6 214.15L1153.6 214.15L1153.6 214.9L1152.6 214.9L1152.6 211.25L1151.6 211.25L1151.6 206.79L1150.6 206.79L1150.6 201.32L1149.6 201.32L1149.6 197.27L1148.6 197.27L1148.6 196.94L1147.6 196.94L1147.6 194.36L1146.6 194.36L1146.6 184.58L1145.6 184.58L1145.6 190.55L1144.6 190.55L1144.6 204.9L1143.6 204.9L1143.6 204.77L1142.6 204.77L1142.6 200.16L1141.6 200.16L1141.6 203.69L1140.6 203.69L1140.6 203.49L1139.6 203.49L1139.6 206.99L1138.6 206.99L1138.6 202.96L1137.6 202.96L1137.6 206.84L1136.6 206.84L1136.6 205.65L1135.6 205.65L1135.6 201.13L1134.6 201.13L1134.6 215.35L1133.6 215.35L1133.6 219.59L1132.6 219.59L1132.6 221.81L1131.6 221.81L1131.6 217.88L1130.6 217.88L1130.6 185.16L1129.6 185.16L1129.6 177.8L1128.6 177.8L1128.6 177.8L1127.6 177.8L1127.6 177.8L1126.6 177.8L1126.6 177.8L1125.6 177.8L1125.6 177.8L1124.6 177.8L1124.6 177.8L1123.6 177.8L1123.6 177.8L1122.6 177.8L1122.6 177.8L1121.6 177.8L1121.6 177.8L1120.6 177.8L1120.6 177.8L1119.6 177.8L1119.6 177.8L1118.6 177.8L1118.6 177.8L1117.6 177.8L1117.6 177.8L1116.6 177.8L1116.6 177.8L1115.6 177.8L1115.6 177.8L1114.6 177.8L1114.6 177.8L1113.6 177.8L1113.6 177.8L1112.6 177.8L1112.6 177.8L1111.6 177.8L1111.6 177.8L1110.6 177.8L1110.6 177.8L1109.6 177.8L1109.6 177.8L1108.6 177.8L1108.6 177.8L1107.6 177.8L1107.6 177.8L1106.6 177.8L1106.6 177.8L1105.6 177.8L1105.6 177.8L1104.6 177.8L1104.6 177.8L1103.6 177.8L1103.6 177.8L1102.6 177.8L1102.6 177.8L1101.6 177.8L1101.6 177.8L1100.6 177.8L1100.6 177.8L1099.6 177.8L1099.6 177.8L1098.6 177.8L1098.6 177.8L1097.6 177.8L1097.6 177.8L1096.6 177.8L1096.6 177.8L1095.6 177.8L1095.6 177.8L1094.6 177.8L1094.6 177.8L1093.6 177.8L1093.6 177.8L1092.6 177.8L1092.6 177.8L1091.6 177.8L1091.6 196.99L1090.6 196.99L1090.6 206.27L1089.6 206.27L1089.6 206.98L1088.6 206.98L1088.6 207.92L1087.6 207.92L1087.6 209.3L1086.6 209.3L1086.6 209.54L1085.6 209.54L1085.6 210.48L1084.6 210.48L1084.6 211.52L1083.6 211.52L1083.6 211.52L1082.6 211.52L1082.6 212.39L1081.6 212.39L1081.6 214.21L1080.6 214.21L1080.6 215.86L1079.6 215.86L1079.6 216.58L1078.6 216.58L1078.6 218.57L1077.6 218.57L1077.6 215.37L1076.6 215.37L1076.6 207.22L1075.6 207.22L1075.6 205.53L1074.6 205.53L1074.6 195.71L1073.6 195.71L1073.6 194.78L1072.6 194.78L1072.6 208.24L1071.6 208.24L1071.6 220.65L1070.6 220.65L1070.6 223.28L1069.6 223.28L1069.6 226.09L1068.6 226.09L1068.6 231.65L1067.6 231.65L1067.6 230.12L1066.6 230.12L1066.6 225.72L1065.6 225.72L1065.6 214.38L1064.6 214.38L1064.6 197.57L1063.6 197.57L1063.6 209.98L1062.6 209.98L1062.6 218.92L1061.6 218.92L1061.6 226.93L1060.6 226.93L1060.6 225.61L1059.6 225.61L1059.6 220.56L1058.6 220.56L1058.6 212.74L1057.6 212.74L1057.6 199.54L1056.6 199.54L1056.6 187.32L1055.6 187.32L1055.6 177.8L1054.6 177.8L1054.6 177.8L1053.6 177.8L1053.6 186.15L1052.6 186.15L1052.6 188.6L1051.6 188.6L1051.6 191.67L1050.6 191.67L1050.6 193.41L1049.6 193.41L1049.6 199.91L1048.6 199.91L1048.6 211.29L1047.6 211.29L1047.6 230.72L1046.6 230.72L1046.6 238.63L1045.6 238.63L1045.6 235.43L1044.6 235.43L1044.6 210.75L1043.6 210.75L1043.6 213.21L1042.6 213.21L1042.6 252.4L1041.6 252.4L1041.6 259.28L1040.6 259.28L1040.6 253.64L1039.6 253.64L1039.6 236.2L1038.6 236.2L1038.6 214.29L1037.6 214.29L1037.6 221.73L1036.6 221.73L1036.6 235.08L1035.6 235.08L1035.6 241.18L1034.6 241.18L1034.6 244.4L1033.6 244.4L1033.6 249.92L1032.6 249.92L1032.6 258.42L1031.6 258.42L1031.6 255.22L1030.6 255.22L1030.6 239.34L1029.6 239.34L1029.6 199.59L1028.6 199.59L1028.6 203.17L1027.6 203.17L1027.6 225.19L1026.6 225.19L1026.6 241.25L1025.6 241.25L1025.6 249.97L1024.6 249.97L1024.6 254.66L1023.6 254.66L1023.6 253.86L1022.6 253.86L1022.6 238.31L1021.6 238.31L1021.6 228.88L1020.6 228.88L1020.6 230.32L1019.6 230.32L1019.6 236L1018.6 236L1018.6 246.55L1017.6 246.55L1017.6 246.71L1016.6 246.71L1016.6 244.78L1015.6 244.78L1015.6 242.09L1014.6 242.09L1014.6 235.61L1013.6 235.61L1013.6 217.76L1012.6 217.76L1012.6 187.28L1011.6 187.28L1011.6 193.26L1010.6 193.26L1010.6 211.9L1009.6 211.9L1009.6 225.64L1008.6 225.64L1008.6 235.29L1007.6 235.29L1007.6 238.04L1006.6 238.04L1006.6 232.87L1005.6 232.87L1005.6 231.83L1004.6 231.83L1004.6 230.82L1003.6 230.82L1003.6 222.63L1002.6 222.63L1002.6 201.96L1001.6 201.96L1001.6 193.77L1000.6 193.77L1000.6 204.42L999.6 204.42L999.6 220.76L998.6 220.76L998.6 238.34L997.6 238.34L997.6 252.45L996.6 252.45L996.6 255.54L995.6 255.54L995.6 252.34L994.6 252.34L994.6 243.59L993.6 243.59L993.6 247.05L992.6 247.05L992.6 241.4L991.6 241.4L991.6 241.52L990.6 241.52L990.6 248.96L989.6 248.96L989.6 245.74L988.6 245.74L988.6 257.55L987.6 257.55L987.6 257.06L986.6 257.06L986.6 249.22L985.6 249.22L985.6 234.45L984.6 234.45L984.6 221.37L983.6 221.37L983.6 212.74L982.6 212.74L982.6 205.73L981.6 205.73L981.6 191.95L980.6 191.95L980.6 177.8L979.6 177.8L979.6 177.8L978.6 177.8L978.6 187.1L977.6 187.1L977.6 190.07L976.6 190.07L976.6 193.27L975.6 193.27L975.6 203.6L974.6 203.6L974.6 222.87L973.6 222.87L973.6 240.09L972.6 240.09L972.6 237.92L971.6 237.92L971.6 241.25L970.6 241.25L970.6 225.27L969.6 225.27L969.6 209.85L968.6 209.85L968.6 201.24L967.6 201.24L967.6 206.7L966.6 206.7L966.6 214.7L965.6 214.7L965.6 220.79L964.6 220.79L964.6 217.77L963.6 217.77L963.6 207.62L962.6 207.62L962.6 196.73L961.6 196.73L961.6 196.97L960.6 196.97L960.6 196.02L959.6 196.02L959.6 193.17L958.6 193.17L958.6 210.78L957.6 210.78L957.6 232.72L956.6 232.72L956.6 241.18L955.6 241.18L955.6 236.07L954.6 236.07L954.6 228.03L953.6 228.03L953.6 218.43L952.6 218.43L952.6 208.33L951.6 208.33L951.6 198.65L950.6 198.65L950.6 190.44L949.6 190.44L949.6 192.24L948.6 192.24L948.6 191.66L947.6 191.66L947.6 211.95L946.6 211.95L946.6 231.88L945.6 231.88L945.6 246.06L944.6 246.06L944.6 260.78L943.6 260.78L943.6 266.52L942.6 266.52L942.6 262.23L941.6 262.23L941.6 255.93L940.6 255.93L940.6 205.86L939.6 205.86L939.6 204.48L938.6 204.48L938.6 196.5L937.6 196.5L937.6 193.19L936.6 193.19L936.6 206.74L935.6 206.74L935.6 208.97L934.6 208.97L934.6 217.59L933.6 217.59L933.6 239.59L932.6 239.59L932.6 253.5L931.6 253.5L931.6 261.18L930.6 261.18L930.6 249.08L929.6 249.08L929.6 242.25L928.6 242.25L928.6 255.47L927.6 255.47L927.6 263.16L926.6 263.16L926.6 268.01L925.6 268.01L925.6 270.26L924.6 270.26L924.6 265.74L923.6 265.74L923.6 256.03L922.6 256.03L922.6 252.13L921.6 252.13L921.6 227.49L920.6 227.49L920.6 248.44L919.6 248.44L919.6 254.67L918.6 254.67L918.6 259.73L917.6 259.73L917.6 269.6L916.6 269.6L916.6 267.34L915.6 267.34L915.6 269.82L914.6 269.82L914.6 276.72L913.6 276.72L913.6 273.73L912.6 273.73L912.6 252.71L911.6 252.71L911.6 258.02L910.6 258.02L910.6 267.47L909.6 267.47L909.6 284.5L908.6 284.5L908.6 283.95L907.6 283.95L907.6 277.48L906.6 277.48L906.6 273.55L905.6 273.55L905.6 269.46L904.6 269.46L904.6 260.21L903.6 260.21L903.6 235.73L902.6 235.73L902.6 209.12L901.6 209.12L901.6 214.98L900.6 214.98L900.6 215.81L899.6 215.81L899.6 198.52L898.6 198.52L898.6 177.8L897.6 177.8L897.6 177.8L896.6 177.8L896.6 177.8L895.6 177.8L895.6 177.8L894.6 177.8L894.6 177.8L893.6 177.8L893.6 177.8L892.6 177.8L892.6 177.8L891.6 177.8L891.6 177.8L890.6 177.8L890.6 177.8L889.6 177.8L889.6 177.8L888.6 177.8L888.6 177.8L887.6 177.8L887.6 179.71L886.6 179.71L886.6 179.88L885.6 179.88L885.6 180.06L884.6 180.06L884.6 180.39L883.6 180.39L883.6 180.73L882.6 180.73L882.6 181.4L881.6 181.4L881.6 182.07L880.6 182.07L880.6 182.42L879.6 182.42L879.6 182.76L878.6 182.76L878.6 183.09L877.6 183.09L877.6 183.42L876.6 183.42L876.6 183.38L875.6 183.38L875.6 183.04L874.6 183.04L874.6 182.52L873.6 182.52L873.6 181.52L872.6 181.52L872.6 180.62L871.6 180.62L871.6 180.12L870.6 180.12L870.6 179.62L869.6 179.62L869.6 177.8L868.6 177.8L868.6 179.75L867.6 179.75L867.6 179.97L866.6 179.97L866.6 190.05L865.6 190.05L865.6 210.14L864.6 210.14L864.6 227.42L863.6 227.42L863.6 232.05L862.6 232.05L862.6 238.9L861.6 238.9L861.6 226.2L860.6 226.2L860.6 215.5L859.6 215.5L859.6 209.35L858.6 209.35L858.6 218.42L857.6 218.42L857.6 227.57L856.6 227.57L856.6 245.98L855.6 245.98L855.6 253.3L854.6 253.3L854.6 239L853.6 239L853.6 210.52L852.6 210.52L852.6 187.09L851.6 187.09L851.6 185.48L850.6 185.48L850.6 186.6L849.6 186.6L849.6 190.04L848.6 190.04L848.6 203.92L847.6 203.92L847.6 211.79L846.6 211.79L846.6 219.03L845.6 219.03L845.6 224.06L844.6 224.06L844.6 219.47L843.6 219.47L843.6 215.77L842.6 215.77L842.6 209.02L841.6 209.02L841.6 196.78L840.6 196.78L840.6 195.89L839.6 195.89L839.6 202.43L838.6 202.43L838.6 193.11L837.6 193.11L837.6 205.26L836.6 205.26L836.6 243.78L835.6 243.78L835.6 254.13L834.6 254.13L834.6 250.02L833.6 250.02L833.6 236.65L832.6 236.65L832.6 224.8L831.6 224.8L831.6 220.31L830.6 220.31L830.6 216.47L829.6 216.47L829.6 207.46L828.6 207.46L828.6 198.26L827.6 198.26L827.6 188.67L826.6 188.67L826.6 196.94L825.6 196.94L825.6 212.14L824.6 212.14L824.6 223.47L823.6 223.47L823.6 228.56L822.6 228.56L822.6 228.66L821.6 228.66L821.6 222.15L820.6 222.15L820.6 219.11L819.6 219.11L819.6 215.89L818.6 215.89L818.6 210.6L817.6 210.6L817.6 203.3L816.6 203.3L816.6 194.78L815.6 194.78L815.6 206.5L814.6 206.5L814.6 221.59L813.6 221.59L813.6 224.07L812.6 224.07L812.6 223.18L811.6 223.18L811.6 215.2L810.6 215.2L810.6 191.63L809.6 191.63L809.6 177.8L808.6 177.8L808.6 177.8L807.6 177.8L807.6 201.51L806.6 201.51L806.6 225.63L805.6 225.63L805.6 234.62L804.6 234.62L804.6 245.65L803.6 245.65L803.6 248.01L802.6 248.01L802.6 243.81L801.6 243.81L801.6 239.05L800.6 239.05L800.6 235.3L799.6 235.3L799.6 234.59L798.6 234.59L798.6 228.4L797.6 228.4L797.6 210.57L796.6 210.57L796.6 189.16L795.6 189.16L795.6 213.72L794.6 213.72L794.6 224.6L793.6 224.6L793.6 226.86L792.6 226.86L792.6 229.41L791.6 229.41L791.6 226.74L790.6 226.74L790.6 218.84L789.6 218.84L789.6 210.66L788.6 210.66L788.6 216.73L787.6 216.73L787.6 215.68L786.6 215.68L786.6 214.69L785.6 214.69L785.6 202.01L784.6 202.01L784.6 207.81L783.6 207.81L783.6 205.27L782.6 205.27L782.6 198.22L781.6 198.22L781.6 190.61L780.6 190.61L780.6 187.7L779.6 187.7L779.6 206.01L778.6 206.01L778.6 225.37L777.6 225.37L777.6 232.14L776.6 232.14L776.6 232.88L775.6 232.88L775.6 228.51L774.6 228.51L774.6 222.8L773.6 222.8L773.6 232.62L772.6 232.62L772.6 233.29L771.6 233.29L771.6 232.68L770.6 232.68L770.6 213.4L769.6 213.4L769.6 194.35L768.6 194.35L768.6 186.05L767.6 186.05L767.6 177.8L766.6 177.8L766.6 177.8L765.6 177.8L765.6 177.8L764.6 177.8L764.6 185.46L763.6 185.46L763.6 188.38L762.6 188.38L762.6 199.39L761.6 199.39L761.6 222.32L760.6 222.32L760.6 235.46L759.6 235.46L759.6 234.12L758.6 234.12L758.6 226.6L757.6 226.6L757.6 213.37L756.6 213.37L756.6 199.47L755.6 199.47L755.6 186.97L754.6 186.97L754.6 177.8L753.6 177.8L753.6 177.8L752.6 177.8L752.6 185.8L751.6 185.8L751.6 189.91L750.6 189.91L750.6 197.17L749.6 197.17L749.6 212.26L748.6 212.26L748.6 228.46L747.6 228.46L747.6 237.9L746.6 237.9L746.6 236.78L745.6 236.78L745.6 232.06L744.6 232.06L744.6 220.41L743.6 220.41L743.6 197.49L742.6 197.49L742.6 198.09L741.6 198.09L741.6 228.04L740.6 228.04L740.6 243.11L739.6 243.11L739.6 246.39L738.6 246.39L738.6 244.71L737.6 244.71L737.6 243.52L736.6 243.52L736.6 243.89L735.6 243.89L735.6 227.82L734.6 227.82L734.6 217.37L733.6 217.37L733.6 231.28L732.6 231.28L732.6 239.3L731.6 239.3L731.6 242.74L730.6 242.74L730.6 246.72L729.6 246.72L729.6 247.2L728.6 247.2L728.6 247.57L727.6 247.57L727.6 234.62L726.6 234.62L726.6 225.01L725.6 225.01L725.6 216.85L724.6 216.85L724.6 210.41L723.6 210.41L723.6 202.68L722.6 202.68L722.6 192.4L721.6 192.4L721.6 185.24L720.6 185.24L720.6 185.2L719.6 185.2L719.6 185.82L718.6 185.82L718.6 190.82L717.6 190.82L717.6 202.89L716.6 202.89L716.6 215.05L715.6 215.05L715.6 225.9L714.6 225.9L714.6 226.13L713.6 226.13L713.6 227.36L712.6 227.36L712.6 229.43L711.6 229.43L711.6 226.09L710.6 226.09L710.6 214.8L709.6 214.8L709.6 204.47L708.6 204.47L708.6 216.68L707.6 216.68L707.6 225.56L706.6 225.56L706.6 229.61L705.6 229.61L705.6 232.32L704.6 232.32L704.6 230.42L703.6 230.42L703.6 227.78L702.6 227.78L702.6 235.78L701.6 235.78L701.6 237.85L700.6 237.85L700.6 230.71L699.6 230.71L699.6 220.03L698.6 220.03L698.6 210.02L697.6 210.02L697.6 200.39L696.6 200.39L696.6 204.89L695.6 204.89L695.6 211.15L694.6 211.15L694.6 215.51L693.6 215.51L693.6 218.59L692.6 218.59L692.6 224.42L691.6 224.42L691.6 225.54L690.6 225.54L690.6 237.01L689.6 237.01L689.6 232.12L688.6 232.12L688.6 214.68L687.6 214.68L687.6 196.2L686.6 196.2L686.6 229.19L685.6 229.19L685.6 249.2L684.6 249.2L684.6 258.22L683.6 258.22L683.6 257.43L682.6 257.43L682.6 248.09L681.6 248.09L681.6 228.13L680.6 228.13L680.6 228.01L679.6 228.01L679.6 229.01L678.6 229.01L678.6 241.21L677.6 241.21L677.6 245.41L676.6 245.41L676.6 243.86L675.6 243.86L675.6 241.85L674.6 241.85L674.6 238.99L673.6 238.99L673.6 230.59L672.6 230.59L672.6 220.67L671.6 220.67L671.6 231.5L670.6 231.5L670.6 237.93L669.6 237.93L669.6 241.61L668.6 241.61L668.6 239.07L667.6 239.07L667.6 240.7L666.6 240.7L666.6 244.96L665.6 244.96L665.6 239.36L664.6 239.36L664.6 233.86L663.6 233.86L663.6 230.22L662.6 230.22L662.6 228.02L661.6 228.02L661.6 226.2L660.6 226.2L660.6 223.14L659.6 223.14L659.6 220.15L658.6 220.15L658.6 218.59L657.6 218.59L657.6 227.23L656.6 227.23L656.6 232.01L655.6 232.01L655.6 234.62L654.6 234.62L654.6 237.95L653.6 237.95L653.6 244.36L652.6 244.36L652.6 247.19L651.6 247.19L651.6 234.8L650.6 234.8L650.6 219.04L649.6 219.04L649.6 203.15L648.6 203.15L648.6 193.76L647.6 193.76L647.6 187.69L646.6 187.69L646.6 177.8L645.6 177.8L645.6 192.51L644.6 192.51L644.6 216.16L643.6 216.16L643.6 220.08L642.6 220.08L642.6 218.91L641.6 218.91L641.6 212.41L640.6 212.41L640.6 214.38L639.6 214.38L639.6 239.64L638.6 239.64L638.6 252.94L637.6 252.94L637.6 251.99L636.6 251.99L636.6 255.75L635.6 255.75L635.6 242.43L634.6 242.43L634.6 240.73L633.6 240.73L633.6 248.19L632.6 248.19L632.6 241.38L631.6 241.38L631.6 222.01L630.6 222.01L630.6 214.32L629.6 214.32L629.6 204.75L628.6 204.75L628.6 208.19L627.6 208.19L627.6 214.69L626.6 214.69L626.6 228.06L625.6 228.06L625.6 236.86L624.6 236.86L624.6 237.25L623.6 237.25L623.6 230.43L622.6 230.43L622.6 216.1L621.6 216.1L621.6 216.06L620.6 216.06L620.6 219.04L619.6 219.04L619.6 223.69L618.6 223.69L618.6 227.51L617.6 227.51L617.6 231.71L616.6 231.71L616.6 230.28L615.6 230.28L615.6 229.26L614.6 229.26L614.6 229.6L613.6 229.6L613.6 231.11L612.6 231.11L612.6 230.78L611.6 230.78L611.6 227.12L610.6 227.12L610.6 225L609.6 225L609.6 249.5L608.6 249.5L608.6 246.08L607.6 246.08L607.6 237.3L606.6 237.3L606.6 226.03L605.6 226.03L605.6 247.91L604.6 247.91L604.6 253.62L603.6 253.62L603.6 246.65L602.6 246.65L602.6 238.46L601.6 238.46L601.6 232.72L600.6 232.72L600.6 236.71L599.6 236.71L599.6 248.12L598.6 248.12L598.6 244.3L597.6 244.3L597.6 225.74L596.6 225.74L596.6 201.16L595.6 201.16L595.6 193.55L594.6 193.55L594.6 196.39L593.6 196.39L593.6 200.74L592.6 200.74L592.6 191.24L591.6 191.24L591.6 177.8L590.6 177.8L590.6 177.8L589.6 177.8L589.6 177.8L588.6 177.8L588.6 177.8L587.6 177.8L587.6 177.8L586.6 177.8L586.6 177.8L585.6 177.8L585.6 177.8L584.6 177.8L584.6 177.8L583.6 177.8L583.6 177.8L582.6 177.8L582.6 177.8L581.6 177.8L581.6 177.8L580.6 177.8L580.6 177.8L579.6 177.8L579.6 177.8L578.6 177.8L578.6 177.8L577.6 177.8L577.6 177.8L576.6 177.8L576.6 177.8L575.6 177.8L575.6 177.8L574.6 177.8L574.6 177.8L573.6 177.8L573.6 177.8L572.6 177.8L572.6 177.8L571.6 177.8L571.6 177.8L570.6 177.8L570.6 177.8L569.6 177.8L569.6 177.8L568.6 177.8L568.6 177.8L567.6 177.8L567.6 177.8L566.6 177.8L566.6 177.8L565.6 177.8L565.6 177.8L564.6 177.8L564.6 177.8L563.6 177.8L563.6 177.8L562.6 177.8L562.6 177.8L561.6 177.8L561.6 177.8L560.6 177.8L560.6 177.8L559.6 177.8L559.6 177.8L558.6 177.8L558.6 177.8L557.6 177.8L557.6 177.8L556.6 177.8L556.6 177.8L555.6 177.8L555.6 177.8L554.6 177.8L554.6 177.8L553.6 177.8L553.6 177.8L552.6 177.8L552.6 177.8L551.6 177.8L551.6 177.8L550.6 177.8L550.6 177.8L549.6 177.8L549.6 192.7L548.6 192.7L548.6 208.13L547.6 208.13L547.6 230.1L546.6 230.1L546.6 247.74L545.6 247.74L545.6 247.69L544.6 247.69L544.6 253.54L543.6 253.54L543.6 250.91L542.6 250.91L542.6 246.11L541.6 246.11L541.6 247.92L540.6 247.92L540.6 252.02L539.6 252.02L539.6 245.77L538.6 245.77L538.6 207.15L537.6 207.15L537.6 177.8L536.6 177.8L536.6 177.8L535.6 177.8L535.6 177.8L534.6 177.8L534.6 177.8L533.6 177.8L533.6 189.17L532.6 189.17L532.6 210.76L531.6 210.76L531.6 215.11L530.6 215.11L530.6 215.95L529.6 215.95L529.6 220.5L528.6 220.5L528.6 224.99L527.6 224.99L527.6 220.68L526.6 220.68L526.6 220.91L525.6 220.91L525.6 223.6L524.6 223.6L524.6 219.09L523.6 219.09L523.6 211.43L522.6 211.43L522.6 215.06L521.6 215.06L521.6 216.52L520.6 216.52L520.6 219.23L519.6 219.23L519.6 220.09L518.6 220.09L518.6 219.77L517.6 219.77L517.6 220.82L516.6 220.82L516.6 214.58L515.6 214.58L515.6 215.19L514.6 215.19L514.6 218.02L513.6 218.02L513.6 217.57L512.6 217.57L512.6 213.77L511.6 213.77L511.6 210.38L510.6 210.38L510.6 202.75L509.6 202.75L509.6 192.59L508.6 192.59L508.6 216.54L507.6 216.54L507.6 239.65L506.6 239.65L506.6 239.54L505.6 239.54L505.6 225.86L504.6 225.86L504.6 199.87L503.6 199.87L503.6 189.04L502.6 189.04L502.6 188.69L501.6 188.69L501.6 187.29L500.6 187.29L500.6 195.01L499.6 195.01L499.6 212.62L498.6 212.62L498.6 240.86L497.6 240.86L497.6 248.95L496.6 248.95L496.6 244.61L495.6 244.61L495.6 224.02L494.6 224.02L494.6 195.28L493.6 195.28L493.6 230.22L492.6 230.22L492.6 236.16L491.6 236.16L491.6 233.06L490.6 233.06L490.6 222.92L489.6 222.92L489.6 205.26L488.6 205.26L488.6 177.8L487.6 177.8L487.6 213.72L486.6 213.72L486.6 220.7L485.6 220.7L485.6 222.17L484.6 222.17L484.6 210.87L483.6 210.87L483.6 224.93L482.6 224.93L482.6 242.12L481.6 242.12L481.6 241.73L480.6 241.73L480.6 233.8L479.6 233.8L479.6 223.24L478.6 223.24L478.6 210.44L477.6 210.44L477.6 217.42L476.6 217.42L476.6 227.22L475.6 227.22L475.6 224.95L474.6 224.95L474.6 236.6L473.6 236.6L473.6 246.02L472.6 246.02L472.6 244.93L471.6 244.93L471.6 249.48L470.6 249.48L470.6 237.31L469.6 237.31L469.6 206.05L468.6 206.05L468.6 188.5L467.6 188.5L467.6 210.45L466.6 210.45L466.6 215.76L465.6 215.76L465.6 215.86L464.6 215.86L464.6 209.71L463.6 209.71L463.6 205.87L462.6 205.87L462.6 219.52L461.6 219.52L461.6 224.7L460.6 224.7L460.6 235.52L459.6 235.52L459.6 231.37L458.6 231.37L458.6 214.75L457.6 214.75L457.6 197.13L456.6 197.13L456.6 177.8L455.6 177.8L455.6 187.92L454.6 187.92L454.6 200.08L453.6 200.08L453.6 214.35L452.6 214.35L452.6 229.51L451.6 229.51L451.6 233.46L450.6 233.46L450.6 228.82L449.6 228.82L449.6 240.23L448.6 240.23L448.6 252.84L447.6 252.84L447.6 249.4L446.6 249.4L446.6 243.21L445.6 243.21L445.6 224.25L444.6 224.25L444.6 200.64L443.6 200.64L443.6 211.22L442.6 211.22L442.6 224.15L441.6 224.15L441.6 228.92L440.6 228.92L440.6 227.47L439.6 227.47L439.6 226.05L438.6 226.05L438.6 222.09L437.6 222.09L437.6 217.54L436.6 217.54L436.6 208.06L435.6 208.06L435.6 190.17L434.6 190.17L434.6 192.32L433.6 192.32L433.6 192.14L432.6 192.14L432.6 177.8L431.6 177.8L431.6 177.8L430.6 177.8L430.6 177.8L429.6 177.8L429.6 177.8L428.6 177.8L428.6 177.8L427.6 177.8L427.6 177.8L426.6 177.8L426.6 177.8L425.6 177.8L425.6 177.8L424.6 177.8L424.6 177.8L423.6 177.8L423.6 177.8L422.6 177.8L422.6 177.8L421.6 177.8L421.6 177.8L420.6 177.8L420.6 177.8L419.6 177.8L419.6 177.8L418.6 177.8L418.6 177.8L417.6 177.8L417.6 177.8L416.6 177.8L416.6 177.8L415.6 177.8L415.6 177.8L414.6 177.8L414.6 177.8L413.6 177.8L413.6 177.8L412.6 177.8L412.6 177.8L411.6 177.8L411.6 177.8L410.6 177.8L410.6 177.8L409.6 177.8L409.6 177.8L408.6 177.8L408.6 177.8L407.6 177.8L407.6 177.8L406.6 177.8L406.6 177.8L405.6 177.8L405.6 177.8L404.6 177.8L404.6 177.8L403.6 177.8L403.6 177.8L402.6 177.8L402.6 177.8L401.6 177.8L401.6 185.47L400.6 185.47L400.6 190.45L399.6 190.45L399.6 195.67L398.6 195.67L398.6 202.08L397.6 202.08L397.6 209.26L396.6 209.26L396.6 211.85L395.6 211.85L395.6 217.7L394.6 217.7L394.6 218.35L393.6 218.35L393.6 218.85L392.6 218.85L392.6 220.34L391.6 220.34L391.6 220.61L390.6 220.61L390.6 222.67L389.6 222.67L389.6 225.21L388.6 225.21L388.6 230.11L387.6 230.11L387.6 224.58L386.6 224.58L386.6 227.93L385.6 227.93L385.6 224.15L384.6 224.15L384.6 218.93L383.6 218.93L383.6 216.37L382.6 216.37L382.6 209.04L381.6 209.04L381.6 198.22L380.6 198.22L380.6 177.8L379.6 177.8L379.6 177.8L378.6 177.8L378.6 187.56L377.6 187.56L377.6 216.97L376.6 216.97L376.6 225.54L375.6 225.54L375.6 223.39L374.6 223.39L374.6 219.51L373.6 219.51L373.6 216.58L372.6 216.58L372.6 212.53L371.6 212.53L371.6 210.99L370.6 210.99L370.6 214.28L369.6 214.28L369.6 212.91L368.6 212.91L368.6 213.01L367.6 213.01L367.6 202.14L366.6 202.14L366.6 193.51L365.6 193.51L365.6 187.7L364.6 187.7L364.6 177.8L363.6 177.8L363.6 177.8L362.6 177.8L362.6 192.76L361.6 192.76L361.6 210.98L360.6 210.98L360.6 218.94L359.6 218.94L359.6 218.82L358.6 218.82L358.6 215.94L357.6 215.94L357.6 211.4L356.6 211.4L356.6 223.82L355.6 223.82L355.6 228.98L354.6 228.98L354.6 234.28L353.6 234.28L353.6 232.69L352.6 232.69L352.6 222.84L351.6 222.84L351.6 207.24L350.6 207.24L350.6 199.26L349.6 199.26L349.6 232.88L348.6 232.88L348.6 246.38L347.6 246.38L347.6 253.38L346.6 253.38L346.6 252.31L345.6 252.31L345.6 239.6L344.6 239.6L344.6 232.07L343.6 232.07L343.6 224.31L342.6 224.31L342.6 216.68L341.6 216.68L341.6 217.14L340.6 217.14L340.6 214.31L339.6 214.31L339.6 210.74L338.6 210.74L338.6 205.79L337.6 205.79L337.6 208.7L336.6 208.7L336.6 217.12L335.6 217.12L335.6 224.74L334.6 224.74L334.6 223.11L333.6 223.11L333.6 212.99L332.6 212.99L332.6 203.33L331.6 203.33L331.6 202.21L330.6 202.21L330.6 211.22L329.6 211.22L329.6 214.26L328.6 214.26L328.6 216.06L327.6 216.06L327.6 215.82L326.6 215.82L326.6 215.24L325.6 215.24L325.6 203.91L324.6 203.91L324.6 191.83L323.6 191.83L323.6 187.89L322.6 187.89L322.6 213.24L321.6 213.24L321.6 233.46L320.6 233.46L320.6 244.44L319.6 244.44L319.6 248.05L318.6 248.05L318.6 247.46L317.6 247.46L317.6 241.78L316.6 241.78L316.6 217.29L315.6 217.29L315.6 177.8L314.6 177.8L314.6 193.84L313.6 193.84L313.6 212.61L312.6 212.61L312.6 222.99L311.6 222.99L311.6 226.05L310.6 226.05L310.6 233.96L309.6 233.96L309.6 255.62L308.6 255.62L308.6 279.39L307.6 279.39L307.6 286.04L306.6 286.04L306.6 279.62L305.6 279.62L305.6 266.7L304.6 266.7L304.6 256.66L303.6 256.66L303.6 245.82L302.6 245.82L302.6 233.84L301.6 233.84L301.6 246.58L300.6 246.58L300.6 246.67L299.6 246.67L299.6 247.52L298.6 247.52L298.6 250.06L297.6 250.06L297.6 267.22L296.6 267.22L296.6 277.87L295.6 277.87L295.6 275.42L294.6 275.42L294.6 254.95L293.6 254.95L293.6 244.68L292.6 244.68L292.6 248.97L291.6 248.97L291.6 248.87L290.6 248.87L290.6 260.9L289.6 260.9L289.6 258.87L288.6 258.87L288.6 210.99L287.6 210.99L287.6 186.83L286.6 186.83L286.6 177.8L285.6 177.8L285.6 177.8L284.6 177.8L284.6 185.33L283.6 185.33L283.6 187.64L282.6 187.64L282.6 195.31L281.6 195.31L281.6 209.85L280.6 209.85L280.6 229.88L279.6 229.88L279.6 244.99L278.6 244.99L278.6 253.37L277.6 253.37L277.6 261.72L276.6 261.72L276.6 263.72L275.6 263.72L275.6 266.95L274.6 266.95L274.6 270.97L273.6 270.97L273.6 265.27L272.6 265.27L272.6 254.99L271.6 254.99L271.6 251.9L270.6 251.9L270.6 240.54L269.6 240.54L269.6 203.82L268.6 203.82L268.6 178.07L267.6 178.07L267.6 181.4L266.6 181.4L266.6 185.71L265.6 185.71L265.6 189.65L264.6 189.65L264.6 203.38L263.6 203.38L263.6 225.79L262.6 225.79L262.6 250.19L261.6 250.19L261.6 264.93L260.6 264.93L260.6 273.21L259.6 273.21L259.6 269.58L258.6 269.58L258.6 250.76L257.6 250.76L257.6 243.16L256.6 243.16L256.6 225.17L255.6 225.17L255.6 177.8L254.6 177.8L254.6 177.8L253.6 177.8L253.6 177.8L252.6 177.8L252.6 177.8L251.6 177.8L251.6 177.8L250.6 177.8L250.6 177.8L249.6 177.8L249.6 180.04L248.6 180.04L248.6 185.14L247.6 185.14L247.6 186.26L246.6 186.26L246.6 186.99L245.6 186.99L245.6 186.85L244.6 186.85L244.6 186.59L243.6 186.59L243.6 186.33L242.6 186.33L242.6 185.88L241.6 185.88L241.6 185.37L240.6 185.37L240.6 185.09L239.6 185.09L239.6 185.58L238.6 185.58L238.6 185.35L237.6 185.35L237.6 184.13L236.6 184.13L236.6 182.67L235.6 182.67L235.6 180.18L234.6 180.18L234.6 177.8L233.6 177.8L233.6 177.8L232.6 177.8L232.6 177.8L231.6 177.8L231.6 177.8L230.6 177.8L230.6 188.11L229.6 188.11L229.6 198.26L228.6 198.26L228.6 211.83L227.6 211.83L227.6 225.7L226.6 225.7L226.6 234.1L225.6 234.1L225.6 241.71L224.6 241.71L224.6 244.08L223.6 244.08L223.6 244.46L222.6 244.46L222.6 250.12L221.6 250.12L221.6 259.5L220.6 259.5L220.6 254.76L219.6 254.76L219.6 250.11L218.6 250.11L218.6 209.08L217.6 209.08L217.6 188.99L216.6 188.99L216.6 177.8L215.6 177.8L215.6 177.8L214.6 177.8L214.6 208.21L213.6 208.21L213.6 240.81L212.6 240.81L212.6 246.91L211.6 246.91L211.6 255.81L210.6 255.81L210.6 262.39L209.6 262.39L209.6 270.05L208.6 270.05L208.6 280.37L207.6 280.37L207.6 284.85L206.6 284.85L206.6 283.14L205.6 283.14L205.6 275.05L204.6 275.05L204.6 272.93L203.6 272.93L203.6 260.99L202.6 260.99L202.6 263.34L201.6 263.34L201.6 257.66L200.6 257.66L200.6 254.25L199.6 254.25L199.6 250.64L198.6 250.64L198.6 253.34L197.6 253.34L197.6 260.77L196.6 260.77L196.6 251.13L195.6 251.13L195.6 234.59L194.6 234.59L194.6 224.96L193.6 224.96L193.6 215.78L192.6 215.78L192.6 213.66L191.6 213.66L191.6 208.75L190.6 208.75L190.6 222.51L189.6 222.51L189.6 214.27L188.6 214.27L188.6 214.33L187.6 214.33L187.6 235.34L186.6 235.34L186.6 239.8L185.6 239.8L185.6 236.7L184.6 236.7L184.6 226.83L183.6 226.83L183.6 210.23L182.6 210.23L182.6 177.8L181.6 177.8L181.6 177.8L180.6 177.8L180.6 214.25L179.6 214.25L179.6 263.52L178.6 263.52L178.6 281.9L177.6 281.9L177.6 283.74L176.6 283.74L176.6 261.63L175.6 261.63L175.6 245.37L174.6 245.37L174.6 249.53L173.6 249.53L173.6 246.44L172.6 246.44L172.6 230.35L171.6 230.35L171.6 206.99L170.6 206.99L170.6 177.8L169.6 177.8L169.6 177.8L168.6 177.8L168.6 177.8L167.6 177.8L167.6 177.8L166.6 177.8L166.6 177.8L165.6 177.8L165.6 177.8L164.6 177.8L164.6 177.8L163.6 177.8Z" fill="#d4863c"/>
<path d="M175.6 261.24h1v2.4h-1zM176.6 85.18h1v2.4h-1zM176.6 283.03h1v2.4h-1zM177.6 77.54h1v2.4h-1zM182.6 134.78h1v2.4h-1zM212.6 240.41h1v2.4h-1zM227.6 142.63h1v2.4h-1zM269.6 238.74h1v2.4h-1zM270.6 250.1h1v2.4h-1zM278.6 91.23h1v2.4h-1zM287.6 210.37h1v2.4h-1zM292.6 79.75h1v2.4h-1zM300.6 245.87h1v2.4h-1zM304.6 67.8h1v2.4h-1zM312.6 211.9h1v2.4h-1zM317.6 77.67h1v2.4h-1zM325.6 131.39h1v2.4h-1zM335.6 118.16h1v2.4h-1zM337.6 205.6h1v2.4h-1zM343.6 231.47h1v2.4h-1zM344.6 238.93h1v2.4h-1zM367.6 212.29h1v2.4h-1zM375.6 105.72h1v2.4h-1zM380.6 140.4h1v2.4h-1zM381.6 131.06h1v2.4h-1zM388.6 88.19h1v2.4h-1zM436.6 111.73h1v2.4h-1zM439.6 90.52h1v2.4h-1zM457.6 134.31h1v2.4h-1zM461.6 121.17h1v2.4h-1zM463.6 209.19h1v2.4h-1zM464.6 215.25h1v2.4h-1zM509.6 202.06h1v2.4h-1zM510.6 210.03h1v2.4h-1zM523.6 142.28h1v2.4h-1zM597.6 244.23h1v2.4h-1zM605.6 115.68h1v2.4h-1zM605.6 225.47h1v2.4h-1zM607.6 246.03h1v2.4h-1zM624.6 236.48h1v2.4h-1zM635.6 95.95h1v2.4h-1zM649.6 218.61h1v2.4h-1zM661.6 120.22h1v2.4h-1zM664.6 239.11h1v2.4h-1zM670.6 231.11h1v2.4h-1zM672.6 121.46h1v2.4h-1zM682.6 257.29h1v2.4h-1zM685.6 103.59h1v2.4h-1zM705.6 229.11h1v2.4h-1zM707.6 216.66h1v2.4h-1zM709.6 131.97h1v2.4h-1zM714.6 134.39h1v2.4h-1zM716.6 141.44h1v2.4h-1zM727.6 83.34h1v2.4h-1zM733.6 114.93h1v2.4h-1zM737.6 244.23h1v2.4h-1zM738.6 246.14h1v2.4h-1zM756.6 122.33h1v2.4h-1zM778.6 205.85h1v2.4h-1zM813.6 220.8h1v2.4h-1zM835.6 120.54h1v2.4h-1zM857.6 141.02h1v2.4h-1zM901.6 208.38h1v2.4h-1zM914.6 87.91h1v2.4h-1zM915.6 266.97h1v2.4h-1zM930.6 91.02h1v2.4h-1zM932.6 239.37h1v2.4h-1zM944.6 114.18h1v2.4h-1zM945.6 231.75h1v2.4h-1zM956.6 232.67h1v2.4h-1zM974.6 203.29h1v2.4h-1zM984.6 106.08h1v2.4h-1zM1015.6 118.62h1v2.4h-1zM1021.6 111.28h1v2.4h-1zM1021.6 237.64h1v2.4h-1zM1037.6 213.52h1v2.4h-1zM1041.6 251.71h1v2.4h-1zM1059.6 122.16h1v2.4h-1zM1150.6 144.71h1v2.4h-1zM1166.6 203.45h1v2.4h-1zM1167.6 205.16h1v2.4h-1zM1173.6 210.44h1v2.4h-1zM1196.6 224.74h1v2.4h-1zM1199.6 215.8h1v2.4h-1zM1200.6 147.93h1v2.4h-1zM1200.6 210.8h1v2.4h-1zM1221.6 224.74h1v2.4h-1zM1226.6 205.31h1v2.4h-1zM1239.6 214.17h1v2.4h-1zM1265.6 217.5h1v2.4h-1zM1275.6 150.12h1v2.4h-1zM1277.6 147.2h1v2.4h-1zM1310.6 149.1h1v2.4h-1zM1321.6 148.55h1v2.4h-1zM1333.6 208.97h1v2.4h-1z" fill="#4c92c3"/>
</g>
<rect x="104.5" y="45.5" width="1318" height="255" fill="none" stroke="#000" stroke-width="1.33"/>
<line x1="164.5" y1="300.5" x2="164.5" y2="306.33" stroke="#000" stroke-width="1.33"/>
<line x1="430.5" y1="300.5" x2="430.5" y2="306.33" stroke="#000" stroke-width="1.33"/>
<line x1="696.5" y1="300.5" x2="696.5" y2="306.33" stroke="#000" stroke-width="1.33"/>
<line x1="962.5" y1="300.5" x2="962.5" y2="306.33" stroke="#000" stroke-width="1.33"/>
<line x1="1228.5" y1="300.5" x2="1228.5" y2="306.33" stroke="#000" stroke-width="1.33"/>
<line x1="98.67" y1="46.5" x2="104.5" y2="46.5" stroke="#000" stroke-width="1.33"/>
<text class="t" transform="translate(92.3,52.8) scale(0.965,1.07)" text-anchor="end">1.0</text>
<line x1="98.67" y1="112.5" x2="104.5" y2="112.5" stroke="#000" stroke-width="1.33"/>
<text class="t" transform="translate(92.3,118.8) scale(0.965,1.07)" text-anchor="end">0.5</text>
<line x1="98.67" y1="177.5" x2="104.5" y2="177.5" stroke="#000" stroke-width="1.33"/>
<text class="t" transform="translate(92.3,183.8) scale(0.965,1.07)" text-anchor="end">0.0</text>
<line x1="98.67" y1="242.5" x2="104.5" y2="242.5" stroke="#000" stroke-width="1.33"/>
<text class="t" transform="translate(92.3,248.8) scale(0.965,1.07)" text-anchor="end">−0.5</text>
<text class="l" transform="translate(41,174.2) rotate(-90) scale(1.0,1.07)" text-anchor="middle">amplitude</text>
<text class="ttl" transform="translate(762.8,34.6) scale(1.005,1.0)" text-anchor="middle">Clean vs perturbed (input watermark)</text>
<rect x="1256.4" y="50.4" width="158.8" height="63.7" rx="2.7" fill="#fff" fill-opacity="0.8" stroke="#ccc" stroke-width="1.33"/>
<rect x="1261" y="57" width="27.2" height="9.9" fill="#ffd0d0"/>
<text class="lg" transform="translate(1298.5,66.8) scale(1.0,0.97)" text-anchor="start">changed regions</text>
<line x1="1261" y1="82.5" x2="1289" y2="82.5" stroke="#2f81bb" stroke-width="0.85"/>
<text class="lg" transform="translate(1299,86.4) scale(1.0,0.97)" text-anchor="start">original</text>
<line x1="1261" y1="101.5" x2="1289" y2="101.5" stroke="#ff9638" stroke-width="0.85"/>
<text class="lg" transform="translate(1299,106) scale(1.0,0.97)" text-anchor="start">perturbed</text>
</g>
<g id="ax2">
<line x1="164.5" y1="330.5" x2="164.5" y2="585.5" stroke="#e7e7e7" stroke-width="1.33"/>
<line x1="430.5" y1="330.5" x2="430.5" y2="585.5" stroke="#e7e7e7" stroke-width="1.33"/>
<line x1="696.5" y1="330.5" x2="696.5" y2="585.5" stroke="#e7e7e7" stroke-width="1.33"/>
<line x1="962.5" y1="330.5" x2="962.5" y2="585.5" stroke="#e7e7e7" stroke-width="1.33"/>
<line x1="1228.5" y1="330.5" x2="1228.5" y2="585.5" stroke="#e7e7e7" stroke-width="1.33"/>
<line x1="104.5" y1="365.5" x2="1422.5" y2="365.5" stroke="#e7e7e7" stroke-width="1.33"/>
<line x1="104.5" y1="411.5" x2="1422.5" y2="411.5" stroke="#e7e7e7" stroke-width="1.33"/>
<line x1="104.5" y1="458.5" x2="1422.5" y2="458.5" stroke="#e7e7e7" stroke-width="1.33"/>
<line x1="104.5" y1="504.5" x2="1422.5" y2="504.5" stroke="#e7e7e7" stroke-width="1.33"/>
<line x1="104.5" y1="550.5" x2="1422.5" y2="550.5" stroke="#e7e7e7" stroke-width="1.33"/>
<g clip-path="url(#c2)">
<path d="M162.9 342.03L163.2 342.03L163.5 342.03L163.8 342.03L164.1 342.03L164.4 342.03L164.7 342.03L165 342.03L165.3 352.9L165.6 348.98L165.9 343.93L166.2 343.08L166.5 343.23L166.8 343.38L167.1 344.1L167.4 343.38L167.7 344.25L168 344.25L168.3 344.87L168.6 348.02L168.9 352.77L169.2 356.59L169.5 352.04L169.8 345.32L170.1 341.9L170.4 341.9L170.7 341.9L171 341.98L171.3 344.58L171.6 346.94L171.9 350.71L172.2 351.67L172.5 350.6L172.8 348.01L173.1 347.16L173.4 345.6L173.7 344.29L174 344.17L174.3 346.47L174.6 349.25L174.9 351.73L175.2 352.07L175.5 353.49L175.8 354.33L176.1 355.03L176.4 354.5L176.7 354.31L177 352.85L177.3 351.31L177.6 347.69L177.9 344.93L178.2 341.9L178.5 341.9L178.8 341.9L179.1 342.12L179.4 346.49L179.7 350.09L180 355.23L180.3 354.6L180.6 354.48L180.9 354.36L181.2 354.41L181.5 354.52L181.8 353.75L182.1 354.26L182.4 353.89L182.7 353.92L183 352.51L183.3 352.91L183.6 352.74L183.9 352.04L184.2 351.13L184.5 348.2L184.8 345.11L185.1 342.48L185.4 342.2L185.7 343.1L186 344.34L186.3 345.82L186.6 346.59L186.9 348.05L187.2 349L187.5 349.21L187.8 349.54L188.1 350.37L188.4 349.97L188.7 350.7L189 352.01L189.3 352.92L189.6 352.03L189.9 350.66L190.2 349.35L190.5 346.93L190.8 344.07L191.1 341.9L191.4 341.9L191.7 341.9L192 341.95L192.3 342.64L192.6 345.09L192.9 347.02L193.2 348.9L193.5 351.86L193.8 354L194.1 356L194.4 357.58L194.7 358.86L195 360.57L195.3 364.35L195.6 368.15L195.9 371.4L196.2 376.21L196.5 380.2L196.8 386.06L197.1 394.29L197.4 400.54L197.7 390.48L198 378.47L198.3 373.2L198.6 369.83L198.9 367.31L199.2 364.1L199.5 364.53L199.8 363.97L200.1 364.8L200.4 365.55L200.7 372.03L201 378.97L201.3 383.34L201.6 387.39L201.9 390.09L202.2 393.86L202.5 390.57L202.8 386.85L203.1 383.15L203.4 375.09L203.7 365.29L204 355.48L204.3 350.65L204.6 349.93L204.9 348.54L205.2 347L205.5 346.78L205.8 347.47L206.1 348.07L206.4 348.58L206.7 351.13L207 353.74L207.3 355.44L207.6 355.95L207.9 356.3L208.2 357.27L208.5 357.58L208.8 361.93L209.1 370.97L209.4 378.24L209.7 377.87L210 378.8L210.3 378.21L210.6 378.88L210.9 379.2L211.2 378.61L211.5 378.56L211.8 381.43L212.1 386.87L212.4 390.05L212.7 382.33L213 374.33L213.3 366.3L213.6 366.43L213.9 367.25L214.2 366.85L214.5 367.12L214.8 366.96L215.1 366.54L215.4 367.41L215.7 371.92L216 375.89L216.3 380.79L216.6 375.18L216.9 370.35L217.2 364.44L217.5 356.99L217.8 349.05L218.1 343.87L218.4 342.87L218.7 341.9L219 341.9L219.3 342.11L219.6 342.41L219.9 342.93L220.2 343.96L220.5 343.71L220.8 345.85L221.1 347.15L221.4 348.9L221.7 349.78L222 348.08L222.3 346.56L222.6 346.5L222.9 348.73L223.2 352.07L223.5 354.4L223.8 354.73L224.1 355.38L224.4 355.63L224.7 349.49L225 343.17L225.3 342.1L225.6 341.9L225.9 341.9L226.2 341.9L226.5 341.9L226.8 341.9L227.1 341.9L227.4 341.9L227.7 341.9L228 341.9L228.3 341.9L228.6 342.68L228.9 343.77L229.2 345.99L229.5 344.85L229.8 343.22L230.1 341.9L230.4 341.9L230.7 341.9L231 341.9L231.3 342.79L231.6 344.98L231.9 346.79L232.2 348.39L232.5 347.94L232.8 347.94L233.1 348.03L233.4 347.17L233.7 357.4L234 370.26L234.3 382.98L234.6 418.51L234.6 457L235 457.06L235.4 455.06L235.8 455.21L236.2 454.88L236.6 455.04L237 454.82L237.4 455.14L237.8 454.78L238.2 455.24L238.6 455.01L239 455L239.4 455.19L239.8 455.06L240.2 455.02L240.6 454.69L241 454.87L241.4 455L241.8 455.04L242.2 455.05L242.6 454.79L243 454.9L243.4 454.84L243.8 455.29L244.2 454.89L244.6 454.8L245 454.71L245.4 454.68L245.8 454.77L246.2 454.97L246.6 454.76L247 455.41L247.4 455.05L247.8 454.66L248.2 457.23L248.6 457.31L249 457.26L249.4 457.3L249.8 457.24L250.2 457.26L250.6 457.27L251 457.22L251.4 457.31L251.8 457.3L252.2 457.25L252.6 457.28L253 457.26L253.4 457.31L253.8 457.24L254.2 457.27L254.6 457.23L255 457.23L255.4 457.29L255.8 455.49L256.2 453.02L256.6 450.05L257 447.7L257.4 444.71L257.8 441.77L258.2 442.79L258.6 443.32L259 442.97L259.4 444.8L259.8 446.1L260.2 445.59L260.6 446.31L261 448.05L261.4 448.64L261.8 449.14L262.2 449.85L262.6 450.95L263 451.53L263.4 452.69L263.8 453.26L264.2 454.04L264.6 454.03L265 454.08L265.4 453.76L265.8 453.93L266.2 454.29L266.6 454.13L267 454.57L267.4 454.33L267.8 454.67L268.2 454.76L268.6 454.84L269 454.74L269.4 454.51L269.8 450.95L270.2 430.55L270.6 415.92L271 342.22L272 341.96L273 341.96L274 342.12L275 342.3L276 342.34L277 342.21L278 342.31L279 342.77L280 341.99L281 342.65L282 341.96L283 341.98L284 342.54L285 341.95L286 342.61L287 341.97L288 342.61L289 342.07L290 342.05L291 342.03L292 342.34L293 342.66L294 342.22L295 342.4L296 342.2L297 342.48L298 342.45L299 342.52L300 341.98L301 342.21L302 342.49L303 342.05L304 342.35L305 342.36L306 341.92L307 342.08L308 342.43L309 342.32L310 342.53L311 342.77L312 342.06L313 342.44L314 342.03L315 342.01L316 342.01L317 342.27L318 342.74L319 342.42L320 342.24L321 341.9L322 342.55L323 342.52L324 342.27L325 342.12L326 342.43L327 342.38L328 342.16L329 342.29L330 342.7L331 342.31L332 342.76L333 342.33L334 342.31L335 341.91L336 342.35L337 342.17L338 342.19L339 341.99L340 342.1L341 342.54L342 342.35L343 342.7L344 342.65L345 342.1L346 342.58L347 342.73L348 342.72L349 342.39L350 342.05L351 341.91L352 342.76L353 342.28L354 342.74L355 342.67L356 342.32L357 342.43L358 342.42L359 342.18L360 341.92L361 342.5L362 342.66L363 342.75L364 342.41L365 342.46L366 342.71L367 342.7L368 342.52L369 342.47L370 342.8L371 342.25L372 342L373 342.48L374 342.31L375 342.8L376 342.47L377 342.01L378 342.42L379 342.14L380 342.19L381 342.08L382 342.25L383 342.03L384 342.37L385 342.18L386 342.01L387 342.24L388 342.12L389 342.57L390 341.93L391 342.72L392 342.16L393 342.09L394 342.7L395 342.26L396 342.74L397 342.5L398 342.79L399 342.27L400 342.16L401 342.36L402 342.31L403 342.42L404 342.09L405 342.36L406 342.05L407 342.3L408 342.07L409 342.39L410 342.19L411 342.75L412 342.21L413 342.37L414 342L415 342.45L416 342.56L417 341.96L418 342.37L419 342.4L420 342.21L421 342.26L422 342.11L423 342.33L424 342.58L425 342.79L426 342.53L427 342.14L428 342.28L429 342.01L430 342.54L431 342.04L432 342.47L433 342.7L434 342.47L435 342.41L436 342.21L437 342.44L438 342.6L439 342.39L440 342.44L441 342.18L442 342.4L443 342.77L444 342.71L445 342.07L446 342.19L447 342.46L448 342.18L449 342.34L450 342.18L451 342.3L452 342.51L453 342.65L454 342.11L455 342.76L456 342.66L457 341.98L458 341.92L459 342.61L460 342.7L461 342.35L462 342.04L463 342.39L464 342.07L465 341.97L466 342.5L467 342.37L468 342.69L469 342.74L470 342.77L471 342.51L472 342.77L473 341.93L474 342L475 342.74L476 342.19L477 341.91L478 342.25L479 342.73L480 342.8L481 342.46L482 342.33L483 342.4L484 342.31L485 341.91L486 342.07L487 341.95L488 342.8L489 342.65L490 342.66L491 342.67L492 342.17L493 342.1L494 342.55L495 342.78L496 342.22L497 342.43L498 342.73L499 342.77L500 342.3L501 342.19L502 341.91L503 342L504 342.7L505 342L506 342.34L507 342.17L508 342.28L509 341.96L510 342.45L511 342.41L512 342.7L513 342.37L514 342.31L515 342.24L516 342.56L517 342.44L518 342.22L519 342.3L520 342.24L521 342.46L522 342.08L523 342.38L524 342.5L525 341.91L526 342.37L527 342.73L528 342.49L529 342.61L530 342.7L531 342.31L532 342.39L533 342.01L534 342.44L535 342.1L536 342.38L537 342.23L538 342.13L539 342.78L540 342.22L541 342.78L542 341.99L543 342.4L544 342.3L545 341.91L546 342.11L547 342.1L548 342.2L549 342.54L550 342.42L551 342.14L552 341.99L553 342.19L554 341.91L555 342.36L556 342.52L557 342.57L558 342.69L559 341.98L560 342.08L561 342.18L562 342.24L563 342.58L564 341.98L565 342.19L566 342.07L567 342.78L568 342.54L569 342.08L570 342.21L571 342.61L572 342.25L573 341.93L574 342.45L575 342.07L576 342.66L577 341.91L578 342.08L579 342.44L580 342.66L581 342.16L582 342.36L583 341.93L584 342.01L585 342.05L586 342.38L587 342.72L588 342.55L589 342.48L590 342.32L591 342.28L592 342.67L593 342.56L594 342.17L595 342.1L596 342.59L597 342.72L598 342.17L599 342.33L600 342.68L601 342.38L602 342.55L603 342.3L604 342.62L605 342.79L606 342.59L607 342.19L608 342.42L609 342.06L610 342.79L611 342.4L612 342.2L613 342.14L614 342.66L615 342.35L616 341.96L617 342.42L618 341.96L619 341.94L620 342.08L621 342.47L622 342.32L623 342.06L624 341.96L625 342.77L626 342.26L627 342.03L628 342.52L629 342.24L630 342.53L631 342.68L632 342.65L633 342.38L634 342.74L635 342.04L636 342.29L637 342.32L638 341.92L639 342.39L640 342.33L641 342.67L642 342.52L643 341.95L644 342.67L645 342.73L646 342.74L647 342.49L648 342.44L649 342.1L650 342.41L651 342.13L652 342.55L653 342.1L654 342.4L655 342.7L656 342.55L657 342.65L658 341.99L659 341.99L660 342.59L661 342.53L662 342.74L663 342.1L664 342.13L665 342.65L666 342.19L667 342.18L668 342.38L669 342.66L670 342.6L671 342.11L672 342.63L673 342.74L674 342.1L675 342.17L676 342.6L677 342.54L678 341.92L679 342.68L680 342.67L681 342.8L682 342.28L683 342.58L684 342.5L685 341.92L686 342.2L687 342.48L688 342.09L689 341.97L690 342.7L691 342.75L692 342.57L693 342.38L694 342.75L695 342.29L696 342.38L697 342.63L698 342.46L699 342.38L700 342.38L701 342.51L702 342.04L703 342.68L704 341.95L705 342.26L706 342.24L707 342.03L708 342.37L709 342.58L710 342.05L711 342.4L712 342.47L713 342.22L714 342.42L715 342.01L716 342.66L717 342.63L718 342.43L719 342.17L720 342.15L721 342.39L722 342L723 342.62L724 341.98L725 342.79L726 342.62L727 342.68L728 341.99L729 342.54L730 342.75L731 342.32L732 342.4L733 341.96L734 342.37L735 342.35L736 342.29L737 342.58L738 342.16L739 342.47L740 342.45L741 341.97L742 342L743 342.51L744 341.96L745 342.03L746 341.91L747 342.56L748 341.91L749 341.94L750 342.19L751 342.63L752 342.47L753 342.49L754 342.08L755 342.14L756 342.49L757 342.39L758 342.5L759 342.43L760 342.64L761 342.39L762 342.73L763 342.12L764 342.44L765 341.96L766 342.31L767 342.04L768 342.72L769 342.41L770 342.59L771 342.16L772 342.63L773 342.11L774 342.44L775 342.43L776 342.55L777 342L778 342.42L779 342.32L780 342.07L781 342.43L782 342.35L783 342.32L784 341.95L785 341.95L786 342.07L787 342.04L788 342.17L789 341.96L790 342.61L791 342.7L792 342.48L793 342.65L794 342.03L795 342.62L796 342.06L797 342.51L798 342.49L799 342.43L800 342.27L801 342.42L802 342.46L803 342.32L804 342.64L805 342.1L806 342.17L807 342.62L808 342.72L809 342.68L810 342.26L811 342.67L812 342.34L813 342.77L814 342.18L815 342.73L816 342.37L817 342.65L818 342L819 342.68L820 342.28L821 342.07L822 342.51L823 342L824 342.35L825 342.05L826 342.52L827 342.24L828 342.58L829 342.65L830 342.4L831 342.4L832 342.24L833 342.5L834 342.51L835 342.76L836 342.42L837 342.49L838 342.36L839 342.08L840 342.78L841 342.39L842 342.66L843 342.71L844 342.26L845 342.17L846 342.34L847 342.17L848 342.77L849 342.05L850 342.31L851 342.63L852 342.39L853 342.48L854 342.34L855 341.92L856 341.96L857 342.5L858 342.71L859 342.34L860 342.44L861 341.94L862 342.75L863 342.17L864 342.47L865 342.7L866 342.6L867 342.6L868 342.24L869 341.91L870 342.3L871 342.61L872 342.54L873 342.46L874 342.1L875 342.53L876 342.47L877 342.47L878 342.13L879 342.58L880 342.53L881 342.18L882 342.27L883 342L884 341.91L885 342.21L886 342.16L887 342.52L888 342.64L889 342.3L890 342.51L891 342.08L892 342.41L893 342.05L894 341.98L895 342.26L896 342.58L897 341.96L898 342.79L899 342.79L900 342.1L901 342.11L902 342.13L903 342.63L904 341.94L905 342.47L906 341.91L907 342.02L908 342.17L909 342.75L910 342.66L911 342.32L912 342.11L913 342L914 342.19L915 342.17L916 342.12L917 342.67L918 342.55L919 341.93L920 342.62L921 342.77L922 342.47L923 341.93L924 342.54L925 341.93L926 342.18L927 342.68L928 342.01L929 342.55L930 342.76L931 342.48L932 342.17L933 342.29L934 342L935 341.95L936 342.43L937 342.2L938 342.56L939 342.05L940 342.68L941 342.28L942 342.52L943 342.64L944 342.62L945 342.52L946 342.17L947 342.24L948 342.44L949 342.71L950 342.78L951 342.56L952 342.79L953 342.51L954 342.37L955 342.23L956 342.57L957 342.08L958 342.33L959 341.92L960 342.65L961 342.22L962 342.26L963 341.97L964 342.68L965 342.16L966 342.53L967 342.18L968 341.91L969 342.24L970 342.09L971 342.03L972 341.99L973 342.37L974 342L975 341.95L976 342.16L977 342.17L978 342.52L979 342.24L980 342.47L981 342.09L982 342.74L983 342.67L984 342.33L985 342.12L986 342.08L987 342.76L988 342.62L989 342.42L990 342.72L991 342.43L992 342.37L993 342.54L994 342.42L995 342.04L996 342.77L997 341.92L998 342.42L999 342.79L1000 341.96L1001 342.78L1002 342.76L1003 342.47L1004 342.62L1005 342.64L1006 342.62L1007 342.77L1008 342.46L1009 342.58L1010 342.03L1011 342.19L1012 341.93L1013 342.01L1014 342.15L1015 342.55L1016 342.11L1017 342.67L1018 342.73L1019 342.02L1020 342.1L1021 342.16L1022 342.71L1023 342.8L1024 342.25L1025 342.75L1026 342.23L1027 342.59L1028 342.33L1029 342.04L1030 342.18L1031 342.29L1032 342.16L1033 342.5L1034 342.08L1035 342.35L1036 342.53L1037 342.3L1038 342.02L1039 342.44L1040 342.44L1041 342.77L1042 342.1L1043 341.93L1044 342.1L1045 342.55L1046 342.41L1047 341.93L1048 341.91L1049 342.6L1050 342.29L1051 342.04L1052 342.45L1053 342.04L1054 342.74L1055 342L1056 342.27L1057 342.13L1058 341.92L1059 342.16L1060 342.75L1061 342.02L1062 342.18L1063 342.42L1064 342.27L1065 342.24L1066 342.29L1067 342.12L1068 342.22L1069 342.5L1070 341.94L1071 342.64L1072 342.61L1073 342.52L1074 342.51L1075 342.66L1076 342.32L1077 342.75L1078 342.48L1079 342.22L1080 342.03L1081 341.98L1082 342.5L1083 342.09L1084 342.16L1085 342.34L1086 342.79L1087 342.7L1088 342.72L1089 342.75L1090 342.04L1091 341.98L1092 341.95L1093 342.22L1094 341.94L1095 342.76L1096 342.26L1097 342.17L1098 342.8L1099 342.32L1100 342.4L1101 342.78L1102 342.79L1103 342.64L1104 342.5L1105 342.21L1106 342.78L1107 342.35L1108 342.46L1109 342.13L1110 342.31L1111 342.55L1112 342.36L1113 342.59L1114 341.94L1115 342.52L1116 342.62L1117 342.69L1118 342.75L1119 342.68L1120 342.05L1121 342.5L1122 341.96L1123 341.96L1124 342.11L1125 342.43L1126 342.2L1127 342.38L1128 342.39L1129 342.01L1130 342.14L1131 342.26L1132 342.55L1133 342.23L1134 342.2L1135 342.17L1136 341.9L1137 342.46L1138 342.27L1139 342.23L1140 342.39L1141 341.92L1142 342.13L1143 342.1L1144 342.27L1145 342.27L1146 341.98L1147 342.28L1148 342.66L1149 342.61L1150 342L1151 342.15L1152 342.79L1153 342.32L1154 342.5L1155 342.02L1156 342.07L1157 342.44L1158 342.6L1159 342.33L1160 342.3L1161 342.32L1162 342.73L1163 342.76L1164 342.24L1165 341.95L1166 341.93L1167 342.29L1168 342.11L1169 342.53L1170 342.02L1171 342.68L1172 342.64L1173 342.53L1174 342.48L1175 342.2L1176 341.97L1177 342.59L1178 342.36L1179 342.39L1180 342.76L1181 342.37L1182 342.71L1183 342.17L1184 342.57L1185 342.68L1186 342.01L1187 341.98L1188 342.37L1189 342.09L1190 342.37L1191 342.33L1192 342.03L1193 341.96L1194 342.53L1195 342.2L1196 342.73L1197 342.54L1198 341.94L1199 342.48L1200 342.68L1201 342.5L1202 342.76L1203 341.98L1204 342.03L1205 342.35L1206 341.97L1207 342.46L1208 342.32L1209 342.53L1210 342.27L1211 342.68L1212 342.09L1213 342.43L1214 341.99L1215 342.42L1216 341.97L1217 342.14L1218 342.01L1219 342.46L1220 342.36L1221 342.26L1222 341.99L1223 341.9L1224 341.94L1225 342.79L1226 342.23L1227 342.13L1228 342.79L1229 342.25L1230 342.61L1231 341.9L1232 342.52L1233 342.3L1234 342.24L1235 341.92L1236 342.76L1237 341.91L1238 342.03L1239 342.68L1240 342.75L1241 342.08L1242 342.31L1243 342.73L1244 342.16L1245 342.16L1246 342.49L1247 342.75L1248 342.08L1249 342.76L1250 342.55L1251 342.31L1252 342.6L1253 342.79L1254 342.76L1255 342.68L1256 342.41L1257 341.97L1258 342.34L1259 342.07L1260 341.98L1261 342.32L1262 342.37L1263 342.52L1264 342.37L1265 342.69L1266 342.06L1267 342.13L1268 342.52L1269 342.28L1270 342.76L1271 342.75L1272 342.8L1273 342.76L1274 342.52L1275 342.64L1276 342.04L1277 342.75L1278 342.1L1279 342.45L1280 342.09L1281 342L1282 342.27L1283 342.68L1284 342.6L1285 342.63L1286 341.9L1287 342.56L1288 342.39L1289 341.98L1290 342.64L1291 342.1L1292 342.29L1293 342.26L1294 342.59L1295 342.23L1296 342.14L1297 342.07L1298 342.28L1299 342.18L1300 342.19L1301 342.71L1302 342.17L1303 341.98L1304 342.58L1305 342.72L1306 342.05L1307 342.26L1308 341.98L1309 341.97L1310 342.4L1311 342.75L1312 342.11L1313 342.07L1314 341.9L1315 342.38L1316 342.72L1317 341.98L1318 342.53L1319 342.57L1320 342.21L1321 342.29L1322 342.04L1323 342.69L1324 342.78L1325 342.52L1326 342L1327 342.2L1328 342.37L1329 342.33L1330 342.08L1331 342.74L1332 342.79L1333 342.02L1334 342.52L1335 342.07L1336 342.07L1337 342.04L1338 342.77L1339 342.36L1340 342.49L1341 342.16L1342 342.45L1343 342.68L1344 342.17L1345 341.94L1346 342.61L1347 341.98L1348 342.33L1349 342.77L1350 342.02L1351 342.61L1352 342.24L1353 342.28L1354 341.96L1355 342.36L1356 342.52L1357 342.26L1358 342.73L1359 342.6L1360 342.38L1361 342.75L1362 342.19L1362.7 341.9L1362.7 574.1L1362 574.05L1361 573.83L1360 573.87L1359 573.69L1358 574.03L1357 573.77L1356 573.41L1355 573.62L1354 573.42L1353 573.94L1352 573.46L1351 574.07L1350 573.66L1349 574L1348 573.55L1347 573.92L1346 573.23L1345 573.65L1344 573.57L1343 573.66L1342 573.26L1341 573.91L1340 573.56L1339 573.54L1338 573.56L1337 573.73L1336 573.68L1335 573.51L1334 573.7L1333 573.27L1332 573.45L1331 573.7L1330 573.7L1329 573.61L1328 573.89L1327 573.38L1326 574.1L1325 573.91L1324 573.76L1323 573.22L1322 574.08L1321 573.85L1320 573.71L1319 573.89L1318 573.22L1317 573.97L1316 573.66L1315 573.69L1314 574L1313 574.07L1312 574.04L1311 573.81L1310 573.51L1309 573.91L1308 573.71L1307 573.41L1306 574.02L1305 573.74L1304 573.44L1303 573.3L1302 573.98L1301 573.34L1300 573.64L1299 573.78L1298 574.02L1297 573.79L1296 573.65L1295 573.46L1294 573.47L1293 573.81L1292 573.44L1291 573.59L1290 573.39L1289 573.87L1288 573.3L1287 573.32L1286 573.9L1285 573.39L1284 574.09L1283 573.43L1282 573.68L1281 573.53L1280 573.32L1279 573.83L1278 573.79L1277 573.32L1276 573.89L1275 573.59L1274 573.27L1273 574.07L1272 573.81L1271 574.05L1270 573.9L1269 573.29L1268 573.88L1267 573.37L1266 573.88L1265 573.83L1264 573.75L1263 573.75L1262 573.34L1261 573.46L1260 573.78L1259 573.4L1258 573.36L1257 573.85L1256 573.33L1255 573.52L1254 573.66L1253 573.86L1252 573.52L1251 573.76L1250 573.35L1249 573.69L1248 573.76L1247 574.03L1246 573.4L1245 573.74L1244 573.9L1243 573.42L1242 573.92L1241 573.75L1240 573.89L1239 573.61L1238 573.41L1237 573.82L1236 574.07L1235 573.28L1234 573.55L1233 573.73L1232 573.23L1231 573.76L1230 573.78L1229 573.5L1228 573.27L1227 573.82L1226 573.22L1225 574.07L1224 573.41L1223 573.75L1222 573.37L1221 574.03L1220 574L1219 573.37L1218 573.34L1217 573.75L1216 573.45L1215 573.48L1214 573.64L1213 573.54L1212 573.93L1211 574.06L1210 573.95L1209 573.46L1208 573.53L1207 573.73L1206 573.68L1205 574.02L1204 573.55L1203 573.74L1202 573.31L1201 573.2L1200 573.36L1199 573.7L1198 573.9L1197 574.02L1196 573.73L1195 573.82L1194 573.96L1193 573.38L1192 574.09L1191 573.5L1190 573.7L1189 573.94L1188 573.58L1187 573.96L1186 573.69L1185 573.81L1184 573.77L1183 573.9L1182 574.09L1181 573.86L1180 573.81L1179 573.95L1178 574.08L1177 574.09L1176 573.37L1175 573.82L1174 573.78L1173 573.99L1172 573.61L1171 573.26L1170 573.26L1169 573.47L1168 574.1L1167 573.27L1166 573.9L1165 573.46L1164 574.09L1163 573.95L1162 573.63L1161 573.78L1160 574.08L1159 573.23L1158 573.23L1157 573.9L1156 573.42L1155 573.58L1154 573.83L1153 573.37L1152 573.26L1151 573.92L1150 573.58L1149 573.72L1148 573.84L1147 573.8L1146 573.22L1145 573.64L1144 573.58L1143 573.49L1142 573.67L1141 573.31L1140 573.5L1139 573.93L1138 573.73L1137 573.84L1136 573.61L1135 574.07L1134 573.21L1133 573.44L1132 573.29L1131 573.86L1130 573.25L1129 573.47L1128 573.85L1127 573.85L1126 573.88L1125 573.89L1124 573.46L1123 573.3L1122 573.3L1121 573.75L1120 573.6L1119 574.05L1118 573.6L1117 573.52L1116 573.92L1115 573.43L1114 573.37L1113 573.89L1112 573.57L1111 573.22L1110 573.4L1109 573.31L1108 573.57L1107 573.74L1106 573.94L1105 573.27L1104 574L1103 573.76L1102 573.37L1101 573.45L1100 573.75L1099 573.97L1098 573.9L1097 573.34L1096 573.43L1095 573.83L1094 573.45L1093 573.44L1092 573.68L1091 573.47L1090 574.02L1089 573.94L1088 573.28L1087 573.83L1086 573.42L1085 573.93L1084 573.61L1083 573.25L1082 573.72L1081 574.02L1080 573.69L1079 573.48L1078 573.55L1077 573.3L1076 573.45L1075 573.34L1074 573.9L1073 574.03L1072 573.94L1071 573.31L1070 573.97L1069 573.45L1068 573.81L1067 573.9L1066 574.05L1065 573.33L1064 574.06L1063 573.24L1062 573.81L1061 573.67L1060 573.97L1059 573.79L1058 573.24L1057 573.51L1056 574.07L1055 573.58L1054 573.29L1053 573.9L1052 573.94L1051 573.92L1050 573.61L1049 573.97L1048 573.63L1047 573.57L1046 573.88L1045 573.4L1044 573.36L1043 573.41L1042 573.77L1041 573.38L1040 573.91L1039 573.25L1038 573.83L1037 573.56L1036 573.71L1035 573.3L1034 573.68L1033 573.87L1032 574.02L1031 573.46L1030 573.47L1029 573.38L1028 574.02L1027 573.79L1026 573.53L1025 573.44L1024 573.31L1023 573.23L1022 573.93L1021 573.32L1020 573.69L1019 573.77L1018 573.46L1017 573.57L1016 574.02L1015 573.25L1014 573.61L1013 573.93L1012 573.51L1011 573.51L1010 573.96L1009 573.47L1008 573.33L1007 573.81L1006 573.56L1005 573.8L1004 573.46L1003 573.48L1002 573.76L1001 573.43L1000 573.37L999 573.29L998 573.64L997 573.93L996 573.57L995 573.9L994 573.83L993 573.67L992 573.66L991 573.39L990 573.64L989 573.92L988 573.83L987 573.81L986 573.36L985 573.88L984 574.08L983 573.76L982 573.88L981 573.39L980 573.7L979 573.29L978 573.87L977 573.7L976 574.05L975 573.73L974 573.32L973 573.8L972 573.93L971 573.81L970 573.66L969 573.84L968 573.39L967 573.79L966 573.52L965 573.6L964 573.93L963 573.89L962 574.1L961 573.64L960 573.42L959 573.7L958 573.31L957 573.52L956 573.96L955 573.73L954 573.94L953 573.74L952 573.67L951 573.79L950 573.51L949 573.63L948 573.85L947 573.37L946 573.85L945 573.5L944 573.25L943 573.55L942 573.92L941 573.61L940 574.03L939 573.42L938 573.76L937 573.37L936 574.08L935 573.87L934 573.48L933 573.64L932 573.83L931 574.05L930 573.67L929 573.59L928 573.47L927 573.59L926 573.79L925 573.58L924 573.94L923 573.47L922 573.91L921 573.58L920 574.01L919 573.3L918 573.61L917 574.09L916 573.64L915 573.33L914 574.05L913 573.98L912 573.97L911 574.05L910 573.34L909 573.28L908 573.38L907 573.87L906 573.33L905 573.86L904 573.41L903 573.4L902 573.65L901 573.96L900 573.81L899 573.89L898 573.55L897 573.56L896 573.44L895 573.83L894 573.63L893 573.71L892 574.06L891 573.51L890 573.8L889 573.51L888 573.5L887 573.76L886 574.08L885 573.26L884 573.44L883 573.26L882 573.58L881 573.95L880 573.8L879 573.72L878 573.58L877 573.97L876 573.42L875 573.28L874 573.87L873 574.09L872 573.57L871 573.69L870 573.21L869 573.47L868 573.45L867 573.35L866 573.4L865 573.27L864 573.92L863 574.06L862 573.29L861 573.93L860 574.04L859 573.44L858 573.94L857 573.88L856 573.35L855 573.93L854 573.34L853 574L852 573.86L851 573.96L850 573.97L849 573.78L848 573.92L847 573.34L846 574.06L845 574.05L844 573.55L843 573.47L842 573.69L841 573.56L840 573.69L839 573.75L838 573.36L837 574.1L836 573.36L835 573.87L834 573.51L833 573.31L832 573.89L831 573.56L830 573.55L829 573.93L828 573.2L827 573.54L826 573.98L825 573.83L824 574.07L823 573.5L822 573.21L821 573.9L820 573.52L819 573.67L818 573.52L817 573.5L816 573.44L815 573.38L814 573.98L813 573.75L812 573.68L811 573.3L810 574.07L809 573.98L808 573.66L807 573.77L806 573.78L805 573.5L804 573.33L803 573.73L802 573.22L801 573.79L800 573.22L799 574.07L798 573.72L797 573.68L796 573.54L795 574.05L794 573.9L793 573.7L792 573.72L791 573.54L790 573.61L789 573.77L788 573.83L787 573.26L786 573.75L785 573.92L784 573.66L783 573.43L782 573.28L781 573.74L780 573.91L779 573.6L778 573.58L777 574.09L776 573.96L775 573.86L774 573.3L773 573.73L772 573.91L771 573.49L770 573.57L769 573.25L768 573.97L767 574.09L766 573.97L765 573.21L764 573.76L763 573.76L762 573.4L761 573.61L760 574.04L759 573.75L758 573.48L757 574L756 573.2L755 573.69L754 573.21L753 573.98L752 573.97L751 574.01L750 573.93L749 573.73L748 573.96L747 573.28L746 574.08L745 574.05L744 573.43L743 573.23L742 573.97L741 573.51L740 573.88L739 573.93L738 573.23L737 573.95L736 573.45L735 573.93L734 574.01L733 573.33L732 573.59L731 573.63L730 573.84L729 574.06L728 573.41L727 573.44L726 573.57L725 573.95L724 573.95L723 573.39L722 573.92L721 574.08L720 573.66L719 573.32L718 573.88L717 573.36L716 573.24L715 573.54L714 573.87L713 573.41L712 573.43L711 573.5L710 573.86L709 573.65L708 573.71L707 573.51L706 573.85L705 573.74L704 573.49L703 573.66L702 573.26L701 573.68L700 573.36L699 573.98L698 574.03L697 573.27L696 573.72L695 573.92L694 573.23L693 573.62L692 573.59L691 573.2L690 573.26L689 574.05L688 573.46L687 573.53L686 573.87L685 573.55L684 573.51L683 573.84L682 573.92L681 574.07L680 573.52L679 573.52L678 573.64L677 573.57L676 573.81L675 573.76L674 573.67L673 573.72L672 573.54L671 573.43L670 574.02L669 573.37L668 573.96L667 573.61L666 573.58L665 573.43L664 573.44L663 573.7L662 573.96L661 573.77L660 573.41L659 573.9L658 574.04L657 573.46L656 573.95L655 573.43L654 573.21L653 573.31L652 573.68L651 573.2L650 573.37L649 573.21L648 573.27L647 573.62L646 574.05L645 573.97L644 573.96L643 573.95L642 573.84L641 574L640 573.88L639 573.31L638 573.47L637 573.26L636 573.95L635 573.46L634 573.31L633 573.46L632 573.93L631 574.04L630 574.09L629 573.99L628 574.01L627 573.43L626 573.64L625 573.61L624 573.46L623 573.74L622 573.72L621 573.91L620 573.48L619 573.23L618 573.51L617 573.21L616 573.72L615 573.65L614 573.24L613 573.25L612 573.99L611 573.66L610 573.93L609 573.29L608 573.32L607 573.99L606 573.6L605 573.97L604 573.59L603 573.24L602 573.63L601 573.4L600 573.28L599 573.8L598 574.05L597 573.4L596 573.44L595 573.65L594 574.03L593 573.33L592 573.21L591 573.7L590 573.61L589 573.8L588 573.64L587 573.29L586 573.83L585 574.03L584 573.76L583 573.47L582 573.43L581 573.97L580 573.34L579 574.01L578 574.03L577 573.36L576 573.22L575 573.92L574 573.51L573 573.23L572 573.44L571 574.02L570 573.87L569 573.82L568 573.68L567 573.74L566 573.43L565 573.94L564 573.32L563 574.03L562 573.75L561 573.23L560 573.98L559 573.96L558 573.82L557 573.95L556 573.91L555 573.96L554 573.65L553 573.36L552 573.83L551 573.89L550 573.78L549 573.26L548 573.37L547 573.31L546 573.31L545 573.58L544 573.71L543 573.21L542 573.32L541 573.3L540 574L539 573.44L538 573.98L537 573.9L536 573.84L535 573.2L534 573.9L533 574.04L532 573.2L531 573.48L530 573.66L529 573.98L528 573.78L527 573.51L526 573.53L525 573.77L524 573.74L523 573.53L522 573.52L521 573.31L520 573.84L519 573.7L518 573.51L517 573.75L516 573.57L515 573.6L514 573.46L513 573.43L512 573.54L511 573.26L510 573.93L509 573.55L508 573.59L507 573.62L506 574.05L505 573.57L504 573.28L503 573.86L502 573.7L501 573.67L500 574.07L499 573.67L498 573.59L497 573.57L496 573.68L495 573.51L494 573.39L493 573.87L492 573.63L491 573.89L490 573.76L489 573.91L488 573.47L487 573.42L486 574.02L485 573.9L484 573.78L483 573.53L482 573.29L481 573.99L480 573.52L479 573.51L478 574.03L477 573.61L476 573.37L475 573.39L474 573.79L473 573.98L472 573.48L471 574.04L470 573.85L469 573.27L468 573.91L467 573.98L466 573.96L465 573.83L464 573.62L463 573.63L462 574.03L461 573.85L460 573.41L459 573.75L458 573.47L457 573.29L456 573.21L455 573.62L454 574.07L453 574.07L452 573.87L451 573.36L450 573.49L449 573.63L448 574L447 574.01L446 573.21L445 573.58L444 573.8L443 573.9L442 573.9L441 574L440 573.48L439 573.3L438 573.5L437 573.28L436 573.52L435 573.41L434 573.86L433 573.27L432 573.98L431 573.92L430 573.41L429 573.56L428 573.81L427 573.47L426 573.68L425 573.25L424 573.38L423 574.1L422 573.53L421 573.62L420 573.45L419 573.89L418 573.56L417 574.06L416 573.53L415 573.78L414 573.67L413 573.79L412 574.07L411 573.67L410 573.63L409 573.93L408 573.75L407 573.76L406 573.68L405 573.29L404 573.6L403 573.86L402 573.33L401 574.03L400 574.04L399 573.43L398 573.38L397 573.94L396 573.93L395 573.34L394 573.46L393 573.39L392 573.69L391 573.82L390 573.22L389 573.91L388 573.79L387 573.38L386 573.77L385 573.91L384 573.48L383 573.91L382 573.42L381 573.65L380 574.07L379 573.96L378 573.54L377 573.26L376 573.61L375 574.01L374 574L373 574.08L372 573.43L371 573.23L370 573.5L369 573.83L368 573.96L367 573.82L366 573.82L365 573.31L364 573.52L363 573.69L362 573.88L361 573.22L360 573.95L359 573.24L358 573.57L357 573.46L356 573.88L355 573.86L354 573.64L353 573.99L352 573.9L351 574.07L350 573.65L349 573.38L348 573.78L347 574.06L346 573.66L345 573.37L344 573.5L343 573.48L342 573.53L341 574.09L340 573.62L339 573.56L338 573.79L337 574.05L336 573.67L335 573.96L334 573.69L333 574.09L332 573.98L331 573.9L330 573.84L329 573.29L328 573.72L327 573.66L326 573.74L325 573.2L324 573.93L323 573.7L322 573.38L321 573.87L320 573.86L319 573.73L318 573.71L317 573.51L316 573.77L315 573.98L314 573.39L313 573.31L312 573.28L311 573.8L310 573.33L309 573.6L308 573.25L307 573.95L306 573.72L305 573.21L304 573.92L303 573.92L302 573.33L301 573.92L300 573.34L299 573.23L298 573.92L297 573.5L296 573.23L295 573.95L294 574.04L293 574.1L292 573.61L291 574.02L290 573.71L289 573.51L288 574.04L287 573.22L286 573.94L285 573.47L284 573.21L283 573.43L282 573.91L281 573.96L280 573.7L279 573.26L278 573.24L277 574.06L276 573.76L275 573.33L274 573.33L273 573.8L272 574.09L271 573.36L270.6 501.74L270.2 482.78L269.8 465.85L269.4 461.37L269 461.51L268.6 461.56L268.2 461.32L267.8 461.44L267.4 461.5L267 461.7L266.6 461.63L266.2 461.7L265.8 461.92L265.4 461.76L265 462.3L264.6 461.77L264.2 462.46L263.8 462.76L263.4 463.34L263 463.84L262.6 465.43L262.2 465.78L261.8 467.19L261.4 468.05L261 467.62L260.6 469.34L260.2 470.72L259.8 471.48L259.4 470.78L259 472.91L258.6 473.09L258.2 474.33L257.8 474.53L257.4 471.63L257 468.25L256.6 466.28L256.2 462.83L255.8 460.5L255.4 458.8L255 458.7L254.6 458.74L254.2 458.7L253.8 458.72L253.4 458.68L253 458.7L252.6 458.75L252.2 458.72L251.8 458.7L251.4 458.73L251 458.74L250.6 458.7L250.2 458.69L249.8 458.77L249.4 458.69L249 458.7L248.6 458.76L248.2 458.68L247.8 461.39L247.4 461.32L247 460.77L246.6 461.33L246.2 461L245.8 461.25L245.4 461.13L245 461.31L244.6 461.01L244.2 461.06L243.8 460.85L243.4 461.28L243 460.97L242.6 461.05L242.2 461.06L241.8 460.96L241.4 461.05L241 461.29L240.6 461.1L240.2 461.02L239.8 461.05L239.4 461.01L239 460.91L238.6 461.04L238.2 460.66L237.8 461.39L237.4 461.2L237 461.25L236.6 460.67L236.2 461.28L235.8 461.01L235.4 460.59L235 458.93L234.6 458.99L234.6 494.03L234.3 534.8L234 552.48L233.7 559.79L233.4 565.69L233.1 571.18L232.8 572.39L232.5 571.55L232.2 571.75L231.9 570.63L231.6 570.59L231.3 568.75L231 568.67L230.7 570.44L230.4 572.08L230.1 571.73L229.8 566.87L229.5 562.68L229.2 564.78L228.9 570.27L228.6 572.62L228.3 572.82L228 573.02L227.7 573.22L227.4 573.42L227.1 573.44L226.8 573.44L226.5 573.44L226.2 573.44L225.9 573.44L225.6 573.44L225.3 573.44L225 572.28L224.7 561.47L224.4 550.66L224.1 554.41L223.8 560.6L223.5 562.92L223.2 563.1L222.9 562.16L222.6 563.62L222.3 566.61L222 569.09L221.7 571.79L221.4 571.74L221.1 572.78L220.8 572.83L220.5 573.23L220.2 573.44L219.9 573.44L219.6 573.44L219.3 573.44L219 573.44L218.7 573.44L218.4 572.09L218.1 566.98L217.8 561.17L217.5 555.62L217.2 549.02L216.9 542.93L216.6 535.02L216.3 527.8L216 536.92L215.7 545.01L215.4 547.94L215.1 549.7L214.8 554.34L214.5 561.81L214.2 567.78L213.9 567.13L213.6 567.25L213.3 566.34L213 551.92L212.7 538.42L212.4 524.49L212.1 524.27L211.8 526.43L211.5 527.27L211.2 528.78L210.9 531.99L210.6 536.81L210.3 541.56L210 545.7L209.7 546.05L209.4 547.04L209.1 547.52L208.8 549.24L208.5 551.47L208.2 553.77L207.9 557.64L207.6 563.35L207.3 568.63L207 566.33L206.7 561.92L206.4 562.94L206.1 566.65L205.8 571.03L205.5 569.57L205.2 569.26L204.9 567.91L204.6 563.7L204.3 559.04L204 551.57L203.7 542.44L203.4 535.93L203.1 533.45L202.8 531.72L202.5 529.21L202.2 528.39L201.9 530.05L201.6 531.38L201.3 533.09L201 536.06L200.7 539.13L200.4 543.49L200.1 545.9L199.8 545.59L199.5 546.16L199.2 544.96L198.9 538.07L198.6 525.52L198.3 527.35L198 536.79L197.7 543.37L197.4 544.2L197.1 544.14L196.8 545.51L196.5 546.98L196.2 548.47L195.9 553.63L195.6 567.35L195.3 568.91L195 565.1L194.7 561.65L194.4 562.3L194.1 566.27L193.8 569.66L193.5 571.94L193.2 572.31L192.9 571.99L192.6 572.93L192.3 573.33L192 573.29L191.7 573.09L191.4 572.89L191.1 572.69L190.8 572.15L190.5 572.01L190.2 572.04L189.9 571.4L189.6 570.29L189.3 570.09L189 570.07L188.7 569.53L188.4 568.22L188.1 568.41L187.8 568.02L187.5 568.83L187.2 569.16L186.9 569.99L186.6 570.26L186.3 569.99L186 571.2L185.7 570.85L185.4 571.45L185.1 570.87L184.8 571.61L184.5 570.47L184.2 570.18L183.9 568.27L183.6 567.95L183.3 566.42L183 565.63L182.7 563.47L182.4 561.21L182.1 561.82L181.8 564.78L181.5 569.58L181.2 571.9L180.9 571.97L180.6 572.57L180.3 571.27L180 571.5L179.7 570.85L179.4 569.58L179.1 568.74L178.8 567.82L178.5 565.74L178.2 564.48L177.9 561.52L177.6 560.27L177.3 561.55L177 563.24L176.7 563.85L176.4 564.3L176.1 563.49L175.8 562.9L175.5 563.73L175.2 563.43L174.9 562.65L174.6 562.53L174.3 561.73L174 562.91L173.7 565.95L173.4 569.67L173.1 571.99L172.8 573.44L172.5 573.44L172.2 573.44L171.9 573.44L171.6 573.44L171.3 573.44L171 573.44L170.7 573.44L170.4 573.44L170.1 571.91L169.8 564.16L169.5 557L169.2 552.54L168.9 559.8L168.6 566.73L168.3 573.44L168 573.44L167.7 573.44L167.4 573.44L167.1 573.44L166.8 562.62L166.5 551.25L166.2 550.94L165.9 554.32L165.6 556.91L165.3 560.52L165 566.12L164.7 571.36L164.4 573.44L164.1 573.44L163.8 573.44L163.5 573.44L163.2 573.44L162.9 573.44Z" fill="#d62728"/>
<line x1="104.5" y1="343.5" x2="1422.5" y2="343.5" stroke="#000" stroke-opacity="0.6" stroke-width="0.85" stroke-dasharray="3.07,1.33"/>
<line x1="104.5" y1="572.5" x2="1422.5" y2="572.5" stroke="#000" stroke-opacity="0.6" stroke-width="0.85" stroke-dasharray="3.07,1.33"/>
</g>
<rect x="104.5" y="330.5" width="1318" height="255" fill="none" stroke="#000" stroke-width="1.33"/>
<line x1="164.5" y1="585.5" x2="164.5" y2="591.33" stroke="#000" stroke-width="1.33"/>
<line x1="430.5" y1="585.5" x2="430.5" y2="591.33" stroke="#000" stroke-width="1.33"/>
<line x1="696.5" y1="585.5" x2="696.5" y2="591.33" stroke="#000" stroke-width="1.33"/>
<line x1="962.5" y1="585.5" x2="962.5" y2="591.33" stroke="#000" stroke-width="1.33"/>
<line x1="1228.5" y1="585.5" x2="1228.5" y2="591.33" stroke="#000" stroke-width="1.33"/>
<line x1="98.67" y1="365.5" x2="104.5" y2="365.5" stroke="#000" stroke-width="1.33"/>
<text class="t" transform="translate(92.3,371.8) scale(0.965,1.07)" text-anchor="end">0.04</text>
<line x1="98.67" y1="411.5" x2="104.5" y2="411.5" stroke="#000" stroke-width="1.33"/>
<text class="t" transform="translate(92.3,417.8) scale(0.965,1.07)" text-anchor="end">0.02</text>
<line x1="98.67" y1="458.5" x2="104.5" y2="458.5" stroke="#000" stroke-width="1.33"/>
<text class="t" transform="translate(92.3,464.8) scale(0.965,1.07)" text-anchor="end">0.00</text>
<line x1="98.67" y1="504.5" x2="104.5" y2="504.5" stroke="#000" stroke-width="1.33"/>
<text class="t" transform="translate(92.3,510.8) scale(0.965,1.07)" text-anchor="end">−0.02</text>
<line x1="98.67" y1="550.5" x2="104.5" y2="550.5" stroke="#000" stroke-width="1.33"/>
<text class="t" transform="translate(92.3,556.8) scale(0.965,1.07)" text-anchor="end">−0.04</text>
<text class="l" transform="translate(31,460.4) rotate(-90) scale(1.0,1.07)" text-anchor="middle">perturbation</text>
</g>
<g id="ax3">
<g transform="rotate(0)"><g filter="url(#spec)"><g transform="rotate(0)">
<rect x="243.9" y="616" width="915.1" height="256" fill="#cdcdcd"/>
<rect x="155" y="616" width="59.7" height="256" fill="#c8c8c8"/>
<rect x="214.7" y="616" width="29.2" height="256" fill="#393939"/>
<g clip-path="url(#cs1)"><g filter="url(#bl)">
<rect x="160" y="616.5" width="49" height="7.5" fill="#7a7a7a" fill-opacity="0.9"/>
<rect x="160" y="624" width="49" height="16" fill="#999999" fill-opacity="0.7"/>
<rect x="161.5" y="616.5" width="6.5" height="198.5" fill="#a1a1a1" fill-opacity="0.85"/>
<rect x="170" y="640" width="6" height="90" fill="#b2b2b2" fill-opacity="0.8"/>
<rect x="178.5" y="616.5" width="17" height="153.5" fill="#a3a3a3" fill-opacity="0.85"/>
<rect x="182" y="616.5" width="9" height="88.5" fill="#919191" fill-opacity="0.6"/>
<rect x="196" y="616.5" width="10" height="83.5" fill="#a8a8a8" fill-opacity="0.7"/>
<rect x="199" y="700" width="11" height="100" fill="#b2b2b2" fill-opacity="0.5"/>
<rect x="155" y="755" width="13" height="57" fill="#a8a8a8" fill-opacity="0.7"/>
<rect x="176" y="770" width="10" height="65" fill="#b2b2b2" fill-opacity="0.6"/>
<rect x="155" y="616.5" width="5.5" height="255" fill="#dbdbdb" fill-opacity="0.8"/>
<rect x="207" y="640" width="7.7" height="231.5" fill="#d6d6d6" fill-opacity="0.7"/>
<rect x="155" y="846" width="45" height="25.5" fill="#e3e3e3" fill-opacity="0.85"/>
<rect x="155" y="815" width="23" height="33" fill="#dbdbdb" fill-opacity="0.7"/>
<rect x="186" y="800" width="14" height="71.5" fill="#d9d9d9" fill-opacity="0.5"/>
<rect x="164.5" y="616" width="2.5" height="100.32" fill="#a3a3a3" fill-opacity="0.6"/>
<rect x="170" y="616" width="2.5" height="211.54" fill="#b8b8b8" fill-opacity="0.6"/>
<rect x="173" y="640.64" width="3" height="183.14" fill="#999999" fill-opacity="0.6"/>
<rect x="176.5" y="616" width="2" height="192.45" fill="#a3a3a3" fill-opacity="0.6"/>
<rect x="186" y="616" width="2.5" height="107.31" fill="#b8b8b8" fill-opacity="0.6"/>
<rect x="189" y="616" width="2.5" height="179.36" fill="#dbdbdb" fill-opacity="0.6"/>
<rect x="193.5" y="697.69" width="2.5" height="52.84" fill="#adadad" fill-opacity="0.6"/>
<rect x="206.5" y="694.34" width="3" height="118.9" fill="#dbdbdb" fill-opacity="0.6"/>
</g></g>
<g clip-path="url(#cs2)"><g filter="url(#bl2)">
<rect x="214.7" y="690" width="11.8" height="175" fill="#4f4f4f" fill-opacity="0.9"/>
<rect x="215.5" y="740" width="8.5" height="100" fill="#5c5c5c" fill-opacity="0.7"/>
<rect x="226.5" y="616.5" width="4.8" height="255" fill="#262626" fill-opacity="0.9"/>
<rect x="231.6" y="716" width="6" height="155.5" fill="#787878" fill-opacity="0.9"/>
<rect x="231.6" y="640" width="6" height="76" fill="#525252" fill-opacity="0.8"/>
<rect x="236.5" y="624" width="3" height="66" fill="#616161" fill-opacity="0.7"/>
<rect x="238.5" y="616.5" width="5.4" height="255" fill="#333333" fill-opacity="0.8"/>
<rect x="232" y="722.4" width="5.2" height="3.2" fill="#a8a8a8" fill-opacity="0.9"/>
<rect x="232" y="735.4" width="5.2" height="3.2" fill="#a8a8a8" fill-opacity="0.9"/>
<rect x="232" y="750.4" width="5.2" height="3.2" fill="#a8a8a8" fill-opacity="0.9"/>
<rect x="232" y="767.4" width="5.2" height="3.2" fill="#a8a8a8" fill-opacity="0.9"/>
<rect x="232" y="775.4" width="5.2" height="3.2" fill="#a8a8a8" fill-opacity="0.9"/>
<rect x="232" y="785.4" width="5.2" height="3.2" fill="#a8a8a8" fill-opacity="0.9"/>
<rect x="232" y="797.4" width="5.2" height="3.2" fill="#a8a8a8" fill-opacity="0.9"/>
<rect x="232" y="805.4" width="5.2" height="3.2" fill="#a8a8a8" fill-opacity="0.9"/>
<rect x="232" y="813.4" width="5.2" height="3.2" fill="#a8a8a8" fill-opacity="0.9"/>
<rect x="232" y="823.4" width="5.2" height="3.2" fill="#a8a8a8" fill-opacity="0.9"/>
<rect x="232" y="832.4" width="5.2" height="3.2" fill="#a8a8a8" fill-opacity="0.9"/>
<rect x="232" y="840.4" width="5.2" height="3.2" fill="#a8a8a8" fill-opacity="0.9"/>
<rect x="232" y="848.9" width="5.2" height="3.2" fill="#a8a8a8" fill-opacity="0.9"/>
<rect x="232" y="859.4" width="5.2" height="3.2" fill="#a8a8a8" fill-opacity="0.9"/>
<rect x="232" y="866.4" width="5.2" height="3.2" fill="#a8a8a8" fill-opacity="0.9"/>
</g></g>
</g></g></g>
<rect x="104.5" y="616.5" width="1107" height="255" fill="none" stroke="#000" stroke-width="1.33"/>
<line x1="154.5" y1="871.5" x2="154.5" y2="877.33" stroke="#000" stroke-width="1.33"/>
<text class="t" transform="translate(154.82,896.5) scale(0.965,1.07)" text-anchor="middle">0</text>
<line x1="378.5" y1="871.5" x2="378.5" y2="877.33" stroke="#000" stroke-width="1.33"/>
<text class="t" transform="translate(378.26,896.5) scale(0.965,1.07)" text-anchor="middle">5</text>
<line x1="601.5" y1="871.5" x2="601.5" y2="877.33" stroke="#000" stroke-width="1.33"/>
<text class="t" transform="translate(601.69,896.5) scale(0.965,1.07)" text-anchor="middle">10</text>
<line x1="825.5" y1="871.5" x2="825.5" y2="877.33" stroke="#000" stroke-width="1.33"/>
<text class="t" transform="translate(825.13,896.5) scale(0.965,1.07)" text-anchor="middle">15</text>
<line x1="1048.5" y1="871.5" x2="1048.5" y2="877.33" stroke="#000" stroke-width="1.33"/>
<text class="t" transform="translate(1048.57,896.5) scale(0.965,1.07)" text-anchor="middle">20</text>
<line x1="98.67" y1="871.5" x2="104.5" y2="871.5" stroke="#000" stroke-width="1.33"/>
<text class="t" transform="translate(92.3,877.8) scale(0.965,1.07)" text-anchor="end">0</text>
<line x1="98.67" y1="807.5" x2="104.5" y2="807.5" stroke="#000" stroke-width="1.33"/>
<text class="t" transform="translate(92.3,813.8) scale(0.965,1.07)" text-anchor="end">2000</text>
<line x1="98.67" y1="744.5" x2="104.5" y2="744.5" stroke="#000" stroke-width="1.33"/>
<text class="t" transform="translate(92.3,750.8) scale(0.965,1.07)" text-anchor="end">4000</text>
<line x1="98.67" y1="680.5" x2="104.5" y2="680.5" stroke="#000" stroke-width="1.33"/>
<text class="t" transform="translate(92.3,686.8) scale(0.965,1.07)" text-anchor="end">6000</text>
<line x1="98.67" y1="616.5" x2="104.5" y2="616.5" stroke="#000" stroke-width="1.33"/>
<text class="t" transform="translate(92.3,622.8) scale(0.965,1.07)" text-anchor="end">8000</text>
<text class="l" transform="translate(38,744.3) rotate(-90) scale(1.0,1.07)" text-anchor="middle">frequency (Hz)</text>
<text class="l" transform="translate(657.5,920.6) scale(1.0,1.07)" text-anchor="middle">time (s)</text>
<rect x="1224.5" y="616.5" width="13" height="255" fill="url(#magma)" stroke="#000" stroke-width="1.33"/>
<line x1="1237.5" y1="672.5" x2="1243.33" y2="672.5" stroke="#000" stroke-width="1.33"/>
<text class="t" transform="translate(1249.5,678.8) scale(0.965,1.07)" text-anchor="start">−60</text>
<line x1="1237.5" y1="738.5" x2="1243.33" y2="738.5" stroke="#000" stroke-width="1.33"/>
<text class="t" transform="translate(1249.5,744.8) scale(0.965,1.07)" text-anchor="start">−80</text>
<line x1="1237.5" y1="804.5" x2="1243.33" y2="804.5" stroke="#000" stroke-width="1.33"/>
<text class="t" transform="translate(1249.5,810.8) scale(0.965,1.07)" text-anchor="start">−100</text>
<text class="l" transform="translate(1315,744.5) rotate(-90) scale(1.0,1.07)" text-anchor="middle">dB</text>
</g>
<text class="mono" transform="translate(1426.3,954.5) scale(0.998,1.04)" text-anchor="end" xml:space="preserve">SNR:  14.97 dB   L-inf: 0.05000   RMS: 0.02791   thr: 0.04945</text>
</svg></body></html>
